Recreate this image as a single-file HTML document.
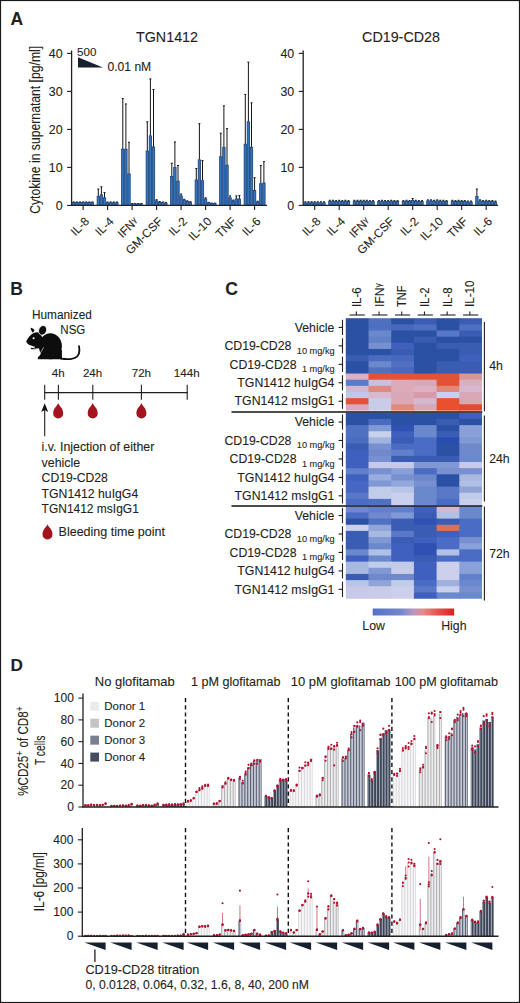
<!DOCTYPE html>
<html><head><meta charset="utf-8"><style>
html,body{margin:0;padding:0;background:#fff;}
body{width:520px;height:1003px;overflow:hidden;}
svg{display:block;font-family:"Liberation Sans", sans-serif;}
text{stroke:#231f20;stroke-width:0.1px;}
</style></head><body>
<svg width="520" height="1003" viewBox="0 0 520 1003">
<rect x="0" y="0" width="520" height="1003" fill="#fff"/>
<text x="10.50" y="25.00" font-size="17.5" font-weight="bold" fill="#231f20" >A</text>
<text x="167.00" y="42.20" font-size="14.3" text-anchor="middle" fill="#231f20" >TGN1412</text>
<line x1="71.60" y1="50.50" x2="71.60" y2="206.00" stroke="#231f20" stroke-width="1.3" />
<line x1="67.10" y1="205.40" x2="71.60" y2="205.40" stroke="#231f20" stroke-width="1.1" />
<text x="62.60" y="209.80" font-size="12.4" text-anchor="end" fill="#231f20" >0</text>
<line x1="67.10" y1="167.40" x2="71.60" y2="167.40" stroke="#231f20" stroke-width="1.1" />
<text x="62.60" y="171.80" font-size="12.4" text-anchor="end" fill="#231f20" >10</text>
<line x1="67.10" y1="129.40" x2="71.60" y2="129.40" stroke="#231f20" stroke-width="1.1" />
<text x="62.60" y="133.80" font-size="12.4" text-anchor="end" fill="#231f20" >20</text>
<line x1="67.10" y1="91.40" x2="71.60" y2="91.40" stroke="#231f20" stroke-width="1.1" />
<text x="62.60" y="95.80" font-size="12.4" text-anchor="end" fill="#231f20" >30</text>
<line x1="67.10" y1="53.40" x2="71.60" y2="53.40" stroke="#231f20" stroke-width="1.1" />
<text x="62.60" y="57.80" font-size="12.4" text-anchor="end" fill="#231f20" >40</text>
<line x1="83.10" y1="205.40" x2="83.10" y2="209.90" stroke="#231f20" stroke-width="1.1" />
<line x1="73.80" y1="201.98" x2="73.80" y2="202.36" stroke="#151515" stroke-width="1.0" />
<line x1="72.80" y1="201.98" x2="74.80" y2="201.98" stroke="#151515" stroke-width="1.0" />
<rect x="72.60" y="202.36" width="2.40" height="3.04" fill="#3575bd" stroke="#143a72" stroke-width="0.75"/>
<line x1="76.90" y1="201.98" x2="76.90" y2="202.36" stroke="#151515" stroke-width="1.0" />
<line x1="75.90" y1="201.98" x2="77.90" y2="201.98" stroke="#151515" stroke-width="1.0" />
<rect x="75.70" y="202.36" width="2.40" height="3.04" fill="#3575bd" stroke="#143a72" stroke-width="0.75"/>
<line x1="80.00" y1="201.98" x2="80.00" y2="202.36" stroke="#151515" stroke-width="1.0" />
<line x1="79.00" y1="201.98" x2="81.00" y2="201.98" stroke="#151515" stroke-width="1.0" />
<rect x="78.80" y="202.36" width="2.40" height="3.04" fill="#3575bd" stroke="#143a72" stroke-width="0.75"/>
<line x1="83.10" y1="201.98" x2="83.10" y2="202.36" stroke="#151515" stroke-width="1.0" />
<line x1="82.10" y1="201.98" x2="84.10" y2="201.98" stroke="#151515" stroke-width="1.0" />
<rect x="81.90" y="202.36" width="2.40" height="3.04" fill="#3575bd" stroke="#143a72" stroke-width="0.75"/>
<line x1="86.20" y1="201.98" x2="86.20" y2="202.36" stroke="#151515" stroke-width="1.0" />
<line x1="85.20" y1="201.98" x2="87.20" y2="201.98" stroke="#151515" stroke-width="1.0" />
<rect x="85.00" y="202.36" width="2.40" height="3.04" fill="#3575bd" stroke="#143a72" stroke-width="0.75"/>
<line x1="89.30" y1="201.98" x2="89.30" y2="202.36" stroke="#151515" stroke-width="1.0" />
<line x1="88.30" y1="201.98" x2="90.30" y2="201.98" stroke="#151515" stroke-width="1.0" />
<rect x="88.10" y="202.36" width="2.40" height="3.04" fill="#3575bd" stroke="#143a72" stroke-width="0.75"/>
<line x1="92.40" y1="201.98" x2="92.40" y2="202.36" stroke="#151515" stroke-width="1.0" />
<line x1="91.40" y1="201.98" x2="93.40" y2="201.98" stroke="#151515" stroke-width="1.0" />
<rect x="91.20" y="202.36" width="2.40" height="3.04" fill="#3575bd" stroke="#143a72" stroke-width="0.75"/>
<text transform="translate(89.80,222.20) rotate(-45)" font-size="11.8" text-anchor="end" fill="#231f20">IL-8</text>
<line x1="107.60" y1="205.40" x2="107.60" y2="209.90" stroke="#231f20" stroke-width="1.1" />
<line x1="98.30" y1="189.06" x2="98.30" y2="196.28" stroke="#151515" stroke-width="1.0" />
<line x1="97.30" y1="189.06" x2="99.30" y2="189.06" stroke="#151515" stroke-width="1.0" />
<rect x="97.10" y="196.28" width="2.40" height="9.12" fill="#3575bd" stroke="#143a72" stroke-width="0.75"/>
<line x1="101.40" y1="186.78" x2="101.40" y2="194.76" stroke="#151515" stroke-width="1.0" />
<line x1="100.40" y1="186.78" x2="102.40" y2="186.78" stroke="#151515" stroke-width="1.0" />
<rect x="100.20" y="194.76" width="2.40" height="10.64" fill="#3575bd" stroke="#143a72" stroke-width="0.75"/>
<line x1="104.50" y1="192.48" x2="104.50" y2="197.80" stroke="#151515" stroke-width="1.0" />
<line x1="103.50" y1="192.48" x2="105.50" y2="192.48" stroke="#151515" stroke-width="1.0" />
<rect x="103.30" y="197.80" width="2.40" height="7.60" fill="#3575bd" stroke="#143a72" stroke-width="0.75"/>
<line x1="107.60" y1="201.98" x2="107.60" y2="202.74" stroke="#151515" stroke-width="1.0" />
<line x1="106.60" y1="201.98" x2="108.60" y2="201.98" stroke="#151515" stroke-width="1.0" />
<rect x="106.40" y="202.74" width="2.40" height="2.66" fill="#3575bd" stroke="#143a72" stroke-width="0.75"/>
<line x1="110.70" y1="201.98" x2="110.70" y2="202.74" stroke="#151515" stroke-width="1.0" />
<line x1="109.70" y1="201.98" x2="111.70" y2="201.98" stroke="#151515" stroke-width="1.0" />
<rect x="109.50" y="202.74" width="2.40" height="2.66" fill="#3575bd" stroke="#143a72" stroke-width="0.75"/>
<line x1="113.80" y1="201.98" x2="113.80" y2="202.74" stroke="#151515" stroke-width="1.0" />
<line x1="112.80" y1="201.98" x2="114.80" y2="201.98" stroke="#151515" stroke-width="1.0" />
<rect x="112.60" y="202.74" width="2.40" height="2.66" fill="#3575bd" stroke="#143a72" stroke-width="0.75"/>
<line x1="116.90" y1="201.98" x2="116.90" y2="202.74" stroke="#151515" stroke-width="1.0" />
<line x1="115.90" y1="201.98" x2="117.90" y2="201.98" stroke="#151515" stroke-width="1.0" />
<rect x="115.70" y="202.74" width="2.40" height="2.66" fill="#3575bd" stroke="#143a72" stroke-width="0.75"/>
<text transform="translate(114.30,222.20) rotate(-45)" font-size="11.8" text-anchor="end" fill="#231f20">IL-4</text>
<line x1="132.10" y1="205.40" x2="132.10" y2="209.90" stroke="#231f20" stroke-width="1.1" />
<line x1="122.80" y1="98.62" x2="122.80" y2="149.16" stroke="#151515" stroke-width="1.0" />
<line x1="121.80" y1="98.62" x2="123.80" y2="98.62" stroke="#151515" stroke-width="1.0" />
<rect x="121.60" y="149.16" width="2.40" height="56.24" fill="#3575bd" stroke="#143a72" stroke-width="0.75"/>
<line x1="125.90" y1="103.94" x2="125.90" y2="149.16" stroke="#151515" stroke-width="1.0" />
<line x1="124.90" y1="103.94" x2="126.90" y2="103.94" stroke="#151515" stroke-width="1.0" />
<rect x="124.70" y="149.16" width="2.40" height="56.24" fill="#3575bd" stroke="#143a72" stroke-width="0.75"/>
<line x1="129.00" y1="142.32" x2="129.00" y2="173.86" stroke="#151515" stroke-width="1.0" />
<line x1="128.00" y1="142.32" x2="130.00" y2="142.32" stroke="#151515" stroke-width="1.0" />
<rect x="127.80" y="173.86" width="2.40" height="31.54" fill="#3575bd" stroke="#143a72" stroke-width="0.75"/>
<line x1="132.10" y1="203.50" x2="132.10" y2="203.88" stroke="#151515" stroke-width="1.0" />
<line x1="131.10" y1="203.50" x2="133.10" y2="203.50" stroke="#151515" stroke-width="1.0" />
<rect x="130.90" y="203.88" width="2.40" height="1.52" fill="#3575bd" stroke="#143a72" stroke-width="0.75"/>
<line x1="135.20" y1="203.50" x2="135.20" y2="203.88" stroke="#151515" stroke-width="1.0" />
<line x1="134.20" y1="203.50" x2="136.20" y2="203.50" stroke="#151515" stroke-width="1.0" />
<rect x="134.00" y="203.88" width="2.40" height="1.52" fill="#3575bd" stroke="#143a72" stroke-width="0.75"/>
<line x1="138.30" y1="203.50" x2="138.30" y2="203.88" stroke="#151515" stroke-width="1.0" />
<line x1="137.30" y1="203.50" x2="139.30" y2="203.50" stroke="#151515" stroke-width="1.0" />
<rect x="137.10" y="203.88" width="2.40" height="1.52" fill="#3575bd" stroke="#143a72" stroke-width="0.75"/>
<line x1="141.40" y1="203.50" x2="141.40" y2="203.88" stroke="#151515" stroke-width="1.0" />
<line x1="140.40" y1="203.50" x2="142.40" y2="203.50" stroke="#151515" stroke-width="1.0" />
<rect x="140.20" y="203.88" width="2.40" height="1.52" fill="#3575bd" stroke="#143a72" stroke-width="0.75"/>
<text transform="translate(138.80,222.20) rotate(-45)" font-size="11.8" text-anchor="end" fill="#231f20">IFN<tspan font-size="8.4" dy="-2.6">&#947;</tspan></text>
<line x1="156.60" y1="205.40" x2="156.60" y2="209.90" stroke="#231f20" stroke-width="1.1" />
<line x1="147.30" y1="121.80" x2="147.30" y2="151.06" stroke="#151515" stroke-width="1.0" />
<line x1="146.30" y1="121.80" x2="148.30" y2="121.80" stroke="#151515" stroke-width="1.0" />
<rect x="146.10" y="151.06" width="2.40" height="54.34" fill="#3575bd" stroke="#143a72" stroke-width="0.75"/>
<line x1="150.40" y1="78.86" x2="150.40" y2="135.86" stroke="#151515" stroke-width="1.0" />
<line x1="149.40" y1="78.86" x2="151.40" y2="78.86" stroke="#151515" stroke-width="1.0" />
<rect x="149.20" y="135.86" width="2.40" height="69.54" fill="#3575bd" stroke="#143a72" stroke-width="0.75"/>
<line x1="153.50" y1="89.50" x2="153.50" y2="146.88" stroke="#151515" stroke-width="1.0" />
<line x1="152.50" y1="89.50" x2="154.50" y2="89.50" stroke="#151515" stroke-width="1.0" />
<rect x="152.30" y="146.88" width="2.40" height="58.52" fill="#3575bd" stroke="#143a72" stroke-width="0.75"/>
<line x1="156.60" y1="199.70" x2="156.60" y2="200.84" stroke="#151515" stroke-width="1.0" />
<line x1="155.60" y1="199.70" x2="157.60" y2="199.70" stroke="#151515" stroke-width="1.0" />
<rect x="155.40" y="200.84" width="2.40" height="4.56" fill="#3575bd" stroke="#143a72" stroke-width="0.75"/>
<line x1="159.70" y1="201.60" x2="159.70" y2="202.36" stroke="#151515" stroke-width="1.0" />
<line x1="158.70" y1="201.60" x2="160.70" y2="201.60" stroke="#151515" stroke-width="1.0" />
<rect x="158.50" y="202.36" width="2.40" height="3.04" fill="#3575bd" stroke="#143a72" stroke-width="0.75"/>
<line x1="162.80" y1="201.98" x2="162.80" y2="202.74" stroke="#151515" stroke-width="1.0" />
<line x1="161.80" y1="201.98" x2="163.80" y2="201.98" stroke="#151515" stroke-width="1.0" />
<rect x="161.60" y="202.74" width="2.40" height="2.66" fill="#3575bd" stroke="#143a72" stroke-width="0.75"/>
<line x1="165.90" y1="202.36" x2="165.90" y2="203.12" stroke="#151515" stroke-width="1.0" />
<line x1="164.90" y1="202.36" x2="166.90" y2="202.36" stroke="#151515" stroke-width="1.0" />
<rect x="164.70" y="203.12" width="2.40" height="2.28" fill="#3575bd" stroke="#143a72" stroke-width="0.75"/>
<text transform="translate(163.30,222.20) rotate(-45)" font-size="11.8" text-anchor="end" fill="#231f20">GM-CSF</text>
<line x1="181.10" y1="205.40" x2="181.10" y2="209.90" stroke="#231f20" stroke-width="1.1" />
<line x1="171.80" y1="163.22" x2="171.80" y2="176.52" stroke="#151515" stroke-width="1.0" />
<line x1="170.80" y1="163.22" x2="172.80" y2="163.22" stroke="#151515" stroke-width="1.0" />
<rect x="170.60" y="176.52" width="2.40" height="28.88" fill="#3575bd" stroke="#143a72" stroke-width="0.75"/>
<line x1="174.90" y1="141.94" x2="174.90" y2="167.40" stroke="#151515" stroke-width="1.0" />
<line x1="173.90" y1="141.94" x2="175.90" y2="141.94" stroke="#151515" stroke-width="1.0" />
<rect x="173.70" y="167.40" width="2.40" height="38.00" fill="#3575bd" stroke="#143a72" stroke-width="0.75"/>
<line x1="178.00" y1="165.50" x2="178.00" y2="181.08" stroke="#151515" stroke-width="1.0" />
<line x1="177.00" y1="165.50" x2="179.00" y2="165.50" stroke="#151515" stroke-width="1.0" />
<rect x="176.80" y="181.08" width="2.40" height="24.32" fill="#3575bd" stroke="#143a72" stroke-width="0.75"/>
<line x1="181.10" y1="194.00" x2="181.10" y2="195.90" stroke="#151515" stroke-width="1.0" />
<line x1="180.10" y1="194.00" x2="182.10" y2="194.00" stroke="#151515" stroke-width="1.0" />
<rect x="179.90" y="195.90" width="2.40" height="9.50" fill="#3575bd" stroke="#143a72" stroke-width="0.75"/>
<line x1="184.20" y1="199.32" x2="184.20" y2="200.08" stroke="#151515" stroke-width="1.0" />
<line x1="183.20" y1="199.32" x2="185.20" y2="199.32" stroke="#151515" stroke-width="1.0" />
<rect x="183.00" y="200.08" width="2.40" height="5.32" fill="#3575bd" stroke="#143a72" stroke-width="0.75"/>
<line x1="187.30" y1="200.84" x2="187.30" y2="201.60" stroke="#151515" stroke-width="1.0" />
<line x1="186.30" y1="200.84" x2="188.30" y2="200.84" stroke="#151515" stroke-width="1.0" />
<rect x="186.10" y="201.60" width="2.40" height="3.80" fill="#3575bd" stroke="#143a72" stroke-width="0.75"/>
<line x1="190.40" y1="201.60" x2="190.40" y2="202.36" stroke="#151515" stroke-width="1.0" />
<line x1="189.40" y1="201.60" x2="191.40" y2="201.60" stroke="#151515" stroke-width="1.0" />
<rect x="189.20" y="202.36" width="2.40" height="3.04" fill="#3575bd" stroke="#143a72" stroke-width="0.75"/>
<text transform="translate(187.80,222.20) rotate(-45)" font-size="11.8" text-anchor="end" fill="#231f20">IL-2</text>
<line x1="205.60" y1="205.40" x2="205.60" y2="209.90" stroke="#231f20" stroke-width="1.1" />
<line x1="196.30" y1="168.54" x2="196.30" y2="179.94" stroke="#151515" stroke-width="1.0" />
<line x1="195.30" y1="168.54" x2="197.30" y2="168.54" stroke="#151515" stroke-width="1.0" />
<rect x="195.10" y="179.94" width="2.40" height="25.46" fill="#3575bd" stroke="#143a72" stroke-width="0.75"/>
<line x1="199.40" y1="123.70" x2="199.40" y2="159.80" stroke="#151515" stroke-width="1.0" />
<line x1="198.40" y1="123.70" x2="200.40" y2="123.70" stroke="#151515" stroke-width="1.0" />
<rect x="198.20" y="159.80" width="2.40" height="45.60" fill="#3575bd" stroke="#143a72" stroke-width="0.75"/>
<line x1="202.50" y1="160.56" x2="202.50" y2="180.70" stroke="#151515" stroke-width="1.0" />
<line x1="201.50" y1="160.56" x2="203.50" y2="160.56" stroke="#151515" stroke-width="1.0" />
<rect x="201.30" y="180.70" width="2.40" height="24.70" fill="#3575bd" stroke="#143a72" stroke-width="0.75"/>
<line x1="205.60" y1="197.80" x2="205.60" y2="198.94" stroke="#151515" stroke-width="1.0" />
<line x1="204.60" y1="197.80" x2="206.60" y2="197.80" stroke="#151515" stroke-width="1.0" />
<rect x="204.40" y="198.94" width="2.40" height="6.46" fill="#3575bd" stroke="#143a72" stroke-width="0.75"/>
<line x1="208.70" y1="202.36" x2="208.70" y2="202.74" stroke="#151515" stroke-width="1.0" />
<line x1="207.70" y1="202.36" x2="209.70" y2="202.36" stroke="#151515" stroke-width="1.0" />
<rect x="207.50" y="202.74" width="2.40" height="2.66" fill="#3575bd" stroke="#143a72" stroke-width="0.75"/>
<line x1="211.80" y1="203.12" x2="211.80" y2="203.50" stroke="#151515" stroke-width="1.0" />
<line x1="210.80" y1="203.12" x2="212.80" y2="203.12" stroke="#151515" stroke-width="1.0" />
<rect x="210.60" y="203.50" width="2.40" height="1.90" fill="#3575bd" stroke="#143a72" stroke-width="0.75"/>
<line x1="214.90" y1="203.12" x2="214.90" y2="203.50" stroke="#151515" stroke-width="1.0" />
<line x1="213.90" y1="203.12" x2="215.90" y2="203.12" stroke="#151515" stroke-width="1.0" />
<rect x="213.70" y="203.50" width="2.40" height="1.90" fill="#3575bd" stroke="#143a72" stroke-width="0.75"/>
<text transform="translate(212.30,222.20) rotate(-45)" font-size="11.8" text-anchor="end" fill="#231f20">IL-10</text>
<line x1="230.10" y1="205.40" x2="230.10" y2="209.90" stroke="#231f20" stroke-width="1.1" />
<line x1="220.80" y1="133.20" x2="220.80" y2="156.76" stroke="#151515" stroke-width="1.0" />
<line x1="219.80" y1="133.20" x2="221.80" y2="133.20" stroke="#151515" stroke-width="1.0" />
<rect x="219.60" y="156.76" width="2.40" height="48.64" fill="#3575bd" stroke="#143a72" stroke-width="0.75"/>
<line x1="223.90" y1="105.84" x2="223.90" y2="147.26" stroke="#151515" stroke-width="1.0" />
<line x1="222.90" y1="105.84" x2="224.90" y2="105.84" stroke="#151515" stroke-width="1.0" />
<rect x="222.70" y="147.26" width="2.40" height="58.14" fill="#3575bd" stroke="#143a72" stroke-width="0.75"/>
<line x1="227.00" y1="128.64" x2="227.00" y2="165.12" stroke="#151515" stroke-width="1.0" />
<line x1="226.00" y1="128.64" x2="228.00" y2="128.64" stroke="#151515" stroke-width="1.0" />
<rect x="225.80" y="165.12" width="2.40" height="40.28" fill="#3575bd" stroke="#143a72" stroke-width="0.75"/>
<line x1="230.10" y1="195.90" x2="230.10" y2="197.80" stroke="#151515" stroke-width="1.0" />
<line x1="229.10" y1="195.90" x2="231.10" y2="195.90" stroke="#151515" stroke-width="1.0" />
<rect x="228.90" y="197.80" width="2.40" height="7.60" fill="#3575bd" stroke="#143a72" stroke-width="0.75"/>
<line x1="233.20" y1="200.08" x2="233.20" y2="200.84" stroke="#151515" stroke-width="1.0" />
<line x1="232.20" y1="200.08" x2="234.20" y2="200.08" stroke="#151515" stroke-width="1.0" />
<rect x="232.00" y="200.84" width="2.40" height="4.56" fill="#3575bd" stroke="#143a72" stroke-width="0.75"/>
<line x1="236.30" y1="195.90" x2="236.30" y2="198.94" stroke="#151515" stroke-width="1.0" />
<line x1="235.30" y1="195.90" x2="237.30" y2="195.90" stroke="#151515" stroke-width="1.0" />
<rect x="235.10" y="198.94" width="2.40" height="6.46" fill="#3575bd" stroke="#143a72" stroke-width="0.75"/>
<line x1="239.40" y1="195.52" x2="239.40" y2="198.94" stroke="#151515" stroke-width="1.0" />
<line x1="238.40" y1="195.52" x2="240.40" y2="195.52" stroke="#151515" stroke-width="1.0" />
<rect x="238.20" y="198.94" width="2.40" height="6.46" fill="#3575bd" stroke="#143a72" stroke-width="0.75"/>
<text transform="translate(236.80,222.20) rotate(-45)" font-size="11.8" text-anchor="end" fill="#231f20">TNF</text>
<line x1="254.60" y1="205.40" x2="254.60" y2="209.90" stroke="#231f20" stroke-width="1.1" />
<line x1="245.30" y1="94.44" x2="245.30" y2="144.22" stroke="#151515" stroke-width="1.0" />
<line x1="244.30" y1="94.44" x2="246.30" y2="94.44" stroke="#151515" stroke-width="1.0" />
<rect x="244.10" y="144.22" width="2.40" height="61.18" fill="#3575bd" stroke="#143a72" stroke-width="0.75"/>
<line x1="248.40" y1="62.14" x2="248.40" y2="121.80" stroke="#151515" stroke-width="1.0" />
<line x1="247.40" y1="62.14" x2="249.40" y2="62.14" stroke="#151515" stroke-width="1.0" />
<rect x="247.20" y="121.80" width="2.40" height="83.60" fill="#3575bd" stroke="#143a72" stroke-width="0.75"/>
<line x1="251.50" y1="102.80" x2="251.50" y2="147.26" stroke="#151515" stroke-width="1.0" />
<line x1="250.50" y1="102.80" x2="252.50" y2="102.80" stroke="#151515" stroke-width="1.0" />
<rect x="250.30" y="147.26" width="2.40" height="58.14" fill="#3575bd" stroke="#143a72" stroke-width="0.75"/>
<line x1="254.60" y1="177.66" x2="254.60" y2="190.58" stroke="#151515" stroke-width="1.0" />
<line x1="253.60" y1="177.66" x2="255.60" y2="177.66" stroke="#151515" stroke-width="1.0" />
<rect x="253.40" y="190.58" width="2.40" height="14.82" fill="#3575bd" stroke="#143a72" stroke-width="0.75"/>
<line x1="257.70" y1="201.22" x2="257.70" y2="201.98" stroke="#151515" stroke-width="1.0" />
<line x1="256.70" y1="201.22" x2="258.70" y2="201.22" stroke="#151515" stroke-width="1.0" />
<rect x="256.50" y="201.98" width="2.40" height="3.42" fill="#3575bd" stroke="#143a72" stroke-width="0.75"/>
<line x1="260.80" y1="165.50" x2="260.80" y2="183.74" stroke="#151515" stroke-width="1.0" />
<line x1="259.80" y1="165.50" x2="261.80" y2="165.50" stroke="#151515" stroke-width="1.0" />
<rect x="259.60" y="183.74" width="2.40" height="21.66" fill="#3575bd" stroke="#143a72" stroke-width="0.75"/>
<line x1="263.90" y1="161.70" x2="263.90" y2="182.98" stroke="#151515" stroke-width="1.0" />
<line x1="262.90" y1="161.70" x2="264.90" y2="161.70" stroke="#151515" stroke-width="1.0" />
<rect x="262.70" y="182.98" width="2.40" height="22.42" fill="#3575bd" stroke="#143a72" stroke-width="0.75"/>
<text transform="translate(261.30,222.20) rotate(-45)" font-size="11.8" text-anchor="end" fill="#231f20">IL-6</text>
<line x1="71.00" y1="205.40" x2="267.00" y2="205.40" stroke="#231f20" stroke-width="1.3" />
<text x="401.00" y="42.20" font-size="14.3" text-anchor="middle" fill="#231f20" >CD19-CD28</text>
<line x1="303.20" y1="50.50" x2="303.20" y2="206.00" stroke="#231f20" stroke-width="1.3" />
<line x1="298.70" y1="205.40" x2="303.20" y2="205.40" stroke="#231f20" stroke-width="1.1" />
<text x="294.20" y="209.80" font-size="12.4" text-anchor="end" fill="#231f20" >0</text>
<line x1="298.70" y1="167.40" x2="303.20" y2="167.40" stroke="#231f20" stroke-width="1.1" />
<text x="294.20" y="171.80" font-size="12.4" text-anchor="end" fill="#231f20" >10</text>
<line x1="298.70" y1="129.40" x2="303.20" y2="129.40" stroke="#231f20" stroke-width="1.1" />
<text x="294.20" y="133.80" font-size="12.4" text-anchor="end" fill="#231f20" >20</text>
<line x1="298.70" y1="91.40" x2="303.20" y2="91.40" stroke="#231f20" stroke-width="1.1" />
<text x="294.20" y="95.80" font-size="12.4" text-anchor="end" fill="#231f20" >30</text>
<line x1="298.70" y1="53.40" x2="303.20" y2="53.40" stroke="#231f20" stroke-width="1.1" />
<text x="294.20" y="57.80" font-size="12.4" text-anchor="end" fill="#231f20" >40</text>
<line x1="314.70" y1="205.40" x2="314.70" y2="209.90" stroke="#231f20" stroke-width="1.1" />
<line x1="305.40" y1="201.79" x2="305.40" y2="202.74" stroke="#151515" stroke-width="1.0" />
<line x1="304.40" y1="201.79" x2="306.40" y2="201.79" stroke="#151515" stroke-width="1.0" />
<rect x="304.20" y="202.74" width="2.40" height="2.66" fill="#3575bd" stroke="#143a72" stroke-width="0.75"/>
<line x1="308.50" y1="201.79" x2="308.50" y2="202.74" stroke="#151515" stroke-width="1.0" />
<line x1="307.50" y1="201.79" x2="309.50" y2="201.79" stroke="#151515" stroke-width="1.0" />
<rect x="307.30" y="202.74" width="2.40" height="2.66" fill="#3575bd" stroke="#143a72" stroke-width="0.75"/>
<line x1="311.60" y1="201.79" x2="311.60" y2="202.74" stroke="#151515" stroke-width="1.0" />
<line x1="310.60" y1="201.79" x2="312.60" y2="201.79" stroke="#151515" stroke-width="1.0" />
<rect x="310.40" y="202.74" width="2.40" height="2.66" fill="#3575bd" stroke="#143a72" stroke-width="0.75"/>
<line x1="314.70" y1="201.79" x2="314.70" y2="202.74" stroke="#151515" stroke-width="1.0" />
<line x1="313.70" y1="201.79" x2="315.70" y2="201.79" stroke="#151515" stroke-width="1.0" />
<rect x="313.50" y="202.74" width="2.40" height="2.66" fill="#3575bd" stroke="#143a72" stroke-width="0.75"/>
<line x1="317.80" y1="201.79" x2="317.80" y2="202.74" stroke="#151515" stroke-width="1.0" />
<line x1="316.80" y1="201.79" x2="318.80" y2="201.79" stroke="#151515" stroke-width="1.0" />
<rect x="316.60" y="202.74" width="2.40" height="2.66" fill="#3575bd" stroke="#143a72" stroke-width="0.75"/>
<line x1="320.90" y1="201.79" x2="320.90" y2="202.74" stroke="#151515" stroke-width="1.0" />
<line x1="319.90" y1="201.79" x2="321.90" y2="201.79" stroke="#151515" stroke-width="1.0" />
<rect x="319.70" y="202.74" width="2.40" height="2.66" fill="#3575bd" stroke="#143a72" stroke-width="0.75"/>
<line x1="324.00" y1="201.79" x2="324.00" y2="202.74" stroke="#151515" stroke-width="1.0" />
<line x1="323.00" y1="201.79" x2="325.00" y2="201.79" stroke="#151515" stroke-width="1.0" />
<rect x="322.80" y="202.74" width="2.40" height="2.66" fill="#3575bd" stroke="#143a72" stroke-width="0.75"/>
<text transform="translate(321.40,222.20) rotate(-45)" font-size="11.8" text-anchor="end" fill="#231f20">IL-8</text>
<line x1="339.20" y1="205.40" x2="339.20" y2="209.90" stroke="#231f20" stroke-width="1.1" />
<line x1="329.90" y1="200.27" x2="329.90" y2="201.22" stroke="#151515" stroke-width="1.0" />
<line x1="328.90" y1="200.27" x2="330.90" y2="200.27" stroke="#151515" stroke-width="1.0" />
<rect x="328.70" y="201.22" width="2.40" height="4.18" fill="#3575bd" stroke="#143a72" stroke-width="0.75"/>
<line x1="333.00" y1="200.27" x2="333.00" y2="201.22" stroke="#151515" stroke-width="1.0" />
<line x1="332.00" y1="200.27" x2="334.00" y2="200.27" stroke="#151515" stroke-width="1.0" />
<rect x="331.80" y="201.22" width="2.40" height="4.18" fill="#3575bd" stroke="#143a72" stroke-width="0.75"/>
<line x1="336.10" y1="200.65" x2="336.10" y2="201.60" stroke="#151515" stroke-width="1.0" />
<line x1="335.10" y1="200.65" x2="337.10" y2="200.65" stroke="#151515" stroke-width="1.0" />
<rect x="334.90" y="201.60" width="2.40" height="3.80" fill="#3575bd" stroke="#143a72" stroke-width="0.75"/>
<line x1="339.20" y1="200.27" x2="339.20" y2="201.22" stroke="#151515" stroke-width="1.0" />
<line x1="338.20" y1="200.27" x2="340.20" y2="200.27" stroke="#151515" stroke-width="1.0" />
<rect x="338.00" y="201.22" width="2.40" height="4.18" fill="#3575bd" stroke="#143a72" stroke-width="0.75"/>
<line x1="342.30" y1="200.65" x2="342.30" y2="201.60" stroke="#151515" stroke-width="1.0" />
<line x1="341.30" y1="200.65" x2="343.30" y2="200.65" stroke="#151515" stroke-width="1.0" />
<rect x="341.10" y="201.60" width="2.40" height="3.80" fill="#3575bd" stroke="#143a72" stroke-width="0.75"/>
<line x1="345.40" y1="200.27" x2="345.40" y2="201.22" stroke="#151515" stroke-width="1.0" />
<line x1="344.40" y1="200.27" x2="346.40" y2="200.27" stroke="#151515" stroke-width="1.0" />
<rect x="344.20" y="201.22" width="2.40" height="4.18" fill="#3575bd" stroke="#143a72" stroke-width="0.75"/>
<line x1="348.50" y1="200.65" x2="348.50" y2="201.60" stroke="#151515" stroke-width="1.0" />
<line x1="347.50" y1="200.65" x2="349.50" y2="200.65" stroke="#151515" stroke-width="1.0" />
<rect x="347.30" y="201.60" width="2.40" height="3.80" fill="#3575bd" stroke="#143a72" stroke-width="0.75"/>
<text transform="translate(345.90,222.20) rotate(-45)" font-size="11.8" text-anchor="end" fill="#231f20">IL-4</text>
<line x1="363.70" y1="205.40" x2="363.70" y2="209.90" stroke="#231f20" stroke-width="1.1" />
<line x1="354.40" y1="200.27" x2="354.40" y2="201.22" stroke="#151515" stroke-width="1.0" />
<line x1="353.40" y1="200.27" x2="355.40" y2="200.27" stroke="#151515" stroke-width="1.0" />
<rect x="353.20" y="201.22" width="2.40" height="4.18" fill="#3575bd" stroke="#143a72" stroke-width="0.75"/>
<line x1="357.50" y1="200.27" x2="357.50" y2="201.22" stroke="#151515" stroke-width="1.0" />
<line x1="356.50" y1="200.27" x2="358.50" y2="200.27" stroke="#151515" stroke-width="1.0" />
<rect x="356.30" y="201.22" width="2.40" height="4.18" fill="#3575bd" stroke="#143a72" stroke-width="0.75"/>
<line x1="360.60" y1="200.27" x2="360.60" y2="201.22" stroke="#151515" stroke-width="1.0" />
<line x1="359.60" y1="200.27" x2="361.60" y2="200.27" stroke="#151515" stroke-width="1.0" />
<rect x="359.40" y="201.22" width="2.40" height="4.18" fill="#3575bd" stroke="#143a72" stroke-width="0.75"/>
<line x1="363.70" y1="200.27" x2="363.70" y2="201.22" stroke="#151515" stroke-width="1.0" />
<line x1="362.70" y1="200.27" x2="364.70" y2="200.27" stroke="#151515" stroke-width="1.0" />
<rect x="362.50" y="201.22" width="2.40" height="4.18" fill="#3575bd" stroke="#143a72" stroke-width="0.75"/>
<line x1="366.80" y1="200.27" x2="366.80" y2="201.22" stroke="#151515" stroke-width="1.0" />
<line x1="365.80" y1="200.27" x2="367.80" y2="200.27" stroke="#151515" stroke-width="1.0" />
<rect x="365.60" y="201.22" width="2.40" height="4.18" fill="#3575bd" stroke="#143a72" stroke-width="0.75"/>
<line x1="369.90" y1="200.65" x2="369.90" y2="201.60" stroke="#151515" stroke-width="1.0" />
<line x1="368.90" y1="200.65" x2="370.90" y2="200.65" stroke="#151515" stroke-width="1.0" />
<rect x="368.70" y="201.60" width="2.40" height="3.80" fill="#3575bd" stroke="#143a72" stroke-width="0.75"/>
<line x1="373.00" y1="200.65" x2="373.00" y2="201.60" stroke="#151515" stroke-width="1.0" />
<line x1="372.00" y1="200.65" x2="374.00" y2="200.65" stroke="#151515" stroke-width="1.0" />
<rect x="371.80" y="201.60" width="2.40" height="3.80" fill="#3575bd" stroke="#143a72" stroke-width="0.75"/>
<text transform="translate(370.40,222.20) rotate(-45)" font-size="11.8" text-anchor="end" fill="#231f20">IFN<tspan font-size="8.4" dy="-2.6">&#947;</tspan></text>
<line x1="388.20" y1="205.40" x2="388.20" y2="209.90" stroke="#231f20" stroke-width="1.1" />
<line x1="378.90" y1="200.65" x2="378.90" y2="201.60" stroke="#151515" stroke-width="1.0" />
<line x1="377.90" y1="200.65" x2="379.90" y2="200.65" stroke="#151515" stroke-width="1.0" />
<rect x="377.70" y="201.60" width="2.40" height="3.80" fill="#3575bd" stroke="#143a72" stroke-width="0.75"/>
<line x1="382.00" y1="200.27" x2="382.00" y2="201.22" stroke="#151515" stroke-width="1.0" />
<line x1="381.00" y1="200.27" x2="383.00" y2="200.27" stroke="#151515" stroke-width="1.0" />
<rect x="380.80" y="201.22" width="2.40" height="4.18" fill="#3575bd" stroke="#143a72" stroke-width="0.75"/>
<line x1="385.10" y1="200.65" x2="385.10" y2="201.60" stroke="#151515" stroke-width="1.0" />
<line x1="384.10" y1="200.65" x2="386.10" y2="200.65" stroke="#151515" stroke-width="1.0" />
<rect x="383.90" y="201.60" width="2.40" height="3.80" fill="#3575bd" stroke="#143a72" stroke-width="0.75"/>
<line x1="388.20" y1="200.65" x2="388.20" y2="201.60" stroke="#151515" stroke-width="1.0" />
<line x1="387.20" y1="200.65" x2="389.20" y2="200.65" stroke="#151515" stroke-width="1.0" />
<rect x="387.00" y="201.60" width="2.40" height="3.80" fill="#3575bd" stroke="#143a72" stroke-width="0.75"/>
<line x1="391.30" y1="200.27" x2="391.30" y2="201.22" stroke="#151515" stroke-width="1.0" />
<line x1="390.30" y1="200.27" x2="392.30" y2="200.27" stroke="#151515" stroke-width="1.0" />
<rect x="390.10" y="201.22" width="2.40" height="4.18" fill="#3575bd" stroke="#143a72" stroke-width="0.75"/>
<line x1="394.40" y1="200.65" x2="394.40" y2="201.60" stroke="#151515" stroke-width="1.0" />
<line x1="393.40" y1="200.65" x2="395.40" y2="200.65" stroke="#151515" stroke-width="1.0" />
<rect x="393.20" y="201.60" width="2.40" height="3.80" fill="#3575bd" stroke="#143a72" stroke-width="0.75"/>
<line x1="397.50" y1="200.65" x2="397.50" y2="201.60" stroke="#151515" stroke-width="1.0" />
<line x1="396.50" y1="200.65" x2="398.50" y2="200.65" stroke="#151515" stroke-width="1.0" />
<rect x="396.30" y="201.60" width="2.40" height="3.80" fill="#3575bd" stroke="#143a72" stroke-width="0.75"/>
<text transform="translate(394.90,222.20) rotate(-45)" font-size="11.8" text-anchor="end" fill="#231f20">GM-CSF</text>
<line x1="412.70" y1="205.40" x2="412.70" y2="209.90" stroke="#231f20" stroke-width="1.1" />
<line x1="403.40" y1="200.65" x2="403.40" y2="201.60" stroke="#151515" stroke-width="1.0" />
<line x1="402.40" y1="200.65" x2="404.40" y2="200.65" stroke="#151515" stroke-width="1.0" />
<rect x="402.20" y="201.60" width="2.40" height="3.80" fill="#3575bd" stroke="#143a72" stroke-width="0.75"/>
<line x1="406.50" y1="200.27" x2="406.50" y2="201.22" stroke="#151515" stroke-width="1.0" />
<line x1="405.50" y1="200.27" x2="407.50" y2="200.27" stroke="#151515" stroke-width="1.0" />
<rect x="405.30" y="201.22" width="2.40" height="4.18" fill="#3575bd" stroke="#143a72" stroke-width="0.75"/>
<line x1="409.60" y1="200.65" x2="409.60" y2="201.60" stroke="#151515" stroke-width="1.0" />
<line x1="408.60" y1="200.65" x2="410.60" y2="200.65" stroke="#151515" stroke-width="1.0" />
<rect x="408.40" y="201.60" width="2.40" height="3.80" fill="#3575bd" stroke="#143a72" stroke-width="0.75"/>
<line x1="412.70" y1="198.56" x2="412.70" y2="200.46" stroke="#151515" stroke-width="1.0" />
<line x1="411.70" y1="198.56" x2="413.70" y2="198.56" stroke="#151515" stroke-width="1.0" />
<rect x="411.50" y="200.46" width="2.40" height="4.94" fill="#3575bd" stroke="#143a72" stroke-width="0.75"/>
<line x1="415.80" y1="200.27" x2="415.80" y2="201.22" stroke="#151515" stroke-width="1.0" />
<line x1="414.80" y1="200.27" x2="416.80" y2="200.27" stroke="#151515" stroke-width="1.0" />
<rect x="414.60" y="201.22" width="2.40" height="4.18" fill="#3575bd" stroke="#143a72" stroke-width="0.75"/>
<line x1="418.90" y1="200.65" x2="418.90" y2="201.60" stroke="#151515" stroke-width="1.0" />
<line x1="417.90" y1="200.65" x2="419.90" y2="200.65" stroke="#151515" stroke-width="1.0" />
<rect x="417.70" y="201.60" width="2.40" height="3.80" fill="#3575bd" stroke="#143a72" stroke-width="0.75"/>
<line x1="422.00" y1="200.65" x2="422.00" y2="201.60" stroke="#151515" stroke-width="1.0" />
<line x1="421.00" y1="200.65" x2="423.00" y2="200.65" stroke="#151515" stroke-width="1.0" />
<rect x="420.80" y="201.60" width="2.40" height="3.80" fill="#3575bd" stroke="#143a72" stroke-width="0.75"/>
<text transform="translate(419.40,222.20) rotate(-45)" font-size="11.8" text-anchor="end" fill="#231f20">IL-2</text>
<line x1="437.20" y1="205.40" x2="437.20" y2="209.90" stroke="#231f20" stroke-width="1.1" />
<line x1="427.90" y1="199.89" x2="427.90" y2="200.84" stroke="#151515" stroke-width="1.0" />
<line x1="426.90" y1="199.89" x2="428.90" y2="199.89" stroke="#151515" stroke-width="1.0" />
<rect x="426.70" y="200.84" width="2.40" height="4.56" fill="#3575bd" stroke="#143a72" stroke-width="0.75"/>
<line x1="431.00" y1="199.89" x2="431.00" y2="200.84" stroke="#151515" stroke-width="1.0" />
<line x1="430.00" y1="199.89" x2="432.00" y2="199.89" stroke="#151515" stroke-width="1.0" />
<rect x="429.80" y="200.84" width="2.40" height="4.56" fill="#3575bd" stroke="#143a72" stroke-width="0.75"/>
<line x1="434.10" y1="200.27" x2="434.10" y2="201.22" stroke="#151515" stroke-width="1.0" />
<line x1="433.10" y1="200.27" x2="435.10" y2="200.27" stroke="#151515" stroke-width="1.0" />
<rect x="432.90" y="201.22" width="2.40" height="4.18" fill="#3575bd" stroke="#143a72" stroke-width="0.75"/>
<line x1="437.20" y1="199.89" x2="437.20" y2="200.84" stroke="#151515" stroke-width="1.0" />
<line x1="436.20" y1="199.89" x2="438.20" y2="199.89" stroke="#151515" stroke-width="1.0" />
<rect x="436.00" y="200.84" width="2.40" height="4.56" fill="#3575bd" stroke="#143a72" stroke-width="0.75"/>
<line x1="440.30" y1="200.27" x2="440.30" y2="201.22" stroke="#151515" stroke-width="1.0" />
<line x1="439.30" y1="200.27" x2="441.30" y2="200.27" stroke="#151515" stroke-width="1.0" />
<rect x="439.10" y="201.22" width="2.40" height="4.18" fill="#3575bd" stroke="#143a72" stroke-width="0.75"/>
<line x1="443.40" y1="200.27" x2="443.40" y2="201.22" stroke="#151515" stroke-width="1.0" />
<line x1="442.40" y1="200.27" x2="444.40" y2="200.27" stroke="#151515" stroke-width="1.0" />
<rect x="442.20" y="201.22" width="2.40" height="4.18" fill="#3575bd" stroke="#143a72" stroke-width="0.75"/>
<line x1="446.50" y1="200.65" x2="446.50" y2="201.60" stroke="#151515" stroke-width="1.0" />
<line x1="445.50" y1="200.65" x2="447.50" y2="200.65" stroke="#151515" stroke-width="1.0" />
<rect x="445.30" y="201.60" width="2.40" height="3.80" fill="#3575bd" stroke="#143a72" stroke-width="0.75"/>
<text transform="translate(443.90,222.20) rotate(-45)" font-size="11.8" text-anchor="end" fill="#231f20">IL-10</text>
<line x1="461.70" y1="205.40" x2="461.70" y2="209.90" stroke="#231f20" stroke-width="1.1" />
<line x1="452.40" y1="200.27" x2="452.40" y2="201.22" stroke="#151515" stroke-width="1.0" />
<line x1="451.40" y1="200.27" x2="453.40" y2="200.27" stroke="#151515" stroke-width="1.0" />
<rect x="451.20" y="201.22" width="2.40" height="4.18" fill="#3575bd" stroke="#143a72" stroke-width="0.75"/>
<line x1="455.50" y1="200.65" x2="455.50" y2="201.60" stroke="#151515" stroke-width="1.0" />
<line x1="454.50" y1="200.65" x2="456.50" y2="200.65" stroke="#151515" stroke-width="1.0" />
<rect x="454.30" y="201.60" width="2.40" height="3.80" fill="#3575bd" stroke="#143a72" stroke-width="0.75"/>
<line x1="458.60" y1="200.27" x2="458.60" y2="201.22" stroke="#151515" stroke-width="1.0" />
<line x1="457.60" y1="200.27" x2="459.60" y2="200.27" stroke="#151515" stroke-width="1.0" />
<rect x="457.40" y="201.22" width="2.40" height="4.18" fill="#3575bd" stroke="#143a72" stroke-width="0.75"/>
<line x1="461.70" y1="200.65" x2="461.70" y2="201.60" stroke="#151515" stroke-width="1.0" />
<line x1="460.70" y1="200.65" x2="462.70" y2="200.65" stroke="#151515" stroke-width="1.0" />
<rect x="460.50" y="201.60" width="2.40" height="3.80" fill="#3575bd" stroke="#143a72" stroke-width="0.75"/>
<line x1="464.80" y1="200.65" x2="464.80" y2="201.60" stroke="#151515" stroke-width="1.0" />
<line x1="463.80" y1="200.65" x2="465.80" y2="200.65" stroke="#151515" stroke-width="1.0" />
<rect x="463.60" y="201.60" width="2.40" height="3.80" fill="#3575bd" stroke="#143a72" stroke-width="0.75"/>
<line x1="467.90" y1="201.03" x2="467.90" y2="201.98" stroke="#151515" stroke-width="1.0" />
<line x1="466.90" y1="201.03" x2="468.90" y2="201.03" stroke="#151515" stroke-width="1.0" />
<rect x="466.70" y="201.98" width="2.40" height="3.42" fill="#3575bd" stroke="#143a72" stroke-width="0.75"/>
<line x1="471.00" y1="201.03" x2="471.00" y2="201.98" stroke="#151515" stroke-width="1.0" />
<line x1="470.00" y1="201.03" x2="472.00" y2="201.03" stroke="#151515" stroke-width="1.0" />
<rect x="469.80" y="201.98" width="2.40" height="3.42" fill="#3575bd" stroke="#143a72" stroke-width="0.75"/>
<text transform="translate(468.40,222.20) rotate(-45)" font-size="11.8" text-anchor="end" fill="#231f20">TNF</text>
<line x1="486.20" y1="205.40" x2="486.20" y2="209.90" stroke="#231f20" stroke-width="1.1" />
<line x1="476.90" y1="189.06" x2="476.90" y2="196.28" stroke="#151515" stroke-width="1.0" />
<line x1="475.90" y1="189.06" x2="477.90" y2="189.06" stroke="#151515" stroke-width="1.0" />
<rect x="475.70" y="196.28" width="2.40" height="9.12" fill="#3575bd" stroke="#143a72" stroke-width="0.75"/>
<line x1="480.00" y1="199.89" x2="480.00" y2="200.84" stroke="#151515" stroke-width="1.0" />
<line x1="479.00" y1="199.89" x2="481.00" y2="199.89" stroke="#151515" stroke-width="1.0" />
<rect x="478.80" y="200.84" width="2.40" height="4.56" fill="#3575bd" stroke="#143a72" stroke-width="0.75"/>
<line x1="483.10" y1="200.65" x2="483.10" y2="201.60" stroke="#151515" stroke-width="1.0" />
<line x1="482.10" y1="200.65" x2="484.10" y2="200.65" stroke="#151515" stroke-width="1.0" />
<rect x="481.90" y="201.60" width="2.40" height="3.80" fill="#3575bd" stroke="#143a72" stroke-width="0.75"/>
<line x1="486.20" y1="200.27" x2="486.20" y2="201.22" stroke="#151515" stroke-width="1.0" />
<line x1="485.20" y1="200.27" x2="487.20" y2="200.27" stroke="#151515" stroke-width="1.0" />
<rect x="485.00" y="201.22" width="2.40" height="4.18" fill="#3575bd" stroke="#143a72" stroke-width="0.75"/>
<line x1="489.30" y1="200.65" x2="489.30" y2="201.60" stroke="#151515" stroke-width="1.0" />
<line x1="488.30" y1="200.65" x2="490.30" y2="200.65" stroke="#151515" stroke-width="1.0" />
<rect x="488.10" y="201.60" width="2.40" height="3.80" fill="#3575bd" stroke="#143a72" stroke-width="0.75"/>
<line x1="492.40" y1="200.65" x2="492.40" y2="201.60" stroke="#151515" stroke-width="1.0" />
<line x1="491.40" y1="200.65" x2="493.40" y2="200.65" stroke="#151515" stroke-width="1.0" />
<rect x="491.20" y="201.60" width="2.40" height="3.80" fill="#3575bd" stroke="#143a72" stroke-width="0.75"/>
<line x1="495.50" y1="201.03" x2="495.50" y2="201.98" stroke="#151515" stroke-width="1.0" />
<line x1="494.50" y1="201.03" x2="496.50" y2="201.03" stroke="#151515" stroke-width="1.0" />
<rect x="494.30" y="201.98" width="2.40" height="3.42" fill="#3575bd" stroke="#143a72" stroke-width="0.75"/>
<text transform="translate(492.90,222.20) rotate(-45)" font-size="11.8" text-anchor="end" fill="#231f20">IL-6</text>
<line x1="302.60" y1="205.40" x2="498.00" y2="205.40" stroke="#231f20" stroke-width="1.3" />
<text x="77.00" y="55.60" font-size="11.6" fill="#231f20" >500</text>
<polygon points="78,57.2 78,67.6 103,67.6" fill="#16202e"/>
<text x="107.50" y="70.80" font-size="12.1" fill="#231f20" >0.01 nM</text>
<text transform="translate(40.30,129.80) rotate(-90)" font-size="14.5" text-anchor="middle" fill="#231f20" textLength="168" lengthAdjust="spacingAndGlyphs">Cytokine in supernatant [pg/ml]</text>
<text x="10.30" y="295.20" font-size="17.5" font-weight="bold" fill="#231f20" >B</text>
<text x="32.00" y="318.90" font-size="12.3" fill="#231f20" textLength="59.8" lengthAdjust="spacingAndGlyphs" >Humanized</text>
<text x="60.30" y="333.80" font-size="12.3" fill="#231f20" textLength="25" lengthAdjust="spacingAndGlyphs" >NSG</text>
<g fill="#0d0d0d"><ellipse cx="50.4" cy="346.2" rx="11.5" ry="13"/><path d="M26.3 341.3 C27.6 338.2 30.2 334.8 33.2 333.3 C35.2 332.3 37.5 331.8 39.5 332.6 C41.5 334 42.5 337 42 341 L41.5 352 C40.5 354.5 39.5 355.8 38.6 356.6 C37.6 357.1 37.4 358.3 38.2 359.2 L62 359.2 L61.9 350 L44 350 L43 347.3 C41 348.2 39 348.6 37 348.4 L34.3 348.5 C33 347.8 31.8 347.5 31.3 347.8 C30.6 348.3 30.8 349.1 31.6 349.2 L35.8 349.3 L35.8 348.6 C34.5 347.6 33.4 346.6 32.4 346 C30.8 345.3 29.2 344.9 28.2 344.2 C27 343.4 26.4 342.4 26.3 341.3 Z"/><path d="M30.6 327.8 C32 328.2 33.6 328.9 34.6 329.9 L33 332.8 C31.8 331.8 30.9 330.4 30.6 327.8 Z"/></g><ellipse cx="42.6" cy="330.3" rx="3.9" ry="4.9" transform="rotate(22 42.6 330.3)" fill="#0d0d0d" stroke="#fff" stroke-width="0.75"/><circle cx="33.6" cy="338.2" r="1.05" fill="#fff"/><path d="M43.6 347.3 C42.6 349.3 41.5 351.2 40.5 352.8" fill="none" stroke="#fff" stroke-width="0.6"/><path d="M31.5 346.8 L35 346.6" stroke="#fff" stroke-width="0.55"/><path d="M61 358.7 C68 359.7 74 359.1 77 356.6 C79.5 354.4 79.7 350 79 346.2" fill="none" stroke="#0d0d0d" stroke-width="1.8" stroke-linecap="round"/>
<line x1="44.20" y1="392.60" x2="187.70" y2="392.60" stroke="#231f20" stroke-width="1.1" />
<line x1="44.70" y1="384.80" x2="44.70" y2="399.80" stroke="#231f20" stroke-width="1.1" />
<line x1="58.40" y1="384.80" x2="58.40" y2="399.80" stroke="#231f20" stroke-width="1.1" />
<line x1="92.80" y1="384.80" x2="92.80" y2="399.80" stroke="#231f20" stroke-width="1.1" />
<line x1="141.40" y1="384.80" x2="141.40" y2="399.80" stroke="#231f20" stroke-width="1.1" />
<line x1="187.20" y1="384.80" x2="187.20" y2="399.80" stroke="#231f20" stroke-width="1.1" />
<text x="58.20" y="376.80" font-size="11.6" text-anchor="middle" fill="#231f20" >4h</text>
<text x="92.60" y="376.80" font-size="11.6" text-anchor="middle" fill="#231f20" >24h</text>
<text x="141.40" y="376.80" font-size="11.6" text-anchor="middle" fill="#231f20" >72h</text>
<text x="186.70" y="376.80" font-size="11.6" text-anchor="middle" fill="#231f20" >144h</text>
<path d="M58.20 403.10 C59.40 406.60 63.20 408.00 63.20 413.50 A5.0 5.0 0 0 1 53.20 413.50 C53.20 408.00 57.00 406.60 58.20 403.10 Z" fill="#a3141f"/>
<path d="M92.70 403.10 C93.90 406.60 97.70 408.00 97.70 413.50 A5.0 5.0 0 0 1 87.70 413.50 C87.70 408.00 91.50 406.60 92.70 403.10 Z" fill="#a3141f"/>
<path d="M141.40 403.10 C142.60 406.60 146.40 408.00 146.40 413.50 A5.0 5.0 0 0 1 136.40 413.50 C136.40 408.00 140.20 406.60 141.40 403.10 Z" fill="#a3141f"/>
<line x1="44.70" y1="408.00" x2="44.70" y2="436.20" stroke="#231f20" stroke-width="1.1" />
<path d="M44.7 403.3 L48.2 412 L44.7 410 L41.2 412 Z" fill="#111"/>
<text x="41.60" y="451.20" font-size="12.4" fill="#231f20" >i.v. Injection of either</text>
<text x="41.60" y="466.75" font-size="12.4" fill="#231f20" >vehicle</text>
<text x="41.60" y="482.30" font-size="12.4" fill="#231f20" textLength="66.3" lengthAdjust="spacingAndGlyphs" >CD19-CD28</text>
<text x="41.60" y="497.85" font-size="12.4" fill="#231f20" textLength="96.6" lengthAdjust="spacingAndGlyphs" >TGN1412 huIgG4</text>
<text x="41.60" y="513.40" font-size="12.4" fill="#231f20" textLength="97.2" lengthAdjust="spacingAndGlyphs" >TGN1412 msIgG1</text>
<path d="M47.50 524.20 C48.70 527.70 52.50 528.90 52.50 534.40 A5.0 5.0 0 0 1 42.50 534.40 C42.50 528.90 46.30 527.70 47.50 524.20 Z" fill="#a3141f"/>
<text x="58.60" y="536.20" font-size="12.5" fill="#231f20" >Bleeding time point</text>
<text x="225.30" y="295.30" font-size="17.5" font-weight="bold" fill="#231f20" >C</text>
<rect x="345.80" y="318.20" width="23.70" height="7.15" fill="#2b51a4" />
<rect x="368.50" y="318.20" width="23.70" height="7.15" fill="#5070c0" />
<rect x="391.20" y="318.20" width="23.70" height="7.15" fill="#2b51a4" />
<rect x="413.90" y="318.20" width="23.70" height="7.15" fill="#3a5db3" />
<rect x="436.60" y="318.20" width="23.70" height="7.15" fill="#2b51a4" />
<rect x="459.30" y="318.20" width="22.70" height="7.15" fill="#3a5db3" />
<rect x="345.80" y="324.35" width="23.70" height="7.15" fill="#2b51a4" />
<rect x="368.50" y="324.35" width="23.70" height="7.15" fill="#4f70c2" />
<rect x="391.20" y="324.35" width="23.70" height="7.15" fill="#4868c0" />
<rect x="413.90" y="324.35" width="23.70" height="7.15" fill="#4f70c2" />
<rect x="436.60" y="324.35" width="23.70" height="7.15" fill="#2b51a4" />
<rect x="459.30" y="324.35" width="22.70" height="7.15" fill="#4f70c2" />
<rect x="345.80" y="330.50" width="23.70" height="7.15" fill="#2b51a4" />
<rect x="368.50" y="330.50" width="23.70" height="7.15" fill="#6a88cc" />
<rect x="391.20" y="330.50" width="23.70" height="7.15" fill="#2b51a4" />
<rect x="413.90" y="330.50" width="23.70" height="7.15" fill="#2b51a4" />
<rect x="436.60" y="330.50" width="23.70" height="7.15" fill="#5a78c8" />
<rect x="459.30" y="330.50" width="22.70" height="7.15" fill="#3a5db3" />
<rect x="345.80" y="336.65" width="23.70" height="7.15" fill="#2b51a4" />
<rect x="368.50" y="336.65" width="23.70" height="7.15" fill="#6080c8" />
<rect x="391.20" y="336.65" width="23.70" height="7.15" fill="#2b51a4" />
<rect x="413.90" y="336.65" width="23.70" height="7.15" fill="#3a5db3" />
<rect x="436.60" y="336.65" width="23.70" height="7.15" fill="#2b51a4" />
<rect x="459.30" y="336.65" width="22.70" height="7.15" fill="#2b51a4" />
<rect x="345.80" y="342.80" width="23.70" height="7.15" fill="#2b51a4" />
<rect x="368.50" y="342.80" width="23.70" height="7.15" fill="#7890d0" />
<rect x="391.20" y="342.80" width="23.70" height="7.15" fill="#4060bc" />
<rect x="413.90" y="342.80" width="23.70" height="7.15" fill="#2b51a4" />
<rect x="436.60" y="342.80" width="23.70" height="7.15" fill="#3a5db3" />
<rect x="459.30" y="342.80" width="22.70" height="7.15" fill="#3a5db3" />
<rect x="345.80" y="348.95" width="23.70" height="7.15" fill="#2b51a4" />
<rect x="368.50" y="348.95" width="23.70" height="7.15" fill="#2b51a4" />
<rect x="391.20" y="348.95" width="23.70" height="7.15" fill="#3a5db3" />
<rect x="413.90" y="348.95" width="23.70" height="7.15" fill="#2b51a4" />
<rect x="436.60" y="348.95" width="23.70" height="7.15" fill="#2b51a4" />
<rect x="459.30" y="348.95" width="22.70" height="7.15" fill="#3a5db3" />
<rect x="345.80" y="355.10" width="23.70" height="7.15" fill="#3a5db3" />
<rect x="368.50" y="355.10" width="23.70" height="7.15" fill="#4a6cc0" />
<rect x="391.20" y="355.10" width="23.70" height="7.15" fill="#4868c0" />
<rect x="413.90" y="355.10" width="23.70" height="7.15" fill="#2b51a4" />
<rect x="436.60" y="355.10" width="23.70" height="7.15" fill="#2b51a4" />
<rect x="459.30" y="355.10" width="22.70" height="7.15" fill="#4060c0" />
<rect x="345.80" y="361.25" width="23.70" height="7.15" fill="#2b51a4" />
<rect x="368.50" y="361.25" width="23.70" height="7.15" fill="#6a88cc" />
<rect x="391.20" y="361.25" width="23.70" height="7.15" fill="#5070c4" />
<rect x="413.90" y="361.25" width="23.70" height="7.15" fill="#2b51a4" />
<rect x="436.60" y="361.25" width="23.70" height="7.15" fill="#3a5db3" />
<rect x="459.30" y="361.25" width="22.70" height="7.15" fill="#3a5db3" />
<rect x="345.80" y="367.40" width="23.70" height="7.15" fill="#2b51a4" />
<rect x="368.50" y="367.40" width="23.70" height="7.15" fill="#5070c0" />
<rect x="391.20" y="367.40" width="23.70" height="7.15" fill="#4868c0" />
<rect x="413.90" y="367.40" width="23.70" height="7.15" fill="#2b51a4" />
<rect x="436.60" y="367.40" width="23.70" height="7.15" fill="#3a5db3" />
<rect x="459.30" y="367.40" width="22.70" height="7.15" fill="#3a5db3" />
<rect x="345.80" y="373.55" width="23.70" height="7.15" fill="#dcb0c0" />
<rect x="368.50" y="373.55" width="23.70" height="7.15" fill="#e25237" />
<rect x="391.20" y="373.55" width="23.70" height="7.15" fill="#e25237" />
<rect x="413.90" y="373.55" width="23.70" height="7.15" fill="#e25237" />
<rect x="436.60" y="373.55" width="23.70" height="7.15" fill="#e25237" />
<rect x="459.30" y="373.55" width="22.70" height="7.15" fill="#d89898" />
<rect x="345.80" y="379.70" width="23.70" height="7.15" fill="#5a7cc8" />
<rect x="368.50" y="379.70" width="23.70" height="7.15" fill="#c8c0dc" />
<rect x="391.20" y="379.70" width="23.70" height="7.15" fill="#dcaab8" />
<rect x="413.90" y="379.70" width="23.70" height="7.15" fill="#d8a8b8" />
<rect x="436.60" y="379.70" width="23.70" height="7.15" fill="#e25237" />
<rect x="459.30" y="379.70" width="22.70" height="7.15" fill="#d8b0c0" />
<rect x="345.80" y="385.85" width="23.70" height="7.15" fill="#d0b8d0" />
<rect x="368.50" y="385.85" width="23.70" height="7.15" fill="#de8a80" />
<rect x="391.20" y="385.85" width="23.70" height="7.15" fill="#dcaab8" />
<rect x="413.90" y="385.85" width="23.70" height="7.15" fill="#dcb0c0" />
<rect x="436.60" y="385.85" width="23.70" height="7.15" fill="#e0887a" />
<rect x="459.30" y="385.85" width="22.70" height="7.15" fill="#d8b8d0" />
<rect x="345.80" y="392.00" width="23.70" height="7.15" fill="#c0c8e8" />
<rect x="368.50" y="392.00" width="23.70" height="7.15" fill="#d8b8cc" />
<rect x="391.20" y="392.00" width="23.70" height="7.15" fill="#d8a8b8" />
<rect x="413.90" y="392.00" width="23.70" height="7.15" fill="#d89aa8" />
<rect x="436.60" y="392.00" width="23.70" height="7.15" fill="#c8d0f0" />
<rect x="459.30" y="392.00" width="22.70" height="7.15" fill="#d8a8b8" />
<rect x="345.80" y="398.15" width="23.70" height="7.15" fill="#e25237" />
<rect x="368.50" y="398.15" width="23.70" height="7.15" fill="#c8cce8" />
<rect x="391.20" y="398.15" width="23.70" height="7.15" fill="#dca8b4" />
<rect x="413.90" y="398.15" width="23.70" height="7.15" fill="#d4b8d0" />
<rect x="436.60" y="398.15" width="23.70" height="7.15" fill="#e85030" />
<rect x="459.30" y="398.15" width="22.70" height="7.15" fill="#d8a8b0" />
<rect x="345.80" y="404.30" width="23.70" height="6.35" fill="#d8a8c0" />
<rect x="368.50" y="404.30" width="23.70" height="6.35" fill="#c8cce8" />
<rect x="391.20" y="404.30" width="23.70" height="6.35" fill="#df8a80" />
<rect x="413.90" y="404.30" width="23.70" height="6.35" fill="#d8a8b8" />
<rect x="436.60" y="404.30" width="23.70" height="6.35" fill="#e85030" />
<rect x="459.30" y="404.30" width="22.70" height="6.35" fill="#e84830" />
<rect x="345.80" y="412.80" width="23.70" height="7.15" fill="#2b51a4" />
<rect x="368.50" y="412.80" width="23.70" height="7.15" fill="#2b51a4" />
<rect x="391.20" y="412.80" width="23.70" height="7.15" fill="#2b51a4" />
<rect x="413.90" y="412.80" width="23.70" height="7.15" fill="#2b51a4" />
<rect x="436.60" y="412.80" width="23.70" height="7.15" fill="#2b51a4" />
<rect x="459.30" y="412.80" width="22.70" height="7.15" fill="#4060c0" />
<rect x="345.80" y="418.95" width="23.70" height="7.15" fill="#2b51a4" />
<rect x="368.50" y="418.95" width="23.70" height="7.15" fill="#4a6cc0" />
<rect x="391.20" y="418.95" width="23.70" height="7.15" fill="#2b51a4" />
<rect x="413.90" y="418.95" width="23.70" height="7.15" fill="#2b51a4" />
<rect x="436.60" y="418.95" width="23.70" height="7.15" fill="#3a5db3" />
<rect x="459.30" y="418.95" width="22.70" height="7.15" fill="#2b51a4" />
<rect x="345.80" y="425.10" width="23.70" height="7.15" fill="#5070c4" />
<rect x="368.50" y="425.10" width="23.70" height="7.15" fill="#8098d4" />
<rect x="391.20" y="425.10" width="23.70" height="7.15" fill="#3050b4" />
<rect x="413.90" y="425.10" width="23.70" height="7.15" fill="#6a88cc" />
<rect x="436.60" y="425.10" width="23.70" height="7.15" fill="#2b51a4" />
<rect x="459.30" y="425.10" width="22.70" height="7.15" fill="#8aa0d8" />
<rect x="345.80" y="431.25" width="23.70" height="7.15" fill="#5070c4" />
<rect x="368.50" y="431.25" width="23.70" height="7.15" fill="#c8d0ec" />
<rect x="391.20" y="431.25" width="23.70" height="7.15" fill="#4060c0" />
<rect x="413.90" y="431.25" width="23.70" height="7.15" fill="#6a88cc" />
<rect x="436.60" y="431.25" width="23.70" height="7.15" fill="#3a5db3" />
<rect x="459.30" y="431.25" width="22.70" height="7.15" fill="#8aa0d8" />
<rect x="345.80" y="437.40" width="23.70" height="7.15" fill="#4a6cc0" />
<rect x="368.50" y="437.40" width="23.70" height="7.15" fill="#a0b4e0" />
<rect x="391.20" y="437.40" width="23.70" height="7.15" fill="#3a5db3" />
<rect x="413.90" y="437.40" width="23.70" height="7.15" fill="#4a6cc4" />
<rect x="436.60" y="437.40" width="23.70" height="7.15" fill="#2a4cb0" />
<rect x="459.30" y="437.40" width="22.70" height="7.15" fill="#8098d4" />
<rect x="345.80" y="443.55" width="23.70" height="7.15" fill="#3a5db3" />
<rect x="368.50" y="443.55" width="23.70" height="7.15" fill="#7890d0" />
<rect x="391.20" y="443.55" width="23.70" height="7.15" fill="#4a6cc4" />
<rect x="413.90" y="443.55" width="23.70" height="7.15" fill="#4a6cc4" />
<rect x="436.60" y="443.55" width="23.70" height="7.15" fill="#2b51a4" />
<rect x="459.30" y="443.55" width="22.70" height="7.15" fill="#7088cc" />
<rect x="345.80" y="449.70" width="23.70" height="7.15" fill="#4060c0" />
<rect x="368.50" y="449.70" width="23.70" height="7.15" fill="#7088cc" />
<rect x="391.20" y="449.70" width="23.70" height="7.15" fill="#6080cc" />
<rect x="413.90" y="449.70" width="23.70" height="7.15" fill="#4a6cc4" />
<rect x="436.60" y="449.70" width="23.70" height="7.15" fill="#2b51a4" />
<rect x="459.30" y="449.70" width="22.70" height="7.15" fill="#7088cc" />
<rect x="345.80" y="455.85" width="23.70" height="7.15" fill="#4060c0" />
<rect x="368.50" y="455.85" width="23.70" height="7.15" fill="#7890d0" />
<rect x="391.20" y="455.85" width="23.70" height="7.15" fill="#3a5db3" />
<rect x="413.90" y="455.85" width="23.70" height="7.15" fill="#3a5db3" />
<rect x="436.60" y="455.85" width="23.70" height="7.15" fill="#3a5db3" />
<rect x="459.30" y="455.85" width="22.70" height="7.15" fill="#6a88cc" />
<rect x="345.80" y="462.00" width="23.70" height="7.15" fill="#4060c0" />
<rect x="368.50" y="462.00" width="23.70" height="7.15" fill="#c8c8e8" />
<rect x="391.20" y="462.00" width="23.70" height="7.15" fill="#c8c8e8" />
<rect x="413.90" y="462.00" width="23.70" height="7.15" fill="#8098d4" />
<rect x="436.60" y="462.00" width="23.70" height="7.15" fill="#8098d4" />
<rect x="459.30" y="462.00" width="22.70" height="7.15" fill="#c8c8e8" />
<rect x="345.80" y="468.15" width="23.70" height="7.15" fill="#6080cc" />
<rect x="368.50" y="468.15" width="23.70" height="7.15" fill="#7890d0" />
<rect x="391.20" y="468.15" width="23.70" height="7.15" fill="#8aa0d8" />
<rect x="413.90" y="468.15" width="23.70" height="7.15" fill="#4a6cc4" />
<rect x="436.60" y="468.15" width="23.70" height="7.15" fill="#7890d0" />
<rect x="459.30" y="468.15" width="22.70" height="7.15" fill="#7890d0" />
<rect x="345.80" y="474.30" width="23.70" height="7.15" fill="#4060c0" />
<rect x="368.50" y="474.30" width="23.70" height="7.15" fill="#98ace0" />
<rect x="391.20" y="474.30" width="23.70" height="7.15" fill="#7890d0" />
<rect x="413.90" y="474.30" width="23.70" height="7.15" fill="#6a88cc" />
<rect x="436.60" y="474.30" width="23.70" height="7.15" fill="#2b51a4" />
<rect x="459.30" y="474.30" width="22.70" height="7.15" fill="#a8b8e0" />
<rect x="345.80" y="480.45" width="23.70" height="7.15" fill="#4866c4" />
<rect x="368.50" y="480.45" width="23.70" height="7.15" fill="#8098d4" />
<rect x="391.20" y="480.45" width="23.70" height="7.15" fill="#90a8dc" />
<rect x="413.90" y="480.45" width="23.70" height="7.15" fill="#7890d0" />
<rect x="436.60" y="480.45" width="23.70" height="7.15" fill="#2b51a4" />
<rect x="459.30" y="480.45" width="22.70" height="7.15" fill="#b0c0e4" />
<rect x="345.80" y="486.60" width="23.70" height="7.15" fill="#4866c4" />
<rect x="368.50" y="486.60" width="23.70" height="7.15" fill="#c0cce8" />
<rect x="391.20" y="486.60" width="23.70" height="7.15" fill="#b8c4e8" />
<rect x="413.90" y="486.60" width="23.70" height="7.15" fill="#6a88cc" />
<rect x="436.60" y="486.60" width="23.70" height="7.15" fill="#5a78c8" />
<rect x="459.30" y="486.60" width="22.70" height="7.15" fill="#90a4d8" />
<rect x="345.80" y="492.75" width="23.70" height="7.15" fill="#5a78c8" />
<rect x="368.50" y="492.75" width="23.70" height="7.15" fill="#c0cce8" />
<rect x="391.20" y="492.75" width="23.70" height="7.15" fill="#c8d0ee" />
<rect x="413.90" y="492.75" width="23.70" height="7.15" fill="#6a88cc" />
<rect x="436.60" y="492.75" width="23.70" height="7.15" fill="#5a78c8" />
<rect x="459.30" y="492.75" width="22.70" height="7.15" fill="#c0cce8" />
<rect x="345.80" y="498.90" width="23.70" height="6.35" fill="#4a6cc4" />
<rect x="368.50" y="498.90" width="23.70" height="6.35" fill="#5070c4" />
<rect x="391.20" y="498.90" width="23.70" height="6.35" fill="#c8d0ee" />
<rect x="413.90" y="498.90" width="23.70" height="6.35" fill="#6a88cc" />
<rect x="436.60" y="498.90" width="23.70" height="6.35" fill="#4a6cc4" />
<rect x="459.30" y="498.90" width="22.70" height="6.35" fill="#c8d0ee" />
<rect x="345.80" y="506.30" width="23.70" height="7.15" fill="#7088cc" />
<rect x="368.50" y="506.30" width="23.70" height="7.15" fill="#6080cc" />
<rect x="391.20" y="506.30" width="23.70" height="7.15" fill="#6080cc" />
<rect x="413.90" y="506.30" width="23.70" height="7.15" fill="#4060c0" />
<rect x="436.60" y="506.30" width="23.70" height="7.15" fill="#d0b8d0" />
<rect x="459.30" y="506.30" width="22.70" height="7.15" fill="#6a88cc" />
<rect x="345.80" y="512.45" width="23.70" height="7.15" fill="#4a6cc4" />
<rect x="368.50" y="512.45" width="23.70" height="7.15" fill="#7088cc" />
<rect x="391.20" y="512.45" width="23.70" height="7.15" fill="#8098d4" />
<rect x="413.90" y="512.45" width="23.70" height="7.15" fill="#3a5db3" />
<rect x="436.60" y="512.45" width="23.70" height="7.15" fill="#b0c0e4" />
<rect x="459.30" y="512.45" width="22.70" height="7.15" fill="#6a88cc" />
<rect x="345.80" y="518.60" width="23.70" height="7.15" fill="#2b51a4" />
<rect x="368.50" y="518.60" width="23.70" height="7.15" fill="#5070c4" />
<rect x="391.20" y="518.60" width="23.70" height="7.15" fill="#3a5db3" />
<rect x="413.90" y="518.60" width="23.70" height="7.15" fill="#3050b4" />
<rect x="436.60" y="518.60" width="23.70" height="7.15" fill="#3a5db3" />
<rect x="459.30" y="518.60" width="22.70" height="7.15" fill="#4a6cc4" />
<rect x="345.80" y="524.75" width="23.70" height="7.15" fill="#c8d0ee" />
<rect x="368.50" y="524.75" width="23.70" height="7.15" fill="#90a4d8" />
<rect x="391.20" y="524.75" width="23.70" height="7.15" fill="#3a5db3" />
<rect x="413.90" y="524.75" width="23.70" height="7.15" fill="#3a5db3" />
<rect x="436.60" y="524.75" width="23.70" height="7.15" fill="#e07050" />
<rect x="459.30" y="524.75" width="22.70" height="7.15" fill="#4a6cc4" />
<rect x="345.80" y="530.90" width="23.70" height="7.15" fill="#3a5db3" />
<rect x="368.50" y="530.90" width="23.70" height="7.15" fill="#a8b8e0" />
<rect x="391.20" y="530.90" width="23.70" height="7.15" fill="#5a78c8" />
<rect x="413.90" y="530.90" width="23.70" height="7.15" fill="#3a5db3" />
<rect x="436.60" y="530.90" width="23.70" height="7.15" fill="#4060c0" />
<rect x="459.30" y="530.90" width="22.70" height="7.15" fill="#4a6cc4" />
<rect x="345.80" y="537.05" width="23.70" height="7.15" fill="#3a5db3" />
<rect x="368.50" y="537.05" width="23.70" height="7.15" fill="#8098d4" />
<rect x="391.20" y="537.05" width="23.70" height="7.15" fill="#3a5db3" />
<rect x="413.90" y="537.05" width="23.70" height="7.15" fill="#4060c0" />
<rect x="436.60" y="537.05" width="23.70" height="7.15" fill="#4a6cc4" />
<rect x="459.30" y="537.05" width="22.70" height="7.15" fill="#7890d0" />
<rect x="345.80" y="543.20" width="23.70" height="7.15" fill="#3a5db3" />
<rect x="368.50" y="543.20" width="23.70" height="7.15" fill="#6a88cc" />
<rect x="391.20" y="543.20" width="23.70" height="7.15" fill="#4060c0" />
<rect x="413.90" y="543.20" width="23.70" height="7.15" fill="#3050b4" />
<rect x="436.60" y="543.20" width="23.70" height="7.15" fill="#4a6cc4" />
<rect x="459.30" y="543.20" width="22.70" height="7.15" fill="#8aa0d8" />
<rect x="345.80" y="549.35" width="23.70" height="7.15" fill="#6a88cc" />
<rect x="368.50" y="549.35" width="23.70" height="7.15" fill="#b0c0e4" />
<rect x="391.20" y="549.35" width="23.70" height="7.15" fill="#4060c0" />
<rect x="413.90" y="549.35" width="23.70" height="7.15" fill="#3050b4" />
<rect x="436.60" y="549.35" width="23.70" height="7.15" fill="#b0c0e4" />
<rect x="459.30" y="549.35" width="22.70" height="7.15" fill="#4a6cc4" />
<rect x="345.80" y="555.50" width="23.70" height="7.15" fill="#4060c0" />
<rect x="368.50" y="555.50" width="23.70" height="7.15" fill="#6a88cc" />
<rect x="391.20" y="555.50" width="23.70" height="7.15" fill="#4060c0" />
<rect x="413.90" y="555.50" width="23.70" height="7.15" fill="#3a5db3" />
<rect x="436.60" y="555.50" width="23.70" height="7.15" fill="#4a6cc4" />
<rect x="459.30" y="555.50" width="22.70" height="7.15" fill="#4a6cc4" />
<rect x="345.80" y="561.65" width="23.70" height="7.15" fill="#a8b8e0" />
<rect x="368.50" y="561.65" width="23.70" height="7.15" fill="#c0cce8" />
<rect x="391.20" y="561.65" width="23.70" height="7.15" fill="#c0cce8" />
<rect x="413.90" y="561.65" width="23.70" height="7.15" fill="#4060c0" />
<rect x="436.60" y="561.65" width="23.70" height="7.15" fill="#ccd0ec" />
<rect x="459.30" y="561.65" width="22.70" height="7.15" fill="#8aa0d8" />
<rect x="345.80" y="567.80" width="23.70" height="7.15" fill="#a8b8e0" />
<rect x="368.50" y="567.80" width="23.70" height="7.15" fill="#8098d4" />
<rect x="391.20" y="567.80" width="23.70" height="7.15" fill="#c8cce8" />
<rect x="413.90" y="567.80" width="23.70" height="7.15" fill="#4060c0" />
<rect x="436.60" y="567.80" width="23.70" height="7.15" fill="#ccd0ec" />
<rect x="459.30" y="567.80" width="22.70" height="7.15" fill="#8aa0d8" />
<rect x="345.80" y="573.95" width="23.70" height="7.15" fill="#3a5db3" />
<rect x="368.50" y="573.95" width="23.70" height="7.15" fill="#7088cc" />
<rect x="391.20" y="573.95" width="23.70" height="7.15" fill="#7088cc" />
<rect x="413.90" y="573.95" width="23.70" height="7.15" fill="#4060c0" />
<rect x="436.60" y="573.95" width="23.70" height="7.15" fill="#ccd0ec" />
<rect x="459.30" y="573.95" width="22.70" height="7.15" fill="#6080cc" />
<rect x="345.80" y="580.10" width="23.70" height="7.15" fill="#b8c4e8" />
<rect x="368.50" y="580.10" width="23.70" height="7.15" fill="#90a4d8" />
<rect x="391.20" y="580.10" width="23.70" height="7.15" fill="#c0cce8" />
<rect x="413.90" y="580.10" width="23.70" height="7.15" fill="#4a6cc4" />
<rect x="436.60" y="580.10" width="23.70" height="7.15" fill="#a0b0dc" />
<rect x="459.30" y="580.10" width="22.70" height="7.15" fill="#6a88cc" />
<rect x="345.80" y="586.25" width="23.70" height="7.15" fill="#c8c8e8" />
<rect x="368.50" y="586.25" width="23.70" height="7.15" fill="#c8cce8" />
<rect x="391.20" y="586.25" width="23.70" height="7.15" fill="#ccd0ec" />
<rect x="413.90" y="586.25" width="23.70" height="7.15" fill="#5a78c8" />
<rect x="436.60" y="586.25" width="23.70" height="7.15" fill="#c8d0ee" />
<rect x="459.30" y="586.25" width="22.70" height="7.15" fill="#7890d0" />
<rect x="345.80" y="592.40" width="23.70" height="6.35" fill="#c8c8e8" />
<rect x="368.50" y="592.40" width="23.70" height="6.35" fill="#c8cce8" />
<rect x="391.20" y="592.40" width="23.70" height="6.35" fill="#ccd0ec" />
<rect x="413.90" y="592.40" width="23.70" height="6.35" fill="#4060c0" />
<rect x="436.60" y="592.40" width="23.70" height="6.35" fill="#6a88cc" />
<rect x="459.30" y="592.40" width="22.70" height="6.35" fill="#6a88cc" />
<line x1="231.50" y1="411.90" x2="482.30" y2="411.90" stroke="#111" stroke-width="1.5" />
<line x1="231.50" y1="505.90" x2="482.30" y2="505.90" stroke="#111" stroke-width="1.5" />
<line x1="342.50" y1="319.80" x2="342.50" y2="335.05" stroke="#231f20" stroke-width="1.1" />
<line x1="338.60" y1="327.42" x2="342.50" y2="327.42" stroke="#231f20" stroke-width="1.1" />
<text x="334.40" y="331.62" font-size="12.3" text-anchor="end" fill="#231f20" >Vehicle</text>
<line x1="342.50" y1="338.25" x2="342.50" y2="353.50" stroke="#231f20" stroke-width="1.1" />
<line x1="338.60" y1="345.88" x2="342.50" y2="345.88" stroke="#231f20" stroke-width="1.1" />
<text x="334.6" y="350.07" font-size="12.3" text-anchor="end" fill="#231f20">CD19-CD28 <tspan font-size="9.2" dx="2" dy="3.8">10 mg/kg</tspan></text>
<line x1="342.50" y1="356.70" x2="342.50" y2="371.95" stroke="#231f20" stroke-width="1.1" />
<line x1="338.60" y1="364.33" x2="342.50" y2="364.33" stroke="#231f20" stroke-width="1.1" />
<text x="334.6" y="368.53" font-size="12.3" text-anchor="end" fill="#231f20">CD19-CD28 <tspan font-size="9.2" dx="2" dy="3.8">1 mg/kg</tspan></text>
<line x1="342.50" y1="375.15" x2="342.50" y2="390.40" stroke="#231f20" stroke-width="1.1" />
<line x1="338.60" y1="382.77" x2="342.50" y2="382.77" stroke="#231f20" stroke-width="1.1" />
<text x="334.40" y="386.97" font-size="12.3" text-anchor="end" fill="#231f20" >TGN1412 huIgG4</text>
<line x1="342.50" y1="393.60" x2="342.50" y2="408.85" stroke="#231f20" stroke-width="1.1" />
<line x1="338.60" y1="401.23" x2="342.50" y2="401.23" stroke="#231f20" stroke-width="1.1" />
<text x="334.40" y="405.43" font-size="12.3" text-anchor="end" fill="#231f20" >TGN1412 msIgG1</text>
<line x1="342.50" y1="414.40" x2="342.50" y2="429.65" stroke="#231f20" stroke-width="1.1" />
<line x1="338.60" y1="422.02" x2="342.50" y2="422.02" stroke="#231f20" stroke-width="1.1" />
<text x="334.40" y="426.22" font-size="12.3" text-anchor="end" fill="#231f20" >Vehicle</text>
<line x1="342.50" y1="432.85" x2="342.50" y2="448.10" stroke="#231f20" stroke-width="1.1" />
<line x1="338.60" y1="440.48" x2="342.50" y2="440.48" stroke="#231f20" stroke-width="1.1" />
<text x="334.6" y="444.68" font-size="12.3" text-anchor="end" fill="#231f20">CD19-CD28 <tspan font-size="9.2" dx="2" dy="3.8">10 mg/kg</tspan></text>
<line x1="342.50" y1="451.30" x2="342.50" y2="466.55" stroke="#231f20" stroke-width="1.1" />
<line x1="338.60" y1="458.93" x2="342.50" y2="458.93" stroke="#231f20" stroke-width="1.1" />
<text x="334.6" y="463.13" font-size="12.3" text-anchor="end" fill="#231f20">CD19-CD28 <tspan font-size="9.2" dx="2" dy="3.8">1 mg/kg</tspan></text>
<line x1="342.50" y1="469.75" x2="342.50" y2="485.00" stroke="#231f20" stroke-width="1.1" />
<line x1="338.60" y1="477.38" x2="342.50" y2="477.38" stroke="#231f20" stroke-width="1.1" />
<text x="334.40" y="481.57" font-size="12.3" text-anchor="end" fill="#231f20" >TGN1412 huIgG4</text>
<line x1="342.50" y1="488.20" x2="342.50" y2="503.45" stroke="#231f20" stroke-width="1.1" />
<line x1="338.60" y1="495.83" x2="342.50" y2="495.83" stroke="#231f20" stroke-width="1.1" />
<text x="334.40" y="500.03" font-size="12.3" text-anchor="end" fill="#231f20" >TGN1412 msIgG1</text>
<line x1="342.50" y1="507.90" x2="342.50" y2="523.15" stroke="#231f20" stroke-width="1.1" />
<line x1="338.60" y1="515.52" x2="342.50" y2="515.52" stroke="#231f20" stroke-width="1.1" />
<text x="334.40" y="519.73" font-size="12.3" text-anchor="end" fill="#231f20" >Vehicle</text>
<line x1="342.50" y1="526.35" x2="342.50" y2="541.60" stroke="#231f20" stroke-width="1.1" />
<line x1="338.60" y1="533.98" x2="342.50" y2="533.98" stroke="#231f20" stroke-width="1.1" />
<text x="334.6" y="538.18" font-size="12.3" text-anchor="end" fill="#231f20">CD19-CD28 <tspan font-size="9.2" dx="2" dy="3.8">10 mg/kg</tspan></text>
<line x1="342.50" y1="544.80" x2="342.50" y2="560.05" stroke="#231f20" stroke-width="1.1" />
<line x1="338.60" y1="552.43" x2="342.50" y2="552.43" stroke="#231f20" stroke-width="1.1" />
<text x="334.6" y="556.63" font-size="12.3" text-anchor="end" fill="#231f20">CD19-CD28 <tspan font-size="9.2" dx="2" dy="3.8">1 mg/kg</tspan></text>
<line x1="342.50" y1="563.25" x2="342.50" y2="578.50" stroke="#231f20" stroke-width="1.1" />
<line x1="338.60" y1="570.88" x2="342.50" y2="570.88" stroke="#231f20" stroke-width="1.1" />
<text x="334.40" y="575.08" font-size="12.3" text-anchor="end" fill="#231f20" >TGN1412 huIgG4</text>
<line x1="342.50" y1="581.70" x2="342.50" y2="596.95" stroke="#231f20" stroke-width="1.1" />
<line x1="338.60" y1="589.33" x2="342.50" y2="589.33" stroke="#231f20" stroke-width="1.1" />
<text x="334.40" y="593.53" font-size="12.3" text-anchor="end" fill="#231f20" >TGN1412 msIgG1</text>
<line x1="484.40" y1="322.00" x2="484.40" y2="411.30" stroke="#231f20" stroke-width="1.1" />
<text x="489.20" y="369.60" font-size="12.3" fill="#231f20" >4h</text>
<line x1="484.40" y1="415.40" x2="484.40" y2="501.60" stroke="#231f20" stroke-width="1.1" />
<text x="489.20" y="463.00" font-size="12.3" fill="#231f20" >24h</text>
<line x1="484.40" y1="506.50" x2="484.40" y2="600.40" stroke="#231f20" stroke-width="1.1" />
<text x="489.20" y="558.20" font-size="12.3" fill="#231f20" >72h</text>
<line x1="349.55" y1="315.00" x2="364.75" y2="315.00" stroke="#231f20" stroke-width="1.1" />
<line x1="356.35" y1="311.50" x2="356.35" y2="315.00" stroke="#231f20" stroke-width="1.1" />
<text transform="translate(360.85,307.10) rotate(-90)" font-size="12.2" fill="#231f20" textLength="19.6" lengthAdjust="spacingAndGlyphs">IL-6</text>
<line x1="372.25" y1="315.00" x2="387.45" y2="315.00" stroke="#231f20" stroke-width="1.1" />
<line x1="379.05" y1="311.50" x2="379.05" y2="315.00" stroke="#231f20" stroke-width="1.1" />
<text transform="translate(383.55,307.10) rotate(-90)" font-size="12.2" fill="#231f20" textLength="24.0" lengthAdjust="spacingAndGlyphs">IFN<tspan font-size="8.6" dy="-2.6">&#947;</tspan></text>
<line x1="394.95" y1="315.00" x2="410.15" y2="315.00" stroke="#231f20" stroke-width="1.1" />
<line x1="401.75" y1="311.50" x2="401.75" y2="315.00" stroke="#231f20" stroke-width="1.1" />
<text transform="translate(406.25,307.10) rotate(-90)" font-size="12.2" fill="#231f20" textLength="21.5" lengthAdjust="spacingAndGlyphs">TNF</text>
<line x1="417.65" y1="315.00" x2="432.85" y2="315.00" stroke="#231f20" stroke-width="1.1" />
<line x1="424.45" y1="311.50" x2="424.45" y2="315.00" stroke="#231f20" stroke-width="1.1" />
<text transform="translate(428.95,307.10) rotate(-90)" font-size="12.2" fill="#231f20" textLength="19.6" lengthAdjust="spacingAndGlyphs">IL-2</text>
<line x1="440.35" y1="315.00" x2="455.55" y2="315.00" stroke="#231f20" stroke-width="1.1" />
<line x1="447.15" y1="311.50" x2="447.15" y2="315.00" stroke="#231f20" stroke-width="1.1" />
<text transform="translate(451.65,307.10) rotate(-90)" font-size="12.2" fill="#231f20" textLength="19.6" lengthAdjust="spacingAndGlyphs">IL-8</text>
<line x1="463.05" y1="315.00" x2="478.25" y2="315.00" stroke="#231f20" stroke-width="1.1" />
<line x1="469.85" y1="311.50" x2="469.85" y2="315.00" stroke="#231f20" stroke-width="1.1" />
<text transform="translate(474.35,307.10) rotate(-90)" font-size="12.2" fill="#231f20" textLength="26.6" lengthAdjust="spacingAndGlyphs">IL-10</text>
<defs><linearGradient id="cb" x1="0" x2="1" y1="0" y2="0"><stop offset="0" stop-color="#5570c6"/><stop offset="0.35" stop-color="#7688cc"/><stop offset="0.5" stop-color="#b898c0"/><stop offset="0.62" stop-color="#e48a88"/><stop offset="0.82" stop-color="#e64c48"/><stop offset="1" stop-color="#e01c22"/></linearGradient></defs>
<rect x="372.70" y="608.50" width="81.50" height="7.00" fill="url(#cb)" />
<text x="362.30" y="630.20" font-size="12.3" fill="#231f20" >Low</text>
<text x="441.20" y="630.20" font-size="12.3" fill="#231f20" >High</text>
<text x="10.60" y="670.80" font-size="17.2" font-weight="bold" fill="#231f20" >D</text>
<text x="94.80" y="686.30" font-size="12.6" fill="#231f20" textLength="80" lengthAdjust="spacingAndGlyphs" >No glofitamab</text>
<text x="190.90" y="686.30" font-size="12.6" fill="#231f20" textLength="89.6" lengthAdjust="spacingAndGlyphs" >1 pM glofitamab</text>
<text x="290.80" y="686.30" font-size="12.6" fill="#231f20" textLength="99.6" lengthAdjust="spacingAndGlyphs" >10 pM glofitamab</text>
<text x="394.80" y="686.30" font-size="12.6" fill="#231f20" textLength="103.2" lengthAdjust="spacingAndGlyphs" >100 pM glofitamab</text>
<line x1="83.00" y1="693.60" x2="83.00" y2="807.60" stroke="#231f20" stroke-width="1.3" />
<line x1="78.40" y1="807.00" x2="83.00" y2="807.00" stroke="#231f20" stroke-width="1.1" />
<text x="73.90" y="811.20" font-size="12" text-anchor="end" fill="#231f20" >0</text>
<line x1="78.40" y1="785.22" x2="83.00" y2="785.22" stroke="#231f20" stroke-width="1.1" />
<text x="73.90" y="789.42" font-size="12" text-anchor="end" fill="#231f20" >20</text>
<line x1="78.40" y1="763.44" x2="83.00" y2="763.44" stroke="#231f20" stroke-width="1.1" />
<text x="73.90" y="767.64" font-size="12" text-anchor="end" fill="#231f20" >40</text>
<line x1="78.40" y1="741.66" x2="83.00" y2="741.66" stroke="#231f20" stroke-width="1.1" />
<text x="73.90" y="745.86" font-size="12" text-anchor="end" fill="#231f20" >60</text>
<line x1="78.40" y1="719.88" x2="83.00" y2="719.88" stroke="#231f20" stroke-width="1.1" />
<text x="73.90" y="724.08" font-size="12" text-anchor="end" fill="#231f20" >80</text>
<line x1="78.40" y1="698.10" x2="83.00" y2="698.10" stroke="#231f20" stroke-width="1.1" />
<text x="73.90" y="702.30" font-size="12" text-anchor="end" fill="#231f20" >100</text>
<rect x="84.00" y="805.04" width="2.90" height="1.96" fill="#f7f7f8"/>
<rect x="84.00" y="805.04" width="1.00" height="1.96" fill="#d6d6da"/>
<rect x="86.88" y="805.04" width="2.90" height="1.96" fill="#f7f7f8"/>
<rect x="86.88" y="805.04" width="1.00" height="1.96" fill="#d6d6da"/>
<rect x="89.75" y="805.04" width="2.90" height="1.96" fill="#f7f7f8"/>
<rect x="89.75" y="805.04" width="1.00" height="1.96" fill="#d6d6da"/>
<rect x="92.62" y="805.04" width="2.90" height="1.96" fill="#f7f7f8"/>
<rect x="92.62" y="805.04" width="1.00" height="1.96" fill="#d6d6da"/>
<rect x="95.50" y="805.04" width="2.90" height="1.96" fill="#f7f7f8"/>
<rect x="95.50" y="805.04" width="1.00" height="1.96" fill="#d6d6da"/>
<rect x="98.38" y="805.04" width="2.90" height="1.96" fill="#f7f7f8"/>
<rect x="98.38" y="805.04" width="1.00" height="1.96" fill="#d6d6da"/>
<rect x="101.25" y="804.82" width="2.90" height="2.18" fill="#f7f7f8"/>
<rect x="101.25" y="804.82" width="1.00" height="2.18" fill="#d6d6da"/>
<rect x="104.12" y="803.73" width="2.90" height="3.27" fill="#f7f7f8"/>
<rect x="104.12" y="803.73" width="1.00" height="3.27" fill="#d6d6da"/>
<rect x="106.40" y="803.73" width="0.60" height="3.27" fill="#d6d6da"/>
<rect x="110.00" y="805.91" width="2.90" height="1.09" fill="#ededee"/>
<rect x="110.00" y="805.91" width="1.10" height="1.09" fill="#b2b2b6"/>
<rect x="112.88" y="805.91" width="2.90" height="1.09" fill="#ededee"/>
<rect x="112.88" y="805.91" width="1.10" height="1.09" fill="#b2b2b6"/>
<rect x="115.75" y="805.91" width="2.90" height="1.09" fill="#ededee"/>
<rect x="115.75" y="805.91" width="1.10" height="1.09" fill="#b2b2b6"/>
<rect x="118.62" y="805.91" width="2.90" height="1.09" fill="#ededee"/>
<rect x="118.62" y="805.91" width="1.10" height="1.09" fill="#b2b2b6"/>
<rect x="121.50" y="805.69" width="2.90" height="1.31" fill="#ededee"/>
<rect x="121.50" y="805.69" width="1.10" height="1.31" fill="#b2b2b6"/>
<rect x="124.38" y="805.69" width="2.90" height="1.31" fill="#ededee"/>
<rect x="124.38" y="805.69" width="1.10" height="1.31" fill="#b2b2b6"/>
<rect x="127.25" y="805.37" width="2.90" height="1.63" fill="#ededee"/>
<rect x="127.25" y="805.37" width="1.10" height="1.63" fill="#b2b2b6"/>
<rect x="130.12" y="804.28" width="2.90" height="2.72" fill="#ededee"/>
<rect x="130.12" y="804.28" width="1.10" height="2.72" fill="#b2b2b6"/>
<rect x="132.34" y="804.28" width="0.66" height="2.72" fill="#b2b2b6"/>
<rect x="136.00" y="805.69" width="2.90" height="1.31" fill="#c6cad6"/>
<rect x="136.00" y="805.69" width="1.15" height="1.31" fill="#5c6374"/>
<rect x="138.88" y="805.69" width="2.90" height="1.31" fill="#c6cad6"/>
<rect x="138.88" y="805.69" width="1.15" height="1.31" fill="#5c6374"/>
<rect x="141.75" y="805.37" width="2.90" height="1.63" fill="#c6cad6"/>
<rect x="141.75" y="805.37" width="1.15" height="1.63" fill="#5c6374"/>
<rect x="144.62" y="805.37" width="2.90" height="1.63" fill="#c6cad6"/>
<rect x="144.62" y="805.37" width="1.15" height="1.63" fill="#5c6374"/>
<rect x="147.50" y="805.37" width="2.90" height="1.63" fill="#c6cad6"/>
<rect x="147.50" y="805.37" width="1.15" height="1.63" fill="#5c6374"/>
<rect x="150.38" y="805.37" width="2.90" height="1.63" fill="#c6cad6"/>
<rect x="150.38" y="805.37" width="1.15" height="1.63" fill="#5c6374"/>
<rect x="153.25" y="804.82" width="2.90" height="2.18" fill="#c6cad6"/>
<rect x="153.25" y="804.82" width="1.15" height="2.18" fill="#5c6374"/>
<rect x="156.12" y="803.95" width="2.90" height="3.05" fill="#c6cad6"/>
<rect x="156.12" y="803.95" width="1.15" height="3.05" fill="#5c6374"/>
<rect x="158.31" y="803.95" width="0.69" height="3.05" fill="#5c6374"/>
<rect x="162.00" y="804.82" width="2.90" height="2.18" fill="#3e4656"/>
<rect x="162.00" y="804.82" width="0.90" height="2.18" fill="#aab2c2"/>
<rect x="164.88" y="804.82" width="2.90" height="2.18" fill="#3e4656"/>
<rect x="164.88" y="804.82" width="0.90" height="2.18" fill="#aab2c2"/>
<rect x="167.75" y="804.82" width="2.90" height="2.18" fill="#3e4656"/>
<rect x="167.75" y="804.82" width="0.90" height="2.18" fill="#aab2c2"/>
<rect x="170.62" y="804.82" width="2.90" height="2.18" fill="#3e4656"/>
<rect x="170.62" y="804.82" width="0.90" height="2.18" fill="#aab2c2"/>
<rect x="173.50" y="804.60" width="2.90" height="2.40" fill="#3e4656"/>
<rect x="173.50" y="804.60" width="0.90" height="2.40" fill="#aab2c2"/>
<rect x="176.38" y="804.60" width="2.90" height="2.40" fill="#3e4656"/>
<rect x="176.38" y="804.60" width="0.90" height="2.40" fill="#aab2c2"/>
<rect x="179.25" y="804.28" width="2.90" height="2.72" fill="#3e4656"/>
<rect x="179.25" y="804.28" width="0.90" height="2.72" fill="#aab2c2"/>
<rect x="182.12" y="803.95" width="2.90" height="3.05" fill="#3e4656"/>
<rect x="182.12" y="803.95" width="0.90" height="3.05" fill="#aab2c2"/>
<rect x="184.46" y="803.95" width="0.54" height="3.05" fill="#aab2c2"/>
<rect x="186.50" y="801.34" width="2.90" height="5.66" fill="#f7f7f8"/>
<rect x="186.50" y="801.34" width="1.00" height="5.66" fill="#d6d6da"/>
<rect x="189.38" y="800.79" width="2.90" height="6.21" fill="#f7f7f8"/>
<rect x="189.38" y="800.79" width="1.00" height="6.21" fill="#d6d6da"/>
<rect x="192.25" y="798.29" width="2.90" height="8.71" fill="#f7f7f8"/>
<rect x="192.25" y="798.29" width="1.00" height="8.71" fill="#d6d6da"/>
<rect x="195.12" y="792.19" width="2.90" height="14.81" fill="#f7f7f8"/>
<rect x="195.12" y="792.19" width="1.00" height="14.81" fill="#d6d6da"/>
<rect x="198.00" y="789.25" width="2.90" height="17.75" fill="#f7f7f8"/>
<rect x="198.00" y="789.25" width="1.00" height="17.75" fill="#d6d6da"/>
<rect x="200.88" y="787.62" width="2.90" height="19.38" fill="#f7f7f8"/>
<rect x="200.88" y="787.62" width="1.00" height="19.38" fill="#d6d6da"/>
<rect x="203.75" y="786.09" width="2.90" height="20.91" fill="#f7f7f8"/>
<rect x="203.75" y="786.09" width="1.00" height="20.91" fill="#d6d6da"/>
<rect x="206.62" y="785.22" width="2.90" height="21.78" fill="#f7f7f8"/>
<rect x="206.62" y="785.22" width="1.00" height="21.78" fill="#d6d6da"/>
<rect x="208.90" y="785.22" width="0.60" height="21.78" fill="#d6d6da"/>
<rect x="212.50" y="803.73" width="2.90" height="3.27" fill="#ededee"/>
<rect x="212.50" y="803.73" width="1.10" height="3.27" fill="#b2b2b6"/>
<rect x="215.38" y="803.73" width="2.90" height="3.27" fill="#ededee"/>
<rect x="215.38" y="803.73" width="1.10" height="3.27" fill="#b2b2b6"/>
<rect x="218.25" y="800.79" width="2.90" height="6.21" fill="#ededee"/>
<rect x="218.25" y="800.79" width="1.10" height="6.21" fill="#b2b2b6"/>
<rect x="221.12" y="786.64" width="2.90" height="20.36" fill="#ededee"/>
<rect x="221.12" y="786.64" width="1.10" height="20.36" fill="#b2b2b6"/>
<rect x="224.00" y="782.61" width="2.90" height="24.39" fill="#ededee"/>
<rect x="224.00" y="782.61" width="1.10" height="24.39" fill="#b2b2b6"/>
<rect x="226.88" y="779.23" width="2.90" height="27.77" fill="#ededee"/>
<rect x="226.88" y="779.23" width="1.10" height="27.77" fill="#b2b2b6"/>
<rect x="229.75" y="779.99" width="2.90" height="27.01" fill="#ededee"/>
<rect x="229.75" y="779.99" width="1.10" height="27.01" fill="#b2b2b6"/>
<rect x="232.62" y="781.19" width="2.90" height="25.81" fill="#ededee"/>
<rect x="232.62" y="781.19" width="1.10" height="25.81" fill="#b2b2b6"/>
<rect x="234.84" y="781.19" width="0.66" height="25.81" fill="#b2b2b6"/>
<rect x="238.50" y="777.60" width="2.90" height="29.40" fill="#c6cad6"/>
<rect x="238.50" y="777.60" width="1.15" height="29.40" fill="#5c6374"/>
<rect x="241.38" y="781.95" width="2.90" height="25.05" fill="#c6cad6"/>
<rect x="241.38" y="781.95" width="1.15" height="25.05" fill="#5c6374"/>
<rect x="244.25" y="773.46" width="2.90" height="33.54" fill="#c6cad6"/>
<rect x="244.25" y="773.46" width="1.15" height="33.54" fill="#5c6374"/>
<rect x="247.12" y="767.47" width="2.90" height="39.53" fill="#c6cad6"/>
<rect x="247.12" y="767.47" width="1.15" height="39.53" fill="#5c6374"/>
<rect x="250.00" y="763.44" width="2.90" height="43.56" fill="#c6cad6"/>
<rect x="250.00" y="763.44" width="1.15" height="43.56" fill="#5c6374"/>
<rect x="252.88" y="761.04" width="2.90" height="45.96" fill="#c6cad6"/>
<rect x="252.88" y="761.04" width="1.15" height="45.96" fill="#5c6374"/>
<rect x="255.75" y="761.81" width="2.90" height="45.19" fill="#c6cad6"/>
<rect x="255.75" y="761.81" width="1.15" height="45.19" fill="#5c6374"/>
<rect x="258.62" y="758.98" width="2.90" height="48.02" fill="#c6cad6"/>
<rect x="258.62" y="758.98" width="1.15" height="48.02" fill="#5c6374"/>
<rect x="260.81" y="758.98" width="0.69" height="48.02" fill="#5c6374"/>
<rect x="264.50" y="796.11" width="2.90" height="10.89" fill="#3e4656"/>
<rect x="264.50" y="796.11" width="0.90" height="10.89" fill="#aab2c2"/>
<rect x="267.38" y="797.42" width="2.90" height="9.58" fill="#3e4656"/>
<rect x="267.38" y="797.42" width="0.90" height="9.58" fill="#aab2c2"/>
<rect x="270.25" y="798.29" width="2.90" height="8.71" fill="#3e4656"/>
<rect x="270.25" y="798.29" width="0.90" height="8.71" fill="#aab2c2"/>
<rect x="273.12" y="790.66" width="2.90" height="16.34" fill="#3e4656"/>
<rect x="273.12" y="790.66" width="0.90" height="16.34" fill="#aab2c2"/>
<rect x="276.00" y="785.22" width="2.90" height="21.78" fill="#3e4656"/>
<rect x="276.00" y="785.22" width="0.90" height="21.78" fill="#aab2c2"/>
<rect x="278.88" y="779.56" width="2.90" height="27.44" fill="#3e4656"/>
<rect x="278.88" y="779.56" width="0.90" height="27.44" fill="#aab2c2"/>
<rect x="281.75" y="779.23" width="2.90" height="27.77" fill="#3e4656"/>
<rect x="281.75" y="779.23" width="0.90" height="27.77" fill="#aab2c2"/>
<rect x="284.62" y="779.99" width="2.90" height="27.01" fill="#3e4656"/>
<rect x="284.62" y="779.99" width="0.90" height="27.01" fill="#aab2c2"/>
<rect x="286.96" y="779.99" width="0.54" height="27.01" fill="#aab2c2"/>
<rect x="289.50" y="790.66" width="2.90" height="16.34" fill="#f7f7f8"/>
<rect x="289.50" y="790.66" width="1.00" height="16.34" fill="#d6d6da"/>
<rect x="292.38" y="791.10" width="2.90" height="15.90" fill="#f7f7f8"/>
<rect x="292.38" y="791.10" width="1.00" height="15.90" fill="#d6d6da"/>
<rect x="295.25" y="784.13" width="2.90" height="22.87" fill="#f7f7f8"/>
<rect x="295.25" y="784.13" width="1.00" height="22.87" fill="#d6d6da"/>
<rect x="298.12" y="769.43" width="2.90" height="37.57" fill="#f7f7f8"/>
<rect x="298.12" y="769.43" width="1.00" height="37.57" fill="#d6d6da"/>
<rect x="301.00" y="766.71" width="2.90" height="40.29" fill="#f7f7f8"/>
<rect x="301.00" y="766.71" width="1.00" height="40.29" fill="#d6d6da"/>
<rect x="303.88" y="764.75" width="2.90" height="42.25" fill="#f7f7f8"/>
<rect x="303.88" y="764.75" width="1.00" height="42.25" fill="#d6d6da"/>
<rect x="306.75" y="762.35" width="2.90" height="44.65" fill="#f7f7f8"/>
<rect x="306.75" y="762.35" width="1.00" height="44.65" fill="#d6d6da"/>
<rect x="309.62" y="758.00" width="2.90" height="49.00" fill="#f7f7f8"/>
<rect x="309.62" y="758.00" width="1.00" height="49.00" fill="#d6d6da"/>
<rect x="311.90" y="758.00" width="0.60" height="49.00" fill="#d6d6da"/>
<rect x="315.50" y="795.67" width="2.90" height="11.33" fill="#ededee"/>
<rect x="315.50" y="795.67" width="1.10" height="11.33" fill="#b2b2b6"/>
<rect x="318.38" y="795.13" width="2.90" height="11.87" fill="#ededee"/>
<rect x="318.38" y="795.13" width="1.10" height="11.87" fill="#b2b2b6"/>
<rect x="321.25" y="779.01" width="2.90" height="27.99" fill="#ededee"/>
<rect x="321.25" y="779.01" width="1.10" height="27.99" fill="#b2b2b6"/>
<rect x="324.12" y="758.76" width="2.90" height="48.24" fill="#ededee"/>
<rect x="324.12" y="758.76" width="1.10" height="48.24" fill="#b2b2b6"/>
<rect x="327.00" y="749.28" width="2.90" height="57.72" fill="#ededee"/>
<rect x="327.00" y="749.28" width="1.10" height="57.72" fill="#b2b2b6"/>
<rect x="329.88" y="746.23" width="2.90" height="60.77" fill="#ededee"/>
<rect x="329.88" y="746.23" width="1.10" height="60.77" fill="#b2b2b6"/>
<rect x="332.75" y="747.11" width="2.90" height="59.89" fill="#ededee"/>
<rect x="332.75" y="747.11" width="1.10" height="59.89" fill="#b2b2b6"/>
<rect x="335.62" y="745.14" width="2.90" height="61.86" fill="#ededee"/>
<rect x="335.62" y="745.14" width="1.10" height="61.86" fill="#b2b2b6"/>
<rect x="337.84" y="745.14" width="0.66" height="61.86" fill="#b2b2b6"/>
<rect x="341.50" y="758.32" width="2.90" height="48.68" fill="#c6cad6"/>
<rect x="341.50" y="758.32" width="1.15" height="48.68" fill="#5c6374"/>
<rect x="344.38" y="758.32" width="2.90" height="48.68" fill="#c6cad6"/>
<rect x="344.38" y="758.32" width="1.15" height="48.68" fill="#5c6374"/>
<rect x="347.25" y="750.37" width="2.90" height="56.63" fill="#c6cad6"/>
<rect x="347.25" y="750.37" width="1.15" height="56.63" fill="#5c6374"/>
<rect x="350.12" y="734.04" width="2.90" height="72.96" fill="#c6cad6"/>
<rect x="350.12" y="734.04" width="1.15" height="72.96" fill="#5c6374"/>
<rect x="353.00" y="727.50" width="2.90" height="79.50" fill="#c6cad6"/>
<rect x="353.00" y="727.50" width="1.15" height="79.50" fill="#5c6374"/>
<rect x="355.88" y="725.98" width="2.90" height="81.02" fill="#c6cad6"/>
<rect x="355.88" y="725.98" width="1.15" height="81.02" fill="#5c6374"/>
<rect x="358.75" y="725.54" width="2.90" height="81.46" fill="#c6cad6"/>
<rect x="358.75" y="725.54" width="1.15" height="81.46" fill="#5c6374"/>
<rect x="361.62" y="722.93" width="2.90" height="84.07" fill="#c6cad6"/>
<rect x="361.62" y="722.93" width="1.15" height="84.07" fill="#5c6374"/>
<rect x="363.81" y="722.93" width="0.69" height="84.07" fill="#5c6374"/>
<rect x="367.50" y="774.55" width="2.90" height="32.45" fill="#3e4656"/>
<rect x="367.50" y="774.55" width="0.90" height="32.45" fill="#aab2c2"/>
<rect x="370.38" y="780.54" width="2.90" height="26.46" fill="#3e4656"/>
<rect x="370.38" y="780.54" width="0.90" height="26.46" fill="#aab2c2"/>
<rect x="373.25" y="771.39" width="2.90" height="35.61" fill="#3e4656"/>
<rect x="373.25" y="771.39" width="0.90" height="35.61" fill="#aab2c2"/>
<rect x="376.12" y="750.37" width="2.90" height="56.63" fill="#3e4656"/>
<rect x="376.12" y="750.37" width="0.90" height="56.63" fill="#aab2c2"/>
<rect x="379.00" y="738.18" width="2.90" height="68.82" fill="#3e4656"/>
<rect x="379.00" y="738.18" width="0.90" height="68.82" fill="#aab2c2"/>
<rect x="381.88" y="733.17" width="2.90" height="73.83" fill="#3e4656"/>
<rect x="381.88" y="733.17" width="0.90" height="73.83" fill="#aab2c2"/>
<rect x="384.75" y="730.12" width="2.90" height="76.88" fill="#3e4656"/>
<rect x="384.75" y="730.12" width="0.90" height="76.88" fill="#aab2c2"/>
<rect x="387.62" y="729.68" width="2.90" height="77.32" fill="#3e4656"/>
<rect x="387.62" y="729.68" width="0.90" height="77.32" fill="#aab2c2"/>
<rect x="389.96" y="729.68" width="0.54" height="77.32" fill="#aab2c2"/>
<rect x="392.80" y="775.42" width="2.90" height="31.58" fill="#f7f7f8"/>
<rect x="392.80" y="775.42" width="1.00" height="31.58" fill="#d6d6da"/>
<rect x="395.68" y="774.66" width="2.90" height="32.34" fill="#f7f7f8"/>
<rect x="395.68" y="774.66" width="1.00" height="32.34" fill="#d6d6da"/>
<rect x="398.55" y="770.41" width="2.90" height="36.59" fill="#f7f7f8"/>
<rect x="398.55" y="770.41" width="1.00" height="36.59" fill="#d6d6da"/>
<rect x="401.43" y="751.03" width="2.90" height="55.97" fill="#f7f7f8"/>
<rect x="401.43" y="751.03" width="1.00" height="55.97" fill="#d6d6da"/>
<rect x="404.30" y="745.69" width="2.90" height="61.31" fill="#f7f7f8"/>
<rect x="404.30" y="745.69" width="1.00" height="61.31" fill="#d6d6da"/>
<rect x="407.18" y="746.45" width="2.90" height="60.55" fill="#f7f7f8"/>
<rect x="407.18" y="746.45" width="1.00" height="60.55" fill="#d6d6da"/>
<rect x="410.05" y="741.88" width="2.90" height="65.12" fill="#f7f7f8"/>
<rect x="410.05" y="741.88" width="1.00" height="65.12" fill="#d6d6da"/>
<rect x="412.93" y="738.07" width="2.90" height="68.93" fill="#f7f7f8"/>
<rect x="412.93" y="738.07" width="1.00" height="68.93" fill="#d6d6da"/>
<rect x="415.20" y="738.07" width="0.60" height="68.93" fill="#d6d6da"/>
<rect x="418.80" y="770.08" width="2.90" height="36.92" fill="#ededee"/>
<rect x="418.80" y="770.08" width="1.10" height="36.92" fill="#b2b2b6"/>
<rect x="421.68" y="766.27" width="2.90" height="40.73" fill="#ededee"/>
<rect x="421.68" y="766.27" width="1.10" height="40.73" fill="#b2b2b6"/>
<rect x="424.55" y="750.26" width="2.90" height="56.74" fill="#ededee"/>
<rect x="424.55" y="750.26" width="1.10" height="56.74" fill="#b2b2b6"/>
<rect x="427.43" y="717.48" width="2.90" height="89.52" fill="#ededee"/>
<rect x="427.43" y="717.48" width="1.10" height="89.52" fill="#b2b2b6"/>
<rect x="430.30" y="717.48" width="2.90" height="89.52" fill="#ededee"/>
<rect x="430.30" y="717.48" width="1.10" height="89.52" fill="#b2b2b6"/>
<rect x="433.18" y="715.96" width="2.90" height="91.04" fill="#ededee"/>
<rect x="433.18" y="715.96" width="1.10" height="91.04" fill="#b2b2b6"/>
<rect x="436.05" y="744.93" width="2.90" height="62.07" fill="#ededee"/>
<rect x="436.05" y="744.93" width="1.10" height="62.07" fill="#b2b2b6"/>
<rect x="438.93" y="713.67" width="2.90" height="93.33" fill="#ededee"/>
<rect x="438.93" y="713.67" width="1.10" height="93.33" fill="#b2b2b6"/>
<rect x="441.14" y="713.67" width="0.66" height="93.33" fill="#b2b2b6"/>
<rect x="444.80" y="736.54" width="2.90" height="70.46" fill="#c6cad6"/>
<rect x="444.80" y="736.54" width="1.15" height="70.46" fill="#5c6374"/>
<rect x="447.68" y="737.30" width="2.90" height="69.70" fill="#c6cad6"/>
<rect x="447.68" y="737.30" width="1.15" height="69.70" fill="#5c6374"/>
<rect x="450.55" y="732.73" width="2.90" height="74.27" fill="#c6cad6"/>
<rect x="450.55" y="732.73" width="1.15" height="74.27" fill="#5c6374"/>
<rect x="453.43" y="719.88" width="2.90" height="87.12" fill="#c6cad6"/>
<rect x="453.43" y="719.88" width="1.15" height="87.12" fill="#5c6374"/>
<rect x="456.30" y="716.83" width="2.90" height="90.17" fill="#c6cad6"/>
<rect x="456.30" y="716.83" width="1.15" height="90.17" fill="#5c6374"/>
<rect x="459.18" y="714.54" width="2.90" height="92.46" fill="#c6cad6"/>
<rect x="459.18" y="714.54" width="1.15" height="92.46" fill="#5c6374"/>
<rect x="462.05" y="713.02" width="2.90" height="93.98" fill="#c6cad6"/>
<rect x="462.05" y="713.02" width="1.15" height="93.98" fill="#5c6374"/>
<rect x="464.93" y="713.02" width="2.90" height="93.98" fill="#c6cad6"/>
<rect x="464.93" y="713.02" width="1.15" height="93.98" fill="#5c6374"/>
<rect x="467.11" y="713.02" width="0.69" height="93.98" fill="#5c6374"/>
<rect x="470.80" y="747.21" width="2.90" height="59.79" fill="#3e4656"/>
<rect x="470.80" y="747.21" width="0.90" height="59.79" fill="#aab2c2"/>
<rect x="473.68" y="749.50" width="2.90" height="57.50" fill="#3e4656"/>
<rect x="473.68" y="749.50" width="0.90" height="57.50" fill="#aab2c2"/>
<rect x="476.55" y="744.16" width="2.90" height="62.84" fill="#3e4656"/>
<rect x="476.55" y="744.16" width="0.90" height="62.84" fill="#aab2c2"/>
<rect x="479.43" y="727.50" width="2.90" height="79.50" fill="#3e4656"/>
<rect x="479.43" y="727.50" width="0.90" height="79.50" fill="#aab2c2"/>
<rect x="482.30" y="720.53" width="2.90" height="86.47" fill="#3e4656"/>
<rect x="482.30" y="720.53" width="0.90" height="86.47" fill="#aab2c2"/>
<rect x="485.18" y="719.01" width="2.90" height="87.99" fill="#3e4656"/>
<rect x="485.18" y="719.01" width="0.90" height="87.99" fill="#aab2c2"/>
<rect x="488.05" y="722.06" width="2.90" height="84.94" fill="#3e4656"/>
<rect x="488.05" y="722.06" width="0.90" height="84.94" fill="#aab2c2"/>
<rect x="490.93" y="716.72" width="2.90" height="90.28" fill="#3e4656"/>
<rect x="490.93" y="716.72" width="0.90" height="90.28" fill="#aab2c2"/>
<rect x="493.26" y="716.72" width="0.54" height="90.28" fill="#aab2c2"/>
<circle cx="85.44" cy="805.39" r="1.05" fill="#b3132f"/>
<circle cx="85.44" cy="805.38" r="1.05" fill="#b3132f"/>
<circle cx="85.44" cy="805.15" r="1.05" fill="#b3132f"/>
<circle cx="88.31" cy="805.14" r="1.05" fill="#b3132f"/>
<circle cx="88.31" cy="805.21" r="1.05" fill="#b3132f"/>
<circle cx="88.31" cy="805.50" r="1.05" fill="#b3132f"/>
<circle cx="91.19" cy="804.77" r="1.05" fill="#b3132f"/>
<circle cx="91.19" cy="805.37" r="1.05" fill="#b3132f"/>
<circle cx="91.19" cy="804.62" r="1.05" fill="#b3132f"/>
<circle cx="94.06" cy="805.11" r="1.05" fill="#b3132f"/>
<circle cx="94.06" cy="805.32" r="1.05" fill="#b3132f"/>
<circle cx="94.06" cy="805.14" r="1.05" fill="#b3132f"/>
<circle cx="96.94" cy="805.46" r="1.05" fill="#b3132f"/>
<circle cx="96.94" cy="804.81" r="1.05" fill="#b3132f"/>
<circle cx="96.94" cy="805.04" r="1.05" fill="#b3132f"/>
<circle cx="99.81" cy="805.12" r="1.05" fill="#b3132f"/>
<circle cx="99.81" cy="805.41" r="1.05" fill="#b3132f"/>
<circle cx="99.81" cy="805.40" r="1.05" fill="#b3132f"/>
<circle cx="102.69" cy="804.84" r="1.05" fill="#b3132f"/>
<circle cx="102.69" cy="804.80" r="1.05" fill="#b3132f"/>
<circle cx="102.69" cy="805.01" r="1.05" fill="#b3132f"/>
<circle cx="105.56" cy="803.44" r="1.05" fill="#b3132f"/>
<circle cx="105.56" cy="803.77" r="1.05" fill="#b3132f"/>
<circle cx="105.56" cy="803.40" r="1.05" fill="#b3132f"/>
<circle cx="111.44" cy="806.07" r="1.05" fill="#b3132f"/>
<circle cx="111.44" cy="806.18" r="1.05" fill="#b3132f"/>
<circle cx="111.44" cy="805.70" r="1.05" fill="#b3132f"/>
<circle cx="114.31" cy="805.97" r="1.05" fill="#b3132f"/>
<circle cx="114.31" cy="805.82" r="1.05" fill="#b3132f"/>
<circle cx="114.31" cy="805.81" r="1.05" fill="#b3132f"/>
<circle cx="117.19" cy="806.02" r="1.05" fill="#b3132f"/>
<circle cx="117.19" cy="805.80" r="1.05" fill="#b3132f"/>
<circle cx="117.19" cy="805.94" r="1.05" fill="#b3132f"/>
<circle cx="120.06" cy="805.48" r="1.05" fill="#b3132f"/>
<circle cx="120.06" cy="805.77" r="1.05" fill="#b3132f"/>
<circle cx="120.06" cy="805.79" r="1.05" fill="#b3132f"/>
<circle cx="122.94" cy="805.24" r="1.05" fill="#b3132f"/>
<circle cx="122.94" cy="805.83" r="1.05" fill="#b3132f"/>
<circle cx="122.94" cy="805.56" r="1.05" fill="#b3132f"/>
<circle cx="125.81" cy="805.80" r="1.05" fill="#b3132f"/>
<circle cx="125.81" cy="806.08" r="1.05" fill="#b3132f"/>
<circle cx="125.81" cy="805.53" r="1.05" fill="#b3132f"/>
<circle cx="128.69" cy="805.66" r="1.05" fill="#b3132f"/>
<circle cx="128.69" cy="805.06" r="1.05" fill="#b3132f"/>
<circle cx="128.69" cy="805.49" r="1.05" fill="#b3132f"/>
<circle cx="131.56" cy="803.93" r="1.05" fill="#b3132f"/>
<circle cx="131.56" cy="803.86" r="1.05" fill="#b3132f"/>
<circle cx="131.56" cy="804.42" r="1.05" fill="#b3132f"/>
<circle cx="137.44" cy="805.38" r="1.05" fill="#b3132f"/>
<circle cx="137.44" cy="805.93" r="1.05" fill="#b3132f"/>
<circle cx="137.44" cy="805.98" r="1.05" fill="#b3132f"/>
<circle cx="140.31" cy="805.75" r="1.05" fill="#b3132f"/>
<circle cx="140.31" cy="805.89" r="1.05" fill="#b3132f"/>
<circle cx="140.31" cy="805.84" r="1.05" fill="#b3132f"/>
<circle cx="143.19" cy="805.33" r="1.05" fill="#b3132f"/>
<circle cx="143.19" cy="805.11" r="1.05" fill="#b3132f"/>
<circle cx="143.19" cy="805.26" r="1.05" fill="#b3132f"/>
<circle cx="146.06" cy="805.72" r="1.05" fill="#b3132f"/>
<circle cx="146.06" cy="805.04" r="1.05" fill="#b3132f"/>
<circle cx="146.06" cy="805.03" r="1.05" fill="#b3132f"/>
<circle cx="148.94" cy="805.48" r="1.05" fill="#b3132f"/>
<circle cx="148.94" cy="805.33" r="1.05" fill="#b3132f"/>
<circle cx="148.94" cy="805.83" r="1.05" fill="#b3132f"/>
<circle cx="151.81" cy="805.72" r="1.05" fill="#b3132f"/>
<circle cx="151.81" cy="805.79" r="1.05" fill="#b3132f"/>
<circle cx="151.81" cy="805.77" r="1.05" fill="#b3132f"/>
<circle cx="154.69" cy="805.04" r="1.05" fill="#b3132f"/>
<circle cx="154.69" cy="804.62" r="1.05" fill="#b3132f"/>
<circle cx="154.69" cy="805.10" r="1.05" fill="#b3132f"/>
<circle cx="157.56" cy="804.17" r="1.05" fill="#b3132f"/>
<circle cx="157.56" cy="804.33" r="1.05" fill="#b3132f"/>
<circle cx="157.56" cy="803.39" r="1.05" fill="#b3132f"/>
<circle cx="163.44" cy="804.84" r="1.05" fill="#b3132f"/>
<circle cx="163.44" cy="805.28" r="1.05" fill="#b3132f"/>
<circle cx="163.44" cy="805.07" r="1.05" fill="#b3132f"/>
<circle cx="166.31" cy="805.03" r="1.05" fill="#b3132f"/>
<circle cx="166.31" cy="804.55" r="1.05" fill="#b3132f"/>
<circle cx="166.31" cy="805.12" r="1.05" fill="#b3132f"/>
<circle cx="169.19" cy="805.22" r="1.05" fill="#b3132f"/>
<circle cx="169.19" cy="804.40" r="1.05" fill="#b3132f"/>
<circle cx="169.19" cy="804.56" r="1.05" fill="#b3132f"/>
<circle cx="172.06" cy="805.00" r="1.05" fill="#b3132f"/>
<circle cx="172.06" cy="804.67" r="1.05" fill="#b3132f"/>
<circle cx="172.06" cy="804.57" r="1.05" fill="#b3132f"/>
<circle cx="174.94" cy="804.89" r="1.05" fill="#b3132f"/>
<circle cx="174.94" cy="804.09" r="1.05" fill="#b3132f"/>
<circle cx="174.94" cy="804.24" r="1.05" fill="#b3132f"/>
<circle cx="177.81" cy="804.30" r="1.05" fill="#b3132f"/>
<circle cx="177.81" cy="804.67" r="1.05" fill="#b3132f"/>
<circle cx="177.81" cy="805.06" r="1.05" fill="#b3132f"/>
<circle cx="180.69" cy="804.62" r="1.05" fill="#b3132f"/>
<circle cx="180.69" cy="804.19" r="1.05" fill="#b3132f"/>
<circle cx="180.69" cy="804.17" r="1.05" fill="#b3132f"/>
<circle cx="183.56" cy="803.37" r="1.05" fill="#b3132f"/>
<circle cx="183.56" cy="803.90" r="1.05" fill="#b3132f"/>
<circle cx="183.56" cy="804.29" r="1.05" fill="#b3132f"/>
<circle cx="187.94" cy="801.80" r="1.05" fill="#b3132f"/>
<circle cx="187.94" cy="800.90" r="1.05" fill="#b3132f"/>
<circle cx="187.94" cy="801.12" r="1.05" fill="#b3132f"/>
<circle cx="190.81" cy="800.42" r="1.05" fill="#b3132f"/>
<circle cx="190.81" cy="800.96" r="1.05" fill="#b3132f"/>
<circle cx="190.81" cy="800.24" r="1.05" fill="#b3132f"/>
<circle cx="193.69" cy="798.05" r="1.05" fill="#b3132f"/>
<circle cx="193.69" cy="798.37" r="1.05" fill="#b3132f"/>
<circle cx="193.69" cy="798.20" r="1.05" fill="#b3132f"/>
<circle cx="196.56" cy="791.44" r="1.05" fill="#b3132f"/>
<circle cx="196.56" cy="791.98" r="1.05" fill="#b3132f"/>
<circle cx="196.56" cy="792.08" r="1.05" fill="#b3132f"/>
<circle cx="199.44" cy="790.35" r="1.05" fill="#b3132f"/>
<circle cx="199.44" cy="788.12" r="1.05" fill="#b3132f"/>
<circle cx="199.44" cy="789.72" r="1.05" fill="#b3132f"/>
<circle cx="202.31" cy="786.36" r="1.05" fill="#b3132f"/>
<circle cx="202.31" cy="787.92" r="1.05" fill="#b3132f"/>
<circle cx="202.31" cy="788.90" r="1.05" fill="#b3132f"/>
<circle cx="205.19" cy="784.78" r="1.05" fill="#b3132f"/>
<circle cx="205.19" cy="785.65" r="1.05" fill="#b3132f"/>
<circle cx="205.19" cy="785.93" r="1.05" fill="#b3132f"/>
<circle cx="208.06" cy="784.62" r="1.05" fill="#b3132f"/>
<circle cx="208.06" cy="786.05" r="1.05" fill="#b3132f"/>
<circle cx="208.06" cy="785.82" r="1.05" fill="#b3132f"/>
<circle cx="213.94" cy="803.90" r="1.05" fill="#b3132f"/>
<circle cx="213.94" cy="803.52" r="1.05" fill="#b3132f"/>
<circle cx="213.94" cy="803.83" r="1.05" fill="#b3132f"/>
<circle cx="216.81" cy="803.35" r="1.05" fill="#b3132f"/>
<circle cx="216.81" cy="803.40" r="1.05" fill="#b3132f"/>
<circle cx="216.81" cy="803.70" r="1.05" fill="#b3132f"/>
<circle cx="219.69" cy="801.19" r="1.05" fill="#b3132f"/>
<circle cx="219.69" cy="801.11" r="1.05" fill="#b3132f"/>
<circle cx="219.69" cy="800.90" r="1.05" fill="#b3132f"/>
<circle cx="222.56" cy="787.46" r="1.05" fill="#b3132f"/>
<circle cx="222.56" cy="786.04" r="1.05" fill="#b3132f"/>
<circle cx="222.56" cy="787.04" r="1.05" fill="#b3132f"/>
<circle cx="225.44" cy="782.20" r="1.05" fill="#b3132f"/>
<circle cx="225.44" cy="783.71" r="1.05" fill="#b3132f"/>
<circle cx="225.44" cy="783.54" r="1.05" fill="#b3132f"/>
<circle cx="228.31" cy="778.32" r="1.05" fill="#b3132f"/>
<circle cx="228.31" cy="778.80" r="1.05" fill="#b3132f"/>
<circle cx="228.31" cy="777.91" r="1.05" fill="#b3132f"/>
<circle cx="231.19" cy="779.62" r="1.05" fill="#b3132f"/>
<circle cx="231.19" cy="779.79" r="1.05" fill="#b3132f"/>
<circle cx="231.19" cy="780.12" r="1.05" fill="#b3132f"/>
<circle cx="234.06" cy="780.87" r="1.05" fill="#b3132f"/>
<circle cx="234.06" cy="780.25" r="1.05" fill="#b3132f"/>
<circle cx="234.06" cy="780.03" r="1.05" fill="#b3132f"/>
<circle cx="239.94" cy="777.00" r="1.05" fill="#b3132f"/>
<circle cx="239.94" cy="776.71" r="1.05" fill="#b3132f"/>
<circle cx="239.94" cy="778.98" r="1.05" fill="#b3132f"/>
<circle cx="242.81" cy="783.46" r="1.05" fill="#b3132f"/>
<circle cx="242.81" cy="783.09" r="1.05" fill="#b3132f"/>
<circle cx="242.81" cy="780.75" r="1.05" fill="#b3132f"/>
<circle cx="245.69" cy="774.66" r="1.05" fill="#b3132f"/>
<circle cx="245.69" cy="773.12" r="1.05" fill="#b3132f"/>
<circle cx="245.69" cy="771.51" r="1.05" fill="#b3132f"/>
<circle cx="248.56" cy="768.41" r="1.05" fill="#b3132f"/>
<circle cx="248.56" cy="767.96" r="1.05" fill="#b3132f"/>
<circle cx="248.56" cy="764.86" r="1.05" fill="#b3132f"/>
<circle cx="251.44" cy="765.27" r="1.05" fill="#b3132f"/>
<circle cx="251.44" cy="763.50" r="1.05" fill="#b3132f"/>
<circle cx="251.44" cy="765.19" r="1.05" fill="#b3132f"/>
<circle cx="254.31" cy="760.24" r="1.05" fill="#b3132f"/>
<circle cx="254.31" cy="760.80" r="1.05" fill="#b3132f"/>
<circle cx="254.31" cy="763.85" r="1.05" fill="#b3132f"/>
<circle cx="257.19" cy="761.12" r="1.05" fill="#b3132f"/>
<circle cx="257.19" cy="763.75" r="1.05" fill="#b3132f"/>
<circle cx="257.19" cy="759.83" r="1.05" fill="#b3132f"/>
<circle cx="260.06" cy="761.46" r="1.05" fill="#b3132f"/>
<circle cx="260.06" cy="761.39" r="1.05" fill="#b3132f"/>
<circle cx="260.06" cy="760.62" r="1.05" fill="#b3132f"/>
<circle cx="265.94" cy="795.85" r="1.05" fill="#b3132f"/>
<circle cx="265.94" cy="795.90" r="1.05" fill="#b3132f"/>
<circle cx="265.94" cy="796.20" r="1.05" fill="#b3132f"/>
<circle cx="268.81" cy="797.16" r="1.05" fill="#b3132f"/>
<circle cx="268.81" cy="798.27" r="1.05" fill="#b3132f"/>
<circle cx="268.81" cy="797.27" r="1.05" fill="#b3132f"/>
<circle cx="271.69" cy="798.35" r="1.05" fill="#b3132f"/>
<circle cx="271.69" cy="797.88" r="1.05" fill="#b3132f"/>
<circle cx="271.69" cy="798.41" r="1.05" fill="#b3132f"/>
<circle cx="274.56" cy="791.20" r="1.05" fill="#b3132f"/>
<circle cx="274.56" cy="790.90" r="1.05" fill="#b3132f"/>
<circle cx="274.56" cy="790.19" r="1.05" fill="#b3132f"/>
<circle cx="277.44" cy="786.15" r="1.05" fill="#b3132f"/>
<circle cx="277.44" cy="785.38" r="1.05" fill="#b3132f"/>
<circle cx="277.44" cy="786.54" r="1.05" fill="#b3132f"/>
<circle cx="280.31" cy="781.30" r="1.05" fill="#b3132f"/>
<circle cx="280.31" cy="780.35" r="1.05" fill="#b3132f"/>
<circle cx="280.31" cy="778.89" r="1.05" fill="#b3132f"/>
<circle cx="283.19" cy="779.51" r="1.05" fill="#b3132f"/>
<circle cx="283.19" cy="780.16" r="1.05" fill="#b3132f"/>
<circle cx="283.19" cy="780.48" r="1.05" fill="#b3132f"/>
<circle cx="286.06" cy="779.19" r="1.05" fill="#b3132f"/>
<circle cx="286.06" cy="781.02" r="1.05" fill="#b3132f"/>
<circle cx="286.06" cy="778.93" r="1.05" fill="#b3132f"/>
<circle cx="290.94" cy="790.10" r="1.05" fill="#b3132f"/>
<circle cx="290.94" cy="790.38" r="1.05" fill="#b3132f"/>
<circle cx="290.94" cy="790.87" r="1.05" fill="#b3132f"/>
<circle cx="293.81" cy="790.32" r="1.05" fill="#b3132f"/>
<circle cx="293.81" cy="791.11" r="1.05" fill="#b3132f"/>
<circle cx="293.81" cy="790.59" r="1.05" fill="#b3132f"/>
<circle cx="296.69" cy="784.53" r="1.05" fill="#b3132f"/>
<circle cx="296.69" cy="785.68" r="1.05" fill="#b3132f"/>
<circle cx="296.69" cy="785.10" r="1.05" fill="#b3132f"/>
<circle cx="299.56" cy="770.82" r="1.05" fill="#b3132f"/>
<circle cx="299.56" cy="771.01" r="1.05" fill="#b3132f"/>
<circle cx="299.56" cy="767.61" r="1.05" fill="#b3132f"/>
<circle cx="302.44" cy="767.99" r="1.05" fill="#b3132f"/>
<circle cx="302.44" cy="767.74" r="1.05" fill="#b3132f"/>
<circle cx="302.44" cy="768.41" r="1.05" fill="#b3132f"/>
<circle cx="305.31" cy="765.54" r="1.05" fill="#b3132f"/>
<circle cx="305.31" cy="762.31" r="1.05" fill="#b3132f"/>
<circle cx="305.31" cy="765.64" r="1.05" fill="#b3132f"/>
<circle cx="308.19" cy="763.50" r="1.05" fill="#b3132f"/>
<circle cx="308.19" cy="765.13" r="1.05" fill="#b3132f"/>
<circle cx="308.19" cy="762.48" r="1.05" fill="#b3132f"/>
<circle cx="311.06" cy="759.75" r="1.05" fill="#b3132f"/>
<circle cx="311.06" cy="761.11" r="1.05" fill="#b3132f"/>
<circle cx="311.06" cy="760.50" r="1.05" fill="#b3132f"/>
<circle cx="316.94" cy="796.71" r="1.05" fill="#b3132f"/>
<circle cx="316.94" cy="796.17" r="1.05" fill="#b3132f"/>
<circle cx="316.94" cy="795.53" r="1.05" fill="#b3132f"/>
<circle cx="319.81" cy="794.64" r="1.05" fill="#b3132f"/>
<circle cx="319.81" cy="794.49" r="1.05" fill="#b3132f"/>
<circle cx="319.81" cy="795.44" r="1.05" fill="#b3132f"/>
<circle cx="322.69" cy="777.69" r="1.05" fill="#b3132f"/>
<circle cx="322.69" cy="778.14" r="1.05" fill="#b3132f"/>
<circle cx="322.69" cy="780.25" r="1.05" fill="#b3132f"/>
<circle cx="325.56" cy="756.38" r="1.05" fill="#b3132f"/>
<circle cx="325.56" cy="757.13" r="1.05" fill="#b3132f"/>
<circle cx="325.56" cy="760.82" r="1.05" fill="#b3132f"/>
<circle cx="328.44" cy="748.96" r="1.05" fill="#b3132f"/>
<circle cx="328.44" cy="746.89" r="1.05" fill="#b3132f"/>
<circle cx="328.44" cy="748.36" r="1.05" fill="#b3132f"/>
<circle cx="331.31" cy="744.73" r="1.05" fill="#b3132f"/>
<circle cx="331.31" cy="748.61" r="1.05" fill="#b3132f"/>
<circle cx="331.31" cy="749.03" r="1.05" fill="#b3132f"/>
<circle cx="334.19" cy="749.65" r="1.05" fill="#b3132f"/>
<circle cx="334.19" cy="746.57" r="1.05" fill="#b3132f"/>
<circle cx="334.19" cy="746.04" r="1.05" fill="#b3132f"/>
<circle cx="337.06" cy="745.66" r="1.05" fill="#b3132f"/>
<circle cx="337.06" cy="742.72" r="1.05" fill="#b3132f"/>
<circle cx="337.06" cy="745.09" r="1.05" fill="#b3132f"/>
<circle cx="342.94" cy="757.77" r="1.05" fill="#b3132f"/>
<circle cx="342.94" cy="757.15" r="1.05" fill="#b3132f"/>
<circle cx="342.94" cy="761.01" r="1.05" fill="#b3132f"/>
<circle cx="345.81" cy="757.24" r="1.05" fill="#b3132f"/>
<circle cx="345.81" cy="756.51" r="1.05" fill="#b3132f"/>
<circle cx="345.81" cy="758.46" r="1.05" fill="#b3132f"/>
<circle cx="348.69" cy="750.35" r="1.05" fill="#b3132f"/>
<circle cx="348.69" cy="748.46" r="1.05" fill="#b3132f"/>
<circle cx="348.69" cy="749.77" r="1.05" fill="#b3132f"/>
<circle cx="351.56" cy="737.34" r="1.05" fill="#b3132f"/>
<circle cx="351.56" cy="732.08" r="1.05" fill="#b3132f"/>
<circle cx="351.56" cy="733.87" r="1.05" fill="#b3132f"/>
<circle cx="354.44" cy="731.90" r="1.05" fill="#b3132f"/>
<circle cx="354.44" cy="725.69" r="1.05" fill="#b3132f"/>
<circle cx="354.44" cy="726.01" r="1.05" fill="#b3132f"/>
<circle cx="357.31" cy="725.85" r="1.05" fill="#b3132f"/>
<circle cx="357.31" cy="726.64" r="1.05" fill="#b3132f"/>
<circle cx="357.31" cy="722.41" r="1.05" fill="#b3132f"/>
<circle cx="360.19" cy="720.49" r="1.05" fill="#b3132f"/>
<circle cx="360.19" cy="730.29" r="1.05" fill="#b3132f"/>
<circle cx="360.19" cy="722.01" r="1.05" fill="#b3132f"/>
<circle cx="363.06" cy="723.64" r="1.05" fill="#b3132f"/>
<circle cx="363.06" cy="725.47" r="1.05" fill="#b3132f"/>
<circle cx="363.06" cy="725.78" r="1.05" fill="#b3132f"/>
<circle cx="368.94" cy="775.92" r="1.05" fill="#b3132f"/>
<circle cx="368.94" cy="773.10" r="1.05" fill="#b3132f"/>
<circle cx="368.94" cy="773.29" r="1.05" fill="#b3132f"/>
<circle cx="371.81" cy="779.13" r="1.05" fill="#b3132f"/>
<circle cx="371.81" cy="781.04" r="1.05" fill="#b3132f"/>
<circle cx="371.81" cy="781.00" r="1.05" fill="#b3132f"/>
<circle cx="374.69" cy="773.52" r="1.05" fill="#b3132f"/>
<circle cx="374.69" cy="771.77" r="1.05" fill="#b3132f"/>
<circle cx="374.69" cy="773.06" r="1.05" fill="#b3132f"/>
<circle cx="377.56" cy="751.33" r="1.05" fill="#b3132f"/>
<circle cx="377.56" cy="753.54" r="1.05" fill="#b3132f"/>
<circle cx="377.56" cy="748.40" r="1.05" fill="#b3132f"/>
<circle cx="380.44" cy="734.47" r="1.05" fill="#b3132f"/>
<circle cx="380.44" cy="735.04" r="1.05" fill="#b3132f"/>
<circle cx="380.44" cy="739.32" r="1.05" fill="#b3132f"/>
<circle cx="383.31" cy="728.67" r="1.05" fill="#b3132f"/>
<circle cx="383.31" cy="734.46" r="1.05" fill="#b3132f"/>
<circle cx="383.31" cy="735.55" r="1.05" fill="#b3132f"/>
<circle cx="386.19" cy="733.50" r="1.05" fill="#b3132f"/>
<circle cx="386.19" cy="731.71" r="1.05" fill="#b3132f"/>
<circle cx="386.19" cy="732.63" r="1.05" fill="#b3132f"/>
<circle cx="389.06" cy="729.85" r="1.05" fill="#b3132f"/>
<circle cx="389.06" cy="730.46" r="1.05" fill="#b3132f"/>
<circle cx="389.06" cy="725.84" r="1.05" fill="#b3132f"/>
<circle cx="394.24" cy="774.56" r="1.05" fill="#b3132f"/>
<circle cx="394.24" cy="773.71" r="1.05" fill="#b3132f"/>
<circle cx="394.24" cy="774.98" r="1.05" fill="#b3132f"/>
<circle cx="397.11" cy="773.80" r="1.05" fill="#b3132f"/>
<circle cx="397.11" cy="773.55" r="1.05" fill="#b3132f"/>
<circle cx="397.11" cy="775.88" r="1.05" fill="#b3132f"/>
<circle cx="399.99" cy="768.86" r="1.05" fill="#b3132f"/>
<circle cx="399.99" cy="770.67" r="1.05" fill="#b3132f"/>
<circle cx="399.99" cy="771.09" r="1.05" fill="#b3132f"/>
<circle cx="402.86" cy="748.04" r="1.05" fill="#b3132f"/>
<circle cx="402.86" cy="750.15" r="1.05" fill="#b3132f"/>
<circle cx="402.86" cy="750.73" r="1.05" fill="#b3132f"/>
<circle cx="405.74" cy="748.43" r="1.05" fill="#b3132f"/>
<circle cx="405.74" cy="747.48" r="1.05" fill="#b3132f"/>
<circle cx="405.74" cy="745.95" r="1.05" fill="#b3132f"/>
<circle cx="408.61" cy="743.07" r="1.05" fill="#b3132f"/>
<circle cx="408.61" cy="747.13" r="1.05" fill="#b3132f"/>
<circle cx="408.61" cy="749.04" r="1.05" fill="#b3132f"/>
<circle cx="411.49" cy="743.47" r="1.05" fill="#b3132f"/>
<circle cx="411.49" cy="744.13" r="1.05" fill="#b3132f"/>
<circle cx="411.49" cy="741.00" r="1.05" fill="#b3132f"/>
<circle cx="414.36" cy="736.08" r="1.05" fill="#b3132f"/>
<circle cx="414.36" cy="738.76" r="1.05" fill="#b3132f"/>
<circle cx="414.36" cy="739.23" r="1.05" fill="#b3132f"/>
<circle cx="420.24" cy="772.22" r="1.05" fill="#b3132f"/>
<circle cx="420.24" cy="768.34" r="1.05" fill="#b3132f"/>
<circle cx="420.24" cy="769.95" r="1.05" fill="#b3132f"/>
<circle cx="423.11" cy="764.75" r="1.05" fill="#b3132f"/>
<circle cx="423.11" cy="767.61" r="1.05" fill="#b3132f"/>
<circle cx="423.11" cy="766.81" r="1.05" fill="#b3132f"/>
<circle cx="425.99" cy="746.87" r="1.05" fill="#b3132f"/>
<circle cx="425.99" cy="748.14" r="1.05" fill="#b3132f"/>
<circle cx="425.99" cy="753.27" r="1.05" fill="#b3132f"/>
<circle cx="428.86" cy="713.26" r="1.05" fill="#b3132f"/>
<circle cx="428.86" cy="716.98" r="1.05" fill="#b3132f"/>
<circle cx="428.86" cy="718.28" r="1.05" fill="#b3132f"/>
<circle cx="431.74" cy="713.68" r="1.05" fill="#b3132f"/>
<circle cx="431.74" cy="712.63" r="1.05" fill="#b3132f"/>
<circle cx="431.74" cy="721.98" r="1.05" fill="#b3132f"/>
<circle cx="434.61" cy="715.56" r="1.05" fill="#b3132f"/>
<circle cx="434.61" cy="710.94" r="1.05" fill="#b3132f"/>
<circle cx="434.61" cy="714.12" r="1.05" fill="#b3132f"/>
<circle cx="437.49" cy="745.20" r="1.05" fill="#b3132f"/>
<circle cx="437.49" cy="748.11" r="1.05" fill="#b3132f"/>
<circle cx="437.49" cy="746.55" r="1.05" fill="#b3132f"/>
<circle cx="440.36" cy="712.21" r="1.05" fill="#b3132f"/>
<circle cx="440.36" cy="718.06" r="1.05" fill="#b3132f"/>
<circle cx="440.36" cy="711.97" r="1.05" fill="#b3132f"/>
<circle cx="446.24" cy="740.20" r="1.05" fill="#b3132f"/>
<circle cx="446.24" cy="736.26" r="1.05" fill="#b3132f"/>
<circle cx="446.24" cy="737.73" r="1.05" fill="#b3132f"/>
<circle cx="449.11" cy="736.89" r="1.05" fill="#b3132f"/>
<circle cx="449.11" cy="739.00" r="1.05" fill="#b3132f"/>
<circle cx="449.11" cy="733.34" r="1.05" fill="#b3132f"/>
<circle cx="451.99" cy="729.33" r="1.05" fill="#b3132f"/>
<circle cx="451.99" cy="735.31" r="1.05" fill="#b3132f"/>
<circle cx="451.99" cy="728.45" r="1.05" fill="#b3132f"/>
<circle cx="454.86" cy="722.31" r="1.05" fill="#b3132f"/>
<circle cx="454.86" cy="719.75" r="1.05" fill="#b3132f"/>
<circle cx="454.86" cy="720.93" r="1.05" fill="#b3132f"/>
<circle cx="457.74" cy="714.65" r="1.05" fill="#b3132f"/>
<circle cx="457.74" cy="720.19" r="1.05" fill="#b3132f"/>
<circle cx="457.74" cy="718.65" r="1.05" fill="#b3132f"/>
<circle cx="460.61" cy="712.78" r="1.05" fill="#b3132f"/>
<circle cx="460.61" cy="711.04" r="1.05" fill="#b3132f"/>
<circle cx="460.61" cy="714.75" r="1.05" fill="#b3132f"/>
<circle cx="463.49" cy="707.88" r="1.05" fill="#b3132f"/>
<circle cx="463.49" cy="709.64" r="1.05" fill="#b3132f"/>
<circle cx="463.49" cy="715.93" r="1.05" fill="#b3132f"/>
<circle cx="466.36" cy="714.94" r="1.05" fill="#b3132f"/>
<circle cx="466.36" cy="713.34" r="1.05" fill="#b3132f"/>
<circle cx="466.36" cy="716.21" r="1.05" fill="#b3132f"/>
<circle cx="472.24" cy="745.64" r="1.05" fill="#b3132f"/>
<circle cx="472.24" cy="749.84" r="1.05" fill="#b3132f"/>
<circle cx="472.24" cy="748.86" r="1.05" fill="#b3132f"/>
<circle cx="475.11" cy="752.36" r="1.05" fill="#b3132f"/>
<circle cx="475.11" cy="752.63" r="1.05" fill="#b3132f"/>
<circle cx="475.11" cy="746.42" r="1.05" fill="#b3132f"/>
<circle cx="477.99" cy="741.98" r="1.05" fill="#b3132f"/>
<circle cx="477.99" cy="741.06" r="1.05" fill="#b3132f"/>
<circle cx="477.99" cy="746.16" r="1.05" fill="#b3132f"/>
<circle cx="480.86" cy="725.56" r="1.05" fill="#b3132f"/>
<circle cx="480.86" cy="726.04" r="1.05" fill="#b3132f"/>
<circle cx="480.86" cy="728.85" r="1.05" fill="#b3132f"/>
<circle cx="483.74" cy="724.40" r="1.05" fill="#b3132f"/>
<circle cx="483.74" cy="722.95" r="1.05" fill="#b3132f"/>
<circle cx="483.74" cy="716.13" r="1.05" fill="#b3132f"/>
<circle cx="486.61" cy="714.36" r="1.05" fill="#b3132f"/>
<circle cx="486.61" cy="720.24" r="1.05" fill="#b3132f"/>
<circle cx="486.61" cy="715.67" r="1.05" fill="#b3132f"/>
<circle cx="489.49" cy="726.68" r="1.05" fill="#b3132f"/>
<circle cx="489.49" cy="722.99" r="1.05" fill="#b3132f"/>
<circle cx="489.49" cy="725.31" r="1.05" fill="#b3132f"/>
<circle cx="492.36" cy="712.83" r="1.05" fill="#b3132f"/>
<circle cx="492.36" cy="717.42" r="1.05" fill="#b3132f"/>
<circle cx="492.36" cy="714.23" r="1.05" fill="#b3132f"/>
<circle cx="334.19" cy="765.40" r="1.05" fill="#b3132f"/>
<circle cx="437.49" cy="744.93" r="1.05" fill="#b3132f"/>
<line x1="82.40" y1="807.00" x2="498.50" y2="807.00" stroke="#231f20" stroke-width="1.4" />
<rect x="90.30" y="701.80" width="8.70" height="9.00" fill="#ebebeb" />
<text x="104.30" y="710.20" font-size="11.5" fill="#231f20" >Donor 1</text>
<rect x="90.30" y="718.73" width="8.70" height="9.00" fill="#c4c4c4" />
<text x="104.30" y="727.13" font-size="11.5" fill="#231f20" >Donor 2</text>
<rect x="90.30" y="735.66" width="8.70" height="9.00" fill="#7b8090" />
<text x="104.30" y="744.06" font-size="11.5" fill="#231f20" >Donor 3</text>
<rect x="90.30" y="752.59" width="8.70" height="9.00" fill="#444c5e" />
<text x="104.30" y="760.99" font-size="11.5" fill="#231f20" >Donor 4</text>
<text transform="translate(28.00,751.10) rotate(-90)" font-size="14.5" text-anchor="middle" fill="#231f20" textLength="89.5" lengthAdjust="spacingAndGlyphs">%CD25<tspan font-size="10.5" dy="-5">+</tspan><tspan dy="5"> of CD8</tspan><tspan font-size="10.5" dy="-5">+</tspan></text>
<text transform="translate(45.40,750.40) rotate(-90)" font-size="14.5" text-anchor="middle" fill="#231f20" textLength="29.4" lengthAdjust="spacingAndGlyphs">T cells</text>
<line x1="82.30" y1="828.00" x2="82.30" y2="936.80" stroke="#231f20" stroke-width="1.3" />
<line x1="77.80" y1="936.20" x2="82.30" y2="936.20" stroke="#231f20" stroke-width="1.1" />
<text x="73.40" y="940.40" font-size="12" text-anchor="end" fill="#231f20" >0</text>
<line x1="77.80" y1="912.10" x2="82.30" y2="912.10" stroke="#231f20" stroke-width="1.1" />
<text x="73.40" y="916.30" font-size="12" text-anchor="end" fill="#231f20" >100</text>
<line x1="77.80" y1="888.00" x2="82.30" y2="888.00" stroke="#231f20" stroke-width="1.1" />
<text x="73.40" y="892.20" font-size="12" text-anchor="end" fill="#231f20" >200</text>
<line x1="77.80" y1="863.90" x2="82.30" y2="863.90" stroke="#231f20" stroke-width="1.1" />
<text x="73.40" y="868.10" font-size="12" text-anchor="end" fill="#231f20" >300</text>
<line x1="77.80" y1="839.80" x2="82.30" y2="839.80" stroke="#231f20" stroke-width="1.1" />
<text x="73.40" y="844.00" font-size="12" text-anchor="end" fill="#231f20" >400</text>
<rect x="84.00" y="935.96" width="2.90" height="0.24" fill="#f7f7f8"/>
<rect x="84.00" y="935.96" width="1.00" height="0.24" fill="#d6d6da"/>
<rect x="86.88" y="935.96" width="2.90" height="0.24" fill="#f7f7f8"/>
<rect x="86.88" y="935.96" width="1.00" height="0.24" fill="#d6d6da"/>
<rect x="89.75" y="935.96" width="2.90" height="0.24" fill="#f7f7f8"/>
<rect x="89.75" y="935.96" width="1.00" height="0.24" fill="#d6d6da"/>
<rect x="92.62" y="935.96" width="2.90" height="0.24" fill="#f7f7f8"/>
<rect x="92.62" y="935.96" width="1.00" height="0.24" fill="#d6d6da"/>
<rect x="95.50" y="935.96" width="2.90" height="0.24" fill="#f7f7f8"/>
<rect x="95.50" y="935.96" width="1.00" height="0.24" fill="#d6d6da"/>
<rect x="98.38" y="935.96" width="2.90" height="0.24" fill="#f7f7f8"/>
<rect x="98.38" y="935.96" width="1.00" height="0.24" fill="#d6d6da"/>
<rect x="101.25" y="935.96" width="2.90" height="0.24" fill="#f7f7f8"/>
<rect x="101.25" y="935.96" width="1.00" height="0.24" fill="#d6d6da"/>
<rect x="104.12" y="935.96" width="2.90" height="0.24" fill="#f7f7f8"/>
<rect x="104.12" y="935.96" width="1.00" height="0.24" fill="#d6d6da"/>
<rect x="106.40" y="935.96" width="0.60" height="0.24" fill="#d6d6da"/>
<rect x="110.00" y="935.96" width="2.90" height="0.24" fill="#ededee"/>
<rect x="110.00" y="935.96" width="1.10" height="0.24" fill="#b2b2b6"/>
<rect x="112.88" y="935.96" width="2.90" height="0.24" fill="#ededee"/>
<rect x="112.88" y="935.96" width="1.10" height="0.24" fill="#b2b2b6"/>
<rect x="115.75" y="935.72" width="2.90" height="0.48" fill="#ededee"/>
<rect x="115.75" y="935.72" width="1.10" height="0.48" fill="#b2b2b6"/>
<rect x="118.62" y="935.72" width="2.90" height="0.48" fill="#ededee"/>
<rect x="118.62" y="935.72" width="1.10" height="0.48" fill="#b2b2b6"/>
<rect x="121.50" y="935.72" width="2.90" height="0.48" fill="#ededee"/>
<rect x="121.50" y="935.72" width="1.10" height="0.48" fill="#b2b2b6"/>
<rect x="124.38" y="935.72" width="2.90" height="0.48" fill="#ededee"/>
<rect x="124.38" y="935.72" width="1.10" height="0.48" fill="#b2b2b6"/>
<rect x="127.25" y="935.72" width="2.90" height="0.48" fill="#ededee"/>
<rect x="127.25" y="935.72" width="1.10" height="0.48" fill="#b2b2b6"/>
<rect x="130.12" y="935.96" width="2.90" height="0.24" fill="#ededee"/>
<rect x="130.12" y="935.96" width="1.10" height="0.24" fill="#b2b2b6"/>
<rect x="132.34" y="935.96" width="0.66" height="0.24" fill="#b2b2b6"/>
<rect x="136.00" y="935.96" width="2.90" height="0.24" fill="#c6cad6"/>
<rect x="136.00" y="935.96" width="1.15" height="0.24" fill="#5c6374"/>
<rect x="138.88" y="935.96" width="2.90" height="0.24" fill="#c6cad6"/>
<rect x="138.88" y="935.96" width="1.15" height="0.24" fill="#5c6374"/>
<rect x="141.75" y="935.96" width="2.90" height="0.24" fill="#c6cad6"/>
<rect x="141.75" y="935.96" width="1.15" height="0.24" fill="#5c6374"/>
<rect x="144.62" y="935.72" width="2.90" height="0.48" fill="#c6cad6"/>
<rect x="144.62" y="935.72" width="1.15" height="0.48" fill="#5c6374"/>
<rect x="147.50" y="935.96" width="2.90" height="0.24" fill="#c6cad6"/>
<rect x="147.50" y="935.96" width="1.15" height="0.24" fill="#5c6374"/>
<rect x="150.38" y="935.96" width="2.90" height="0.24" fill="#c6cad6"/>
<rect x="150.38" y="935.96" width="1.15" height="0.24" fill="#5c6374"/>
<rect x="153.25" y="935.96" width="2.90" height="0.24" fill="#c6cad6"/>
<rect x="153.25" y="935.96" width="1.15" height="0.24" fill="#5c6374"/>
<rect x="156.12" y="935.96" width="2.90" height="0.24" fill="#c6cad6"/>
<rect x="156.12" y="935.96" width="1.15" height="0.24" fill="#5c6374"/>
<rect x="158.31" y="935.96" width="0.69" height="0.24" fill="#5c6374"/>
<rect x="162.00" y="935.96" width="2.90" height="0.24" fill="#3e4656"/>
<rect x="162.00" y="935.96" width="0.90" height="0.24" fill="#aab2c2"/>
<rect x="164.88" y="935.96" width="2.90" height="0.24" fill="#3e4656"/>
<rect x="164.88" y="935.96" width="0.90" height="0.24" fill="#aab2c2"/>
<rect x="167.75" y="935.96" width="2.90" height="0.24" fill="#3e4656"/>
<rect x="167.75" y="935.96" width="0.90" height="0.24" fill="#aab2c2"/>
<rect x="170.62" y="935.96" width="2.90" height="0.24" fill="#3e4656"/>
<rect x="170.62" y="935.96" width="0.90" height="0.24" fill="#aab2c2"/>
<rect x="173.50" y="935.96" width="2.90" height="0.24" fill="#3e4656"/>
<rect x="173.50" y="935.96" width="0.90" height="0.24" fill="#aab2c2"/>
<rect x="176.38" y="935.72" width="2.90" height="0.48" fill="#3e4656"/>
<rect x="176.38" y="935.72" width="0.90" height="0.48" fill="#aab2c2"/>
<rect x="179.25" y="935.72" width="2.90" height="0.48" fill="#3e4656"/>
<rect x="179.25" y="935.72" width="0.90" height="0.48" fill="#aab2c2"/>
<rect x="182.12" y="934.27" width="2.90" height="1.93" fill="#3e4656"/>
<rect x="182.12" y="934.27" width="0.90" height="1.93" fill="#aab2c2"/>
<rect x="184.46" y="934.27" width="0.54" height="1.93" fill="#aab2c2"/>
<rect x="186.50" y="934.61" width="2.90" height="1.59" fill="#f7f7f8"/>
<rect x="186.50" y="934.61" width="1.00" height="1.59" fill="#d6d6da"/>
<rect x="189.38" y="934.20" width="2.90" height="2.00" fill="#f7f7f8"/>
<rect x="189.38" y="934.20" width="1.00" height="2.00" fill="#d6d6da"/>
<rect x="192.25" y="933.79" width="2.90" height="2.41" fill="#f7f7f8"/>
<rect x="192.25" y="933.79" width="1.00" height="2.41" fill="#d6d6da"/>
<rect x="195.12" y="933.12" width="2.90" height="3.08" fill="#f7f7f8"/>
<rect x="195.12" y="933.12" width="1.00" height="3.08" fill="#d6d6da"/>
<rect x="198.00" y="926.42" width="2.90" height="9.78" fill="#f7f7f8"/>
<rect x="198.00" y="926.42" width="1.00" height="9.78" fill="#d6d6da"/>
<rect x="200.88" y="926.42" width="2.90" height="9.78" fill="#f7f7f8"/>
<rect x="200.88" y="926.42" width="1.00" height="9.78" fill="#d6d6da"/>
<rect x="203.75" y="926.56" width="2.90" height="9.64" fill="#f7f7f8"/>
<rect x="203.75" y="926.56" width="1.00" height="9.64" fill="#d6d6da"/>
<rect x="206.62" y="926.08" width="2.90" height="10.12" fill="#f7f7f8"/>
<rect x="206.62" y="926.08" width="1.00" height="10.12" fill="#d6d6da"/>
<rect x="208.90" y="926.08" width="0.60" height="10.12" fill="#d6d6da"/>
<rect x="212.50" y="935.40" width="2.90" height="0.80" fill="#ededee"/>
<rect x="212.50" y="935.40" width="1.10" height="0.80" fill="#b2b2b6"/>
<rect x="215.38" y="935.24" width="2.90" height="0.96" fill="#ededee"/>
<rect x="215.38" y="935.24" width="1.10" height="0.96" fill="#b2b2b6"/>
<rect x="218.25" y="934.61" width="2.90" height="1.59" fill="#ededee"/>
<rect x="218.25" y="934.61" width="1.10" height="1.59" fill="#b2b2b6"/>
<rect x="221.12" y="924.15" width="2.90" height="12.05" fill="#ededee"/>
<rect x="221.12" y="924.15" width="1.10" height="12.05" fill="#b2b2b6"/>
<rect x="224.00" y="930.18" width="2.90" height="6.02" fill="#ededee"/>
<rect x="224.00" y="930.18" width="1.10" height="6.02" fill="#b2b2b6"/>
<rect x="226.88" y="930.18" width="2.90" height="6.02" fill="#ededee"/>
<rect x="226.88" y="930.18" width="1.10" height="6.02" fill="#b2b2b6"/>
<rect x="229.75" y="930.42" width="2.90" height="5.78" fill="#ededee"/>
<rect x="229.75" y="930.42" width="1.10" height="5.78" fill="#b2b2b6"/>
<rect x="232.62" y="930.90" width="2.90" height="5.30" fill="#ededee"/>
<rect x="232.62" y="930.90" width="1.10" height="5.30" fill="#b2b2b6"/>
<rect x="234.84" y="930.90" width="0.66" height="5.30" fill="#b2b2b6"/>
<rect x="238.50" y="921.02" width="2.90" height="15.18" fill="#c6cad6"/>
<rect x="238.50" y="921.02" width="1.15" height="15.18" fill="#5c6374"/>
<rect x="241.38" y="935.24" width="2.90" height="0.96" fill="#c6cad6"/>
<rect x="241.38" y="935.24" width="1.15" height="0.96" fill="#5c6374"/>
<rect x="244.25" y="934.75" width="2.90" height="1.45" fill="#c6cad6"/>
<rect x="244.25" y="934.75" width="1.15" height="1.45" fill="#5c6374"/>
<rect x="247.12" y="934.27" width="2.90" height="1.93" fill="#c6cad6"/>
<rect x="247.12" y="934.27" width="1.15" height="1.93" fill="#5c6374"/>
<rect x="250.00" y="933.79" width="2.90" height="2.41" fill="#c6cad6"/>
<rect x="250.00" y="933.79" width="1.15" height="2.41" fill="#5c6374"/>
<rect x="252.88" y="929.69" width="2.90" height="6.51" fill="#c6cad6"/>
<rect x="252.88" y="929.69" width="1.15" height="6.51" fill="#5c6374"/>
<rect x="255.75" y="933.79" width="2.90" height="2.41" fill="#c6cad6"/>
<rect x="255.75" y="933.79" width="1.15" height="2.41" fill="#5c6374"/>
<rect x="258.62" y="934.75" width="2.90" height="1.45" fill="#c6cad6"/>
<rect x="258.62" y="934.75" width="1.15" height="1.45" fill="#5c6374"/>
<rect x="260.81" y="934.75" width="0.69" height="1.45" fill="#5c6374"/>
<rect x="264.50" y="935.72" width="2.90" height="0.48" fill="#3e4656"/>
<rect x="264.50" y="935.72" width="0.90" height="0.48" fill="#aab2c2"/>
<rect x="267.38" y="935.48" width="2.90" height="0.72" fill="#3e4656"/>
<rect x="267.38" y="935.48" width="0.90" height="0.72" fill="#aab2c2"/>
<rect x="270.25" y="932.10" width="2.90" height="4.10" fill="#3e4656"/>
<rect x="270.25" y="932.10" width="0.90" height="4.10" fill="#aab2c2"/>
<rect x="273.12" y="930.90" width="2.90" height="5.30" fill="#3e4656"/>
<rect x="273.12" y="930.90" width="0.90" height="5.30" fill="#aab2c2"/>
<rect x="276.00" y="919.33" width="2.90" height="16.87" fill="#3e4656"/>
<rect x="276.00" y="919.33" width="0.90" height="16.87" fill="#aab2c2"/>
<rect x="278.88" y="931.38" width="2.90" height="4.82" fill="#3e4656"/>
<rect x="278.88" y="931.38" width="0.90" height="4.82" fill="#aab2c2"/>
<rect x="281.75" y="932.83" width="2.90" height="3.37" fill="#3e4656"/>
<rect x="281.75" y="932.83" width="0.90" height="3.37" fill="#aab2c2"/>
<rect x="284.62" y="933.31" width="2.90" height="2.89" fill="#3e4656"/>
<rect x="284.62" y="933.31" width="0.90" height="2.89" fill="#aab2c2"/>
<rect x="286.96" y="933.31" width="0.54" height="2.89" fill="#aab2c2"/>
<rect x="289.50" y="930.18" width="2.90" height="6.02" fill="#f7f7f8"/>
<rect x="289.50" y="930.18" width="1.00" height="6.02" fill="#d6d6da"/>
<rect x="292.38" y="932.59" width="2.90" height="3.61" fill="#f7f7f8"/>
<rect x="292.38" y="932.59" width="1.00" height="3.61" fill="#d6d6da"/>
<rect x="295.25" y="930.18" width="2.90" height="6.02" fill="#f7f7f8"/>
<rect x="295.25" y="930.18" width="1.00" height="6.02" fill="#d6d6da"/>
<rect x="298.12" y="910.90" width="2.90" height="25.30" fill="#f7f7f8"/>
<rect x="298.12" y="910.90" width="1.00" height="25.30" fill="#d6d6da"/>
<rect x="301.00" y="903.67" width="2.90" height="32.53" fill="#f7f7f8"/>
<rect x="301.00" y="903.67" width="1.00" height="32.53" fill="#d6d6da"/>
<rect x="303.88" y="899.57" width="2.90" height="36.63" fill="#f7f7f8"/>
<rect x="303.88" y="899.57" width="1.00" height="36.63" fill="#d6d6da"/>
<rect x="306.75" y="894.51" width="2.90" height="41.69" fill="#f7f7f8"/>
<rect x="306.75" y="894.51" width="1.00" height="41.69" fill="#d6d6da"/>
<rect x="309.62" y="895.47" width="2.90" height="40.73" fill="#f7f7f8"/>
<rect x="309.62" y="895.47" width="1.00" height="40.73" fill="#d6d6da"/>
<rect x="311.90" y="895.47" width="0.60" height="40.73" fill="#d6d6da"/>
<rect x="315.50" y="929.69" width="2.90" height="6.51" fill="#ededee"/>
<rect x="315.50" y="929.69" width="1.10" height="6.51" fill="#b2b2b6"/>
<rect x="318.38" y="934.51" width="2.90" height="1.69" fill="#ededee"/>
<rect x="318.38" y="934.51" width="1.10" height="1.69" fill="#b2b2b6"/>
<rect x="321.25" y="931.38" width="2.90" height="4.82" fill="#ededee"/>
<rect x="321.25" y="931.38" width="1.10" height="4.82" fill="#b2b2b6"/>
<rect x="324.12" y="917.64" width="2.90" height="18.56" fill="#ededee"/>
<rect x="324.12" y="917.64" width="1.10" height="18.56" fill="#b2b2b6"/>
<rect x="327.00" y="907.76" width="2.90" height="28.44" fill="#ededee"/>
<rect x="327.00" y="907.76" width="1.10" height="28.44" fill="#b2b2b6"/>
<rect x="329.88" y="895.47" width="2.90" height="40.73" fill="#ededee"/>
<rect x="329.88" y="895.47" width="1.10" height="40.73" fill="#b2b2b6"/>
<rect x="332.75" y="900.53" width="2.90" height="35.67" fill="#ededee"/>
<rect x="332.75" y="900.53" width="1.10" height="35.67" fill="#b2b2b6"/>
<rect x="335.62" y="903.67" width="2.90" height="32.53" fill="#ededee"/>
<rect x="335.62" y="903.67" width="1.10" height="32.53" fill="#b2b2b6"/>
<rect x="337.84" y="903.67" width="0.66" height="32.53" fill="#b2b2b6"/>
<rect x="341.50" y="930.18" width="2.90" height="6.02" fill="#c6cad6"/>
<rect x="341.50" y="930.18" width="1.15" height="6.02" fill="#5c6374"/>
<rect x="344.38" y="935.24" width="2.90" height="0.96" fill="#c6cad6"/>
<rect x="344.38" y="935.24" width="1.15" height="0.96" fill="#5c6374"/>
<rect x="347.25" y="934.75" width="2.90" height="1.45" fill="#c6cad6"/>
<rect x="347.25" y="934.75" width="1.15" height="1.45" fill="#5c6374"/>
<rect x="350.12" y="933.31" width="2.90" height="2.89" fill="#c6cad6"/>
<rect x="350.12" y="933.31" width="1.15" height="2.89" fill="#5c6374"/>
<rect x="353.00" y="928.97" width="2.90" height="7.23" fill="#c6cad6"/>
<rect x="353.00" y="928.97" width="1.15" height="7.23" fill="#5c6374"/>
<rect x="355.88" y="921.02" width="2.90" height="15.18" fill="#c6cad6"/>
<rect x="355.88" y="921.02" width="1.15" height="15.18" fill="#5c6374"/>
<rect x="358.75" y="928.97" width="2.90" height="7.23" fill="#c6cad6"/>
<rect x="358.75" y="928.97" width="1.15" height="7.23" fill="#5c6374"/>
<rect x="361.62" y="928.01" width="2.90" height="8.19" fill="#c6cad6"/>
<rect x="361.62" y="928.01" width="1.15" height="8.19" fill="#5c6374"/>
<rect x="363.81" y="928.01" width="0.69" height="8.19" fill="#5c6374"/>
<rect x="367.50" y="932.59" width="2.90" height="3.61" fill="#3e4656"/>
<rect x="367.50" y="932.59" width="0.90" height="3.61" fill="#aab2c2"/>
<rect x="370.38" y="932.59" width="2.90" height="3.61" fill="#3e4656"/>
<rect x="370.38" y="932.59" width="0.90" height="3.61" fill="#aab2c2"/>
<rect x="373.25" y="931.86" width="2.90" height="4.34" fill="#3e4656"/>
<rect x="373.25" y="931.86" width="0.90" height="4.34" fill="#aab2c2"/>
<rect x="376.12" y="925.11" width="2.90" height="11.09" fill="#3e4656"/>
<rect x="376.12" y="925.11" width="0.90" height="11.09" fill="#aab2c2"/>
<rect x="379.00" y="918.85" width="2.90" height="17.35" fill="#3e4656"/>
<rect x="379.00" y="918.85" width="0.90" height="17.35" fill="#aab2c2"/>
<rect x="381.88" y="913.79" width="2.90" height="22.41" fill="#3e4656"/>
<rect x="381.88" y="913.79" width="0.90" height="22.41" fill="#aab2c2"/>
<rect x="384.75" y="916.92" width="2.90" height="19.28" fill="#3e4656"/>
<rect x="384.75" y="916.92" width="0.90" height="19.28" fill="#aab2c2"/>
<rect x="387.62" y="917.64" width="2.90" height="18.56" fill="#3e4656"/>
<rect x="387.62" y="917.64" width="0.90" height="18.56" fill="#aab2c2"/>
<rect x="389.96" y="917.64" width="0.54" height="18.56" fill="#aab2c2"/>
<rect x="392.80" y="921.98" width="2.90" height="14.22" fill="#f7f7f8"/>
<rect x="392.80" y="921.98" width="1.00" height="14.22" fill="#d6d6da"/>
<rect x="395.68" y="922.95" width="2.90" height="13.25" fill="#f7f7f8"/>
<rect x="395.68" y="922.95" width="1.00" height="13.25" fill="#d6d6da"/>
<rect x="398.55" y="919.81" width="2.90" height="16.39" fill="#f7f7f8"/>
<rect x="398.55" y="919.81" width="1.00" height="16.39" fill="#d6d6da"/>
<rect x="401.43" y="884.14" width="2.90" height="52.06" fill="#f7f7f8"/>
<rect x="401.43" y="884.14" width="1.00" height="52.06" fill="#d6d6da"/>
<rect x="404.30" y="875.47" width="2.90" height="60.73" fill="#f7f7f8"/>
<rect x="404.30" y="875.47" width="1.00" height="60.73" fill="#d6d6da"/>
<rect x="407.18" y="862.94" width="2.90" height="73.26" fill="#f7f7f8"/>
<rect x="407.18" y="862.94" width="1.00" height="73.26" fill="#d6d6da"/>
<rect x="410.05" y="862.70" width="2.90" height="73.50" fill="#f7f7f8"/>
<rect x="410.05" y="862.70" width="1.00" height="73.50" fill="#d6d6da"/>
<rect x="412.93" y="862.94" width="2.90" height="73.26" fill="#f7f7f8"/>
<rect x="412.93" y="862.94" width="1.00" height="73.26" fill="#d6d6da"/>
<rect x="415.20" y="862.94" width="0.60" height="73.26" fill="#d6d6da"/>
<rect x="418.80" y="924.15" width="2.90" height="12.05" fill="#ededee"/>
<rect x="418.80" y="924.15" width="1.10" height="12.05" fill="#b2b2b6"/>
<rect x="421.68" y="928.73" width="2.90" height="7.47" fill="#ededee"/>
<rect x="421.68" y="928.73" width="1.10" height="7.47" fill="#b2b2b6"/>
<rect x="424.55" y="922.95" width="2.90" height="13.25" fill="#ededee"/>
<rect x="424.55" y="922.95" width="1.10" height="13.25" fill="#b2b2b6"/>
<rect x="427.43" y="884.14" width="2.90" height="52.06" fill="#ededee"/>
<rect x="427.43" y="884.14" width="1.10" height="52.06" fill="#b2b2b6"/>
<rect x="430.30" y="873.54" width="2.90" height="62.66" fill="#ededee"/>
<rect x="430.30" y="873.54" width="1.10" height="62.66" fill="#b2b2b6"/>
<rect x="433.18" y="852.33" width="2.90" height="83.87" fill="#ededee"/>
<rect x="433.18" y="852.33" width="1.10" height="83.87" fill="#b2b2b6"/>
<rect x="436.05" y="862.94" width="2.90" height="73.26" fill="#ededee"/>
<rect x="436.05" y="862.94" width="1.10" height="73.26" fill="#b2b2b6"/>
<rect x="438.93" y="859.56" width="2.90" height="76.64" fill="#ededee"/>
<rect x="438.93" y="859.56" width="1.10" height="76.64" fill="#b2b2b6"/>
<rect x="441.14" y="859.56" width="0.66" height="76.64" fill="#b2b2b6"/>
<rect x="444.80" y="935.00" width="2.90" height="1.21" fill="#c6cad6"/>
<rect x="444.80" y="935.00" width="1.15" height="1.21" fill="#5c6374"/>
<rect x="447.68" y="934.27" width="2.90" height="1.93" fill="#c6cad6"/>
<rect x="447.68" y="934.27" width="1.15" height="1.93" fill="#5c6374"/>
<rect x="450.55" y="933.55" width="2.90" height="2.65" fill="#c6cad6"/>
<rect x="450.55" y="933.55" width="1.15" height="2.65" fill="#5c6374"/>
<rect x="453.43" y="928.25" width="2.90" height="7.95" fill="#c6cad6"/>
<rect x="453.43" y="928.25" width="1.15" height="7.95" fill="#5c6374"/>
<rect x="456.30" y="922.95" width="2.90" height="13.25" fill="#c6cad6"/>
<rect x="456.30" y="922.95" width="1.15" height="13.25" fill="#5c6374"/>
<rect x="459.18" y="917.64" width="2.90" height="18.56" fill="#c6cad6"/>
<rect x="459.18" y="917.64" width="1.15" height="18.56" fill="#5c6374"/>
<rect x="462.05" y="909.45" width="2.90" height="26.75" fill="#c6cad6"/>
<rect x="462.05" y="909.45" width="1.15" height="26.75" fill="#5c6374"/>
<rect x="464.93" y="915.72" width="2.90" height="20.48" fill="#c6cad6"/>
<rect x="464.93" y="915.72" width="1.15" height="20.48" fill="#5c6374"/>
<rect x="467.11" y="915.72" width="0.69" height="20.48" fill="#5c6374"/>
<rect x="470.80" y="919.81" width="2.90" height="16.39" fill="#3e4656"/>
<rect x="470.80" y="919.81" width="0.90" height="16.39" fill="#aab2c2"/>
<rect x="473.68" y="921.98" width="2.90" height="14.22" fill="#3e4656"/>
<rect x="473.68" y="921.98" width="0.90" height="14.22" fill="#aab2c2"/>
<rect x="476.55" y="921.98" width="2.90" height="14.22" fill="#3e4656"/>
<rect x="476.55" y="921.98" width="0.90" height="14.22" fill="#aab2c2"/>
<rect x="479.43" y="911.38" width="2.90" height="24.82" fill="#3e4656"/>
<rect x="479.43" y="911.38" width="0.90" height="24.82" fill="#aab2c2"/>
<rect x="482.30" y="901.98" width="2.90" height="34.22" fill="#3e4656"/>
<rect x="482.30" y="901.98" width="0.90" height="34.22" fill="#aab2c2"/>
<rect x="485.18" y="896.68" width="2.90" height="39.52" fill="#3e4656"/>
<rect x="485.18" y="896.68" width="0.90" height="39.52" fill="#aab2c2"/>
<rect x="488.05" y="902.94" width="2.90" height="33.26" fill="#3e4656"/>
<rect x="488.05" y="902.94" width="0.90" height="33.26" fill="#aab2c2"/>
<rect x="490.93" y="897.64" width="2.90" height="38.56" fill="#3e4656"/>
<rect x="490.93" y="897.64" width="0.90" height="38.56" fill="#aab2c2"/>
<rect x="493.26" y="897.64" width="0.54" height="38.56" fill="#aab2c2"/>
<line x1="222.56" y1="924.15" x2="222.56" y2="912.82" stroke="#c0505f" stroke-width="0.8" />
<line x1="239.94" y1="921.02" x2="239.94" y2="905.35" stroke="#c0505f" stroke-width="0.8" />
<line x1="277.44" y1="919.33" x2="277.44" y2="906.56" stroke="#c0505f" stroke-width="0.8" />
<line x1="308.19" y1="894.51" x2="308.19" y2="888.48" stroke="#c0505f" stroke-width="0.8" />
<line x1="316.94" y1="929.69" x2="316.94" y2="906.56" stroke="#c0505f" stroke-width="0.8" />
<line x1="420.24" y1="930.42" x2="420.24" y2="898.85" stroke="#c0505f" stroke-width="0.8" />
<line x1="428.86" y1="884.14" x2="428.86" y2="856.67" stroke="#c0505f" stroke-width="0.8" />
<line x1="405.74" y1="875.47" x2="405.74" y2="866.31" stroke="#c0505f" stroke-width="0.8" />
<line x1="463.49" y1="909.45" x2="463.49" y2="896.68" stroke="#c0505f" stroke-width="0.8" />
<circle cx="85.44" cy="936.06" r="1.05" fill="#b3132f"/>
<circle cx="85.44" cy="935.99" r="1.05" fill="#b3132f"/>
<circle cx="85.44" cy="935.88" r="1.05" fill="#b3132f"/>
<circle cx="88.31" cy="936.01" r="1.05" fill="#b3132f"/>
<circle cx="88.31" cy="935.92" r="1.05" fill="#b3132f"/>
<circle cx="88.31" cy="935.92" r="1.05" fill="#b3132f"/>
<circle cx="91.19" cy="936.01" r="1.05" fill="#b3132f"/>
<circle cx="91.19" cy="935.92" r="1.05" fill="#b3132f"/>
<circle cx="91.19" cy="935.92" r="1.05" fill="#b3132f"/>
<circle cx="94.06" cy="936.04" r="1.05" fill="#b3132f"/>
<circle cx="94.06" cy="935.97" r="1.05" fill="#b3132f"/>
<circle cx="94.06" cy="935.86" r="1.05" fill="#b3132f"/>
<circle cx="96.94" cy="936.01" r="1.05" fill="#b3132f"/>
<circle cx="96.94" cy="935.96" r="1.05" fill="#b3132f"/>
<circle cx="96.94" cy="936.01" r="1.05" fill="#b3132f"/>
<circle cx="99.81" cy="935.90" r="1.05" fill="#b3132f"/>
<circle cx="99.81" cy="935.90" r="1.05" fill="#b3132f"/>
<circle cx="99.81" cy="935.99" r="1.05" fill="#b3132f"/>
<circle cx="102.69" cy="935.99" r="1.05" fill="#b3132f"/>
<circle cx="102.69" cy="936.03" r="1.05" fill="#b3132f"/>
<circle cx="102.69" cy="935.92" r="1.05" fill="#b3132f"/>
<circle cx="105.56" cy="936.05" r="1.05" fill="#b3132f"/>
<circle cx="105.56" cy="935.96" r="1.05" fill="#b3132f"/>
<circle cx="105.56" cy="935.87" r="1.05" fill="#b3132f"/>
<circle cx="111.44" cy="935.85" r="1.05" fill="#b3132f"/>
<circle cx="111.44" cy="936.05" r="1.05" fill="#b3132f"/>
<circle cx="111.44" cy="935.97" r="1.05" fill="#b3132f"/>
<circle cx="114.31" cy="935.96" r="1.05" fill="#b3132f"/>
<circle cx="114.31" cy="935.98" r="1.05" fill="#b3132f"/>
<circle cx="114.31" cy="935.92" r="1.05" fill="#b3132f"/>
<circle cx="117.19" cy="935.64" r="1.05" fill="#b3132f"/>
<circle cx="117.19" cy="935.78" r="1.05" fill="#b3132f"/>
<circle cx="117.19" cy="935.74" r="1.05" fill="#b3132f"/>
<circle cx="120.06" cy="935.74" r="1.05" fill="#b3132f"/>
<circle cx="120.06" cy="935.76" r="1.05" fill="#b3132f"/>
<circle cx="120.06" cy="935.78" r="1.05" fill="#b3132f"/>
<circle cx="122.94" cy="935.66" r="1.05" fill="#b3132f"/>
<circle cx="122.94" cy="935.75" r="1.05" fill="#b3132f"/>
<circle cx="122.94" cy="935.63" r="1.05" fill="#b3132f"/>
<circle cx="125.81" cy="935.77" r="1.05" fill="#b3132f"/>
<circle cx="125.81" cy="935.67" r="1.05" fill="#b3132f"/>
<circle cx="125.81" cy="935.77" r="1.05" fill="#b3132f"/>
<circle cx="128.69" cy="935.66" r="1.05" fill="#b3132f"/>
<circle cx="128.69" cy="935.62" r="1.05" fill="#b3132f"/>
<circle cx="128.69" cy="935.78" r="1.05" fill="#b3132f"/>
<circle cx="131.56" cy="936.03" r="1.05" fill="#b3132f"/>
<circle cx="131.56" cy="935.93" r="1.05" fill="#b3132f"/>
<circle cx="131.56" cy="935.97" r="1.05" fill="#b3132f"/>
<circle cx="137.44" cy="935.96" r="1.05" fill="#b3132f"/>
<circle cx="137.44" cy="935.91" r="1.05" fill="#b3132f"/>
<circle cx="137.44" cy="936.02" r="1.05" fill="#b3132f"/>
<circle cx="140.31" cy="935.93" r="1.05" fill="#b3132f"/>
<circle cx="140.31" cy="935.99" r="1.05" fill="#b3132f"/>
<circle cx="140.31" cy="936.03" r="1.05" fill="#b3132f"/>
<circle cx="143.19" cy="935.95" r="1.05" fill="#b3132f"/>
<circle cx="143.19" cy="936.01" r="1.05" fill="#b3132f"/>
<circle cx="143.19" cy="936.01" r="1.05" fill="#b3132f"/>
<circle cx="146.06" cy="935.77" r="1.05" fill="#b3132f"/>
<circle cx="146.06" cy="935.79" r="1.05" fill="#b3132f"/>
<circle cx="146.06" cy="935.69" r="1.05" fill="#b3132f"/>
<circle cx="148.94" cy="936.05" r="1.05" fill="#b3132f"/>
<circle cx="148.94" cy="935.95" r="1.05" fill="#b3132f"/>
<circle cx="148.94" cy="936.03" r="1.05" fill="#b3132f"/>
<circle cx="151.81" cy="935.93" r="1.05" fill="#b3132f"/>
<circle cx="151.81" cy="936.00" r="1.05" fill="#b3132f"/>
<circle cx="151.81" cy="935.88" r="1.05" fill="#b3132f"/>
<circle cx="154.69" cy="935.95" r="1.05" fill="#b3132f"/>
<circle cx="154.69" cy="935.98" r="1.05" fill="#b3132f"/>
<circle cx="154.69" cy="935.85" r="1.05" fill="#b3132f"/>
<circle cx="157.56" cy="936.02" r="1.05" fill="#b3132f"/>
<circle cx="157.56" cy="936.01" r="1.05" fill="#b3132f"/>
<circle cx="157.56" cy="935.90" r="1.05" fill="#b3132f"/>
<circle cx="163.44" cy="935.90" r="1.05" fill="#b3132f"/>
<circle cx="163.44" cy="935.89" r="1.05" fill="#b3132f"/>
<circle cx="163.44" cy="936.03" r="1.05" fill="#b3132f"/>
<circle cx="166.31" cy="935.96" r="1.05" fill="#b3132f"/>
<circle cx="166.31" cy="935.88" r="1.05" fill="#b3132f"/>
<circle cx="166.31" cy="935.95" r="1.05" fill="#b3132f"/>
<circle cx="169.19" cy="935.96" r="1.05" fill="#b3132f"/>
<circle cx="169.19" cy="936.01" r="1.05" fill="#b3132f"/>
<circle cx="169.19" cy="935.88" r="1.05" fill="#b3132f"/>
<circle cx="172.06" cy="935.97" r="1.05" fill="#b3132f"/>
<circle cx="172.06" cy="935.86" r="1.05" fill="#b3132f"/>
<circle cx="172.06" cy="936.04" r="1.05" fill="#b3132f"/>
<circle cx="174.94" cy="935.85" r="1.05" fill="#b3132f"/>
<circle cx="174.94" cy="936.05" r="1.05" fill="#b3132f"/>
<circle cx="174.94" cy="935.97" r="1.05" fill="#b3132f"/>
<circle cx="177.81" cy="935.67" r="1.05" fill="#b3132f"/>
<circle cx="177.81" cy="935.76" r="1.05" fill="#b3132f"/>
<circle cx="177.81" cy="935.76" r="1.05" fill="#b3132f"/>
<circle cx="180.69" cy="935.66" r="1.05" fill="#b3132f"/>
<circle cx="180.69" cy="935.76" r="1.05" fill="#b3132f"/>
<circle cx="180.69" cy="935.75" r="1.05" fill="#b3132f"/>
<circle cx="183.56" cy="934.29" r="1.05" fill="#b3132f"/>
<circle cx="183.56" cy="934.41" r="1.05" fill="#b3132f"/>
<circle cx="183.56" cy="934.14" r="1.05" fill="#b3132f"/>
<circle cx="187.94" cy="934.68" r="1.05" fill="#b3132f"/>
<circle cx="187.94" cy="934.65" r="1.05" fill="#b3132f"/>
<circle cx="187.94" cy="934.62" r="1.05" fill="#b3132f"/>
<circle cx="190.81" cy="934.17" r="1.05" fill="#b3132f"/>
<circle cx="190.81" cy="934.21" r="1.05" fill="#b3132f"/>
<circle cx="190.81" cy="934.20" r="1.05" fill="#b3132f"/>
<circle cx="193.69" cy="933.78" r="1.05" fill="#b3132f"/>
<circle cx="193.69" cy="933.82" r="1.05" fill="#b3132f"/>
<circle cx="193.69" cy="933.90" r="1.05" fill="#b3132f"/>
<circle cx="196.56" cy="933.17" r="1.05" fill="#b3132f"/>
<circle cx="196.56" cy="932.96" r="1.05" fill="#b3132f"/>
<circle cx="196.56" cy="933.19" r="1.05" fill="#b3132f"/>
<circle cx="199.44" cy="926.52" r="1.05" fill="#b3132f"/>
<circle cx="199.44" cy="926.87" r="1.05" fill="#b3132f"/>
<circle cx="199.44" cy="926.91" r="1.05" fill="#b3132f"/>
<circle cx="202.31" cy="926.49" r="1.05" fill="#b3132f"/>
<circle cx="202.31" cy="926.34" r="1.05" fill="#b3132f"/>
<circle cx="202.31" cy="926.09" r="1.05" fill="#b3132f"/>
<circle cx="205.19" cy="926.63" r="1.05" fill="#b3132f"/>
<circle cx="205.19" cy="926.58" r="1.05" fill="#b3132f"/>
<circle cx="205.19" cy="926.11" r="1.05" fill="#b3132f"/>
<circle cx="208.06" cy="925.55" r="1.05" fill="#b3132f"/>
<circle cx="208.06" cy="925.74" r="1.05" fill="#b3132f"/>
<circle cx="208.06" cy="926.36" r="1.05" fill="#b3132f"/>
<circle cx="213.94" cy="935.32" r="1.05" fill="#b3132f"/>
<circle cx="213.94" cy="935.43" r="1.05" fill="#b3132f"/>
<circle cx="213.94" cy="935.29" r="1.05" fill="#b3132f"/>
<circle cx="216.81" cy="935.32" r="1.05" fill="#b3132f"/>
<circle cx="216.81" cy="935.27" r="1.05" fill="#b3132f"/>
<circle cx="216.81" cy="935.23" r="1.05" fill="#b3132f"/>
<circle cx="219.69" cy="934.62" r="1.05" fill="#b3132f"/>
<circle cx="219.69" cy="934.53" r="1.05" fill="#b3132f"/>
<circle cx="219.69" cy="934.71" r="1.05" fill="#b3132f"/>
<circle cx="222.56" cy="924.18" r="1.05" fill="#b3132f"/>
<circle cx="222.56" cy="924.88" r="1.05" fill="#b3132f"/>
<circle cx="222.56" cy="924.56" r="1.05" fill="#b3132f"/>
<circle cx="225.44" cy="929.97" r="1.05" fill="#b3132f"/>
<circle cx="225.44" cy="930.36" r="1.05" fill="#b3132f"/>
<circle cx="225.44" cy="930.45" r="1.05" fill="#b3132f"/>
<circle cx="228.31" cy="930.10" r="1.05" fill="#b3132f"/>
<circle cx="228.31" cy="929.89" r="1.05" fill="#b3132f"/>
<circle cx="228.31" cy="930.04" r="1.05" fill="#b3132f"/>
<circle cx="231.19" cy="930.60" r="1.05" fill="#b3132f"/>
<circle cx="231.19" cy="930.35" r="1.05" fill="#b3132f"/>
<circle cx="231.19" cy="930.25" r="1.05" fill="#b3132f"/>
<circle cx="234.06" cy="930.57" r="1.05" fill="#b3132f"/>
<circle cx="234.06" cy="930.94" r="1.05" fill="#b3132f"/>
<circle cx="234.06" cy="931.00" r="1.05" fill="#b3132f"/>
<circle cx="239.94" cy="920.66" r="1.05" fill="#b3132f"/>
<circle cx="239.94" cy="920.48" r="1.05" fill="#b3132f"/>
<circle cx="239.94" cy="920.67" r="1.05" fill="#b3132f"/>
<circle cx="242.81" cy="935.19" r="1.05" fill="#b3132f"/>
<circle cx="242.81" cy="935.35" r="1.05" fill="#b3132f"/>
<circle cx="242.81" cy="935.36" r="1.05" fill="#b3132f"/>
<circle cx="245.69" cy="934.75" r="1.05" fill="#b3132f"/>
<circle cx="245.69" cy="934.68" r="1.05" fill="#b3132f"/>
<circle cx="245.69" cy="934.87" r="1.05" fill="#b3132f"/>
<circle cx="248.56" cy="934.33" r="1.05" fill="#b3132f"/>
<circle cx="248.56" cy="934.42" r="1.05" fill="#b3132f"/>
<circle cx="248.56" cy="934.39" r="1.05" fill="#b3132f"/>
<circle cx="251.44" cy="933.85" r="1.05" fill="#b3132f"/>
<circle cx="251.44" cy="933.82" r="1.05" fill="#b3132f"/>
<circle cx="251.44" cy="933.76" r="1.05" fill="#b3132f"/>
<circle cx="254.31" cy="929.89" r="1.05" fill="#b3132f"/>
<circle cx="254.31" cy="929.96" r="1.05" fill="#b3132f"/>
<circle cx="254.31" cy="929.98" r="1.05" fill="#b3132f"/>
<circle cx="257.19" cy="933.63" r="1.05" fill="#b3132f"/>
<circle cx="257.19" cy="933.86" r="1.05" fill="#b3132f"/>
<circle cx="257.19" cy="933.90" r="1.05" fill="#b3132f"/>
<circle cx="260.06" cy="934.77" r="1.05" fill="#b3132f"/>
<circle cx="260.06" cy="934.74" r="1.05" fill="#b3132f"/>
<circle cx="260.06" cy="934.63" r="1.05" fill="#b3132f"/>
<circle cx="265.94" cy="935.65" r="1.05" fill="#b3132f"/>
<circle cx="265.94" cy="935.74" r="1.05" fill="#b3132f"/>
<circle cx="265.94" cy="935.77" r="1.05" fill="#b3132f"/>
<circle cx="268.81" cy="935.46" r="1.05" fill="#b3132f"/>
<circle cx="268.81" cy="935.51" r="1.05" fill="#b3132f"/>
<circle cx="268.81" cy="935.51" r="1.05" fill="#b3132f"/>
<circle cx="271.69" cy="932.23" r="1.05" fill="#b3132f"/>
<circle cx="271.69" cy="932.07" r="1.05" fill="#b3132f"/>
<circle cx="271.69" cy="932.01" r="1.05" fill="#b3132f"/>
<circle cx="274.56" cy="931.06" r="1.05" fill="#b3132f"/>
<circle cx="274.56" cy="931.11" r="1.05" fill="#b3132f"/>
<circle cx="274.56" cy="930.68" r="1.05" fill="#b3132f"/>
<circle cx="277.44" cy="920.26" r="1.05" fill="#b3132f"/>
<circle cx="277.44" cy="918.84" r="1.05" fill="#b3132f"/>
<circle cx="277.44" cy="918.85" r="1.05" fill="#b3132f"/>
<circle cx="280.31" cy="931.61" r="1.05" fill="#b3132f"/>
<circle cx="280.31" cy="931.62" r="1.05" fill="#b3132f"/>
<circle cx="280.31" cy="931.43" r="1.05" fill="#b3132f"/>
<circle cx="283.19" cy="932.68" r="1.05" fill="#b3132f"/>
<circle cx="283.19" cy="932.79" r="1.05" fill="#b3132f"/>
<circle cx="283.19" cy="932.82" r="1.05" fill="#b3132f"/>
<circle cx="286.06" cy="933.20" r="1.05" fill="#b3132f"/>
<circle cx="286.06" cy="933.36" r="1.05" fill="#b3132f"/>
<circle cx="286.06" cy="933.20" r="1.05" fill="#b3132f"/>
<circle cx="290.94" cy="929.99" r="1.05" fill="#b3132f"/>
<circle cx="290.94" cy="930.40" r="1.05" fill="#b3132f"/>
<circle cx="290.94" cy="929.91" r="1.05" fill="#b3132f"/>
<circle cx="293.81" cy="932.51" r="1.05" fill="#b3132f"/>
<circle cx="293.81" cy="932.45" r="1.05" fill="#b3132f"/>
<circle cx="293.81" cy="932.62" r="1.05" fill="#b3132f"/>
<circle cx="296.69" cy="930.04" r="1.05" fill="#b3132f"/>
<circle cx="296.69" cy="929.96" r="1.05" fill="#b3132f"/>
<circle cx="296.69" cy="930.13" r="1.05" fill="#b3132f"/>
<circle cx="299.56" cy="910.23" r="1.05" fill="#b3132f"/>
<circle cx="299.56" cy="911.04" r="1.05" fill="#b3132f"/>
<circle cx="299.56" cy="910.72" r="1.05" fill="#b3132f"/>
<circle cx="302.44" cy="904.77" r="1.05" fill="#b3132f"/>
<circle cx="302.44" cy="905.23" r="1.05" fill="#b3132f"/>
<circle cx="302.44" cy="905.14" r="1.05" fill="#b3132f"/>
<circle cx="305.31" cy="901.21" r="1.05" fill="#b3132f"/>
<circle cx="305.31" cy="900.32" r="1.05" fill="#b3132f"/>
<circle cx="305.31" cy="901.73" r="1.05" fill="#b3132f"/>
<circle cx="308.19" cy="893.52" r="1.05" fill="#b3132f"/>
<circle cx="308.19" cy="893.48" r="1.05" fill="#b3132f"/>
<circle cx="308.19" cy="896.66" r="1.05" fill="#b3132f"/>
<circle cx="311.06" cy="896.08" r="1.05" fill="#b3132f"/>
<circle cx="311.06" cy="893.83" r="1.05" fill="#b3132f"/>
<circle cx="311.06" cy="897.52" r="1.05" fill="#b3132f"/>
<circle cx="316.94" cy="929.28" r="1.05" fill="#b3132f"/>
<circle cx="316.94" cy="930.06" r="1.05" fill="#b3132f"/>
<circle cx="316.94" cy="930.09" r="1.05" fill="#b3132f"/>
<circle cx="319.81" cy="934.38" r="1.05" fill="#b3132f"/>
<circle cx="319.81" cy="934.42" r="1.05" fill="#b3132f"/>
<circle cx="319.81" cy="934.53" r="1.05" fill="#b3132f"/>
<circle cx="322.69" cy="931.69" r="1.05" fill="#b3132f"/>
<circle cx="322.69" cy="931.29" r="1.05" fill="#b3132f"/>
<circle cx="322.69" cy="931.50" r="1.05" fill="#b3132f"/>
<circle cx="325.56" cy="918.76" r="1.05" fill="#b3132f"/>
<circle cx="325.56" cy="918.09" r="1.05" fill="#b3132f"/>
<circle cx="325.56" cy="917.97" r="1.05" fill="#b3132f"/>
<circle cx="328.44" cy="906.18" r="1.05" fill="#b3132f"/>
<circle cx="328.44" cy="906.54" r="1.05" fill="#b3132f"/>
<circle cx="328.44" cy="909.38" r="1.05" fill="#b3132f"/>
<circle cx="331.31" cy="895.73" r="1.05" fill="#b3132f"/>
<circle cx="331.31" cy="896.18" r="1.05" fill="#b3132f"/>
<circle cx="331.31" cy="895.34" r="1.05" fill="#b3132f"/>
<circle cx="334.19" cy="899.06" r="1.05" fill="#b3132f"/>
<circle cx="334.19" cy="899.23" r="1.05" fill="#b3132f"/>
<circle cx="334.19" cy="902.72" r="1.05" fill="#b3132f"/>
<circle cx="337.06" cy="902.55" r="1.05" fill="#b3132f"/>
<circle cx="337.06" cy="905.60" r="1.05" fill="#b3132f"/>
<circle cx="337.06" cy="903.64" r="1.05" fill="#b3132f"/>
<circle cx="342.94" cy="930.40" r="1.05" fill="#b3132f"/>
<circle cx="342.94" cy="930.22" r="1.05" fill="#b3132f"/>
<circle cx="342.94" cy="930.26" r="1.05" fill="#b3132f"/>
<circle cx="345.81" cy="935.32" r="1.05" fill="#b3132f"/>
<circle cx="345.81" cy="935.21" r="1.05" fill="#b3132f"/>
<circle cx="345.81" cy="935.25" r="1.05" fill="#b3132f"/>
<circle cx="348.69" cy="934.77" r="1.05" fill="#b3132f"/>
<circle cx="348.69" cy="934.66" r="1.05" fill="#b3132f"/>
<circle cx="348.69" cy="934.76" r="1.05" fill="#b3132f"/>
<circle cx="351.56" cy="933.36" r="1.05" fill="#b3132f"/>
<circle cx="351.56" cy="933.25" r="1.05" fill="#b3132f"/>
<circle cx="351.56" cy="933.26" r="1.05" fill="#b3132f"/>
<circle cx="354.44" cy="929.27" r="1.05" fill="#b3132f"/>
<circle cx="354.44" cy="928.62" r="1.05" fill="#b3132f"/>
<circle cx="354.44" cy="929.00" r="1.05" fill="#b3132f"/>
<circle cx="357.31" cy="921.51" r="1.05" fill="#b3132f"/>
<circle cx="357.31" cy="920.91" r="1.05" fill="#b3132f"/>
<circle cx="357.31" cy="920.53" r="1.05" fill="#b3132f"/>
<circle cx="360.19" cy="929.13" r="1.05" fill="#b3132f"/>
<circle cx="360.19" cy="929.20" r="1.05" fill="#b3132f"/>
<circle cx="360.19" cy="928.78" r="1.05" fill="#b3132f"/>
<circle cx="363.06" cy="928.34" r="1.05" fill="#b3132f"/>
<circle cx="363.06" cy="927.72" r="1.05" fill="#b3132f"/>
<circle cx="363.06" cy="928.38" r="1.05" fill="#b3132f"/>
<circle cx="368.94" cy="932.47" r="1.05" fill="#b3132f"/>
<circle cx="368.94" cy="932.76" r="1.05" fill="#b3132f"/>
<circle cx="368.94" cy="932.43" r="1.05" fill="#b3132f"/>
<circle cx="371.81" cy="932.80" r="1.05" fill="#b3132f"/>
<circle cx="371.81" cy="932.73" r="1.05" fill="#b3132f"/>
<circle cx="371.81" cy="932.64" r="1.05" fill="#b3132f"/>
<circle cx="374.69" cy="932.01" r="1.05" fill="#b3132f"/>
<circle cx="374.69" cy="931.57" r="1.05" fill="#b3132f"/>
<circle cx="374.69" cy="931.98" r="1.05" fill="#b3132f"/>
<circle cx="377.56" cy="925.67" r="1.05" fill="#b3132f"/>
<circle cx="377.56" cy="924.41" r="1.05" fill="#b3132f"/>
<circle cx="377.56" cy="924.82" r="1.05" fill="#b3132f"/>
<circle cx="380.44" cy="919.45" r="1.05" fill="#b3132f"/>
<circle cx="380.44" cy="919.72" r="1.05" fill="#b3132f"/>
<circle cx="380.44" cy="919.17" r="1.05" fill="#b3132f"/>
<circle cx="383.31" cy="914.00" r="1.05" fill="#b3132f"/>
<circle cx="383.31" cy="913.27" r="1.05" fill="#b3132f"/>
<circle cx="383.31" cy="913.44" r="1.05" fill="#b3132f"/>
<circle cx="386.19" cy="917.73" r="1.05" fill="#b3132f"/>
<circle cx="386.19" cy="917.09" r="1.05" fill="#b3132f"/>
<circle cx="386.19" cy="915.99" r="1.05" fill="#b3132f"/>
<circle cx="389.06" cy="917.43" r="1.05" fill="#b3132f"/>
<circle cx="389.06" cy="917.87" r="1.05" fill="#b3132f"/>
<circle cx="389.06" cy="917.07" r="1.05" fill="#b3132f"/>
<circle cx="394.24" cy="921.47" r="1.05" fill="#b3132f"/>
<circle cx="394.24" cy="921.35" r="1.05" fill="#b3132f"/>
<circle cx="394.24" cy="921.75" r="1.05" fill="#b3132f"/>
<circle cx="397.11" cy="923.22" r="1.05" fill="#b3132f"/>
<circle cx="397.11" cy="923.60" r="1.05" fill="#b3132f"/>
<circle cx="397.11" cy="922.45" r="1.05" fill="#b3132f"/>
<circle cx="399.99" cy="919.61" r="1.05" fill="#b3132f"/>
<circle cx="399.99" cy="919.97" r="1.05" fill="#b3132f"/>
<circle cx="399.99" cy="919.59" r="1.05" fill="#b3132f"/>
<circle cx="402.86" cy="882.97" r="1.05" fill="#b3132f"/>
<circle cx="402.86" cy="886.09" r="1.05" fill="#b3132f"/>
<circle cx="402.86" cy="882.43" r="1.05" fill="#b3132f"/>
<circle cx="405.74" cy="875.45" r="1.05" fill="#b3132f"/>
<circle cx="405.74" cy="878.83" r="1.05" fill="#b3132f"/>
<circle cx="405.74" cy="877.89" r="1.05" fill="#b3132f"/>
<circle cx="408.61" cy="859.06" r="1.05" fill="#b3132f"/>
<circle cx="408.61" cy="866.43" r="1.05" fill="#b3132f"/>
<circle cx="408.61" cy="862.53" r="1.05" fill="#b3132f"/>
<circle cx="411.49" cy="862.56" r="1.05" fill="#b3132f"/>
<circle cx="411.49" cy="859.79" r="1.05" fill="#b3132f"/>
<circle cx="411.49" cy="863.40" r="1.05" fill="#b3132f"/>
<circle cx="414.36" cy="865.45" r="1.05" fill="#b3132f"/>
<circle cx="414.36" cy="863.83" r="1.05" fill="#b3132f"/>
<circle cx="414.36" cy="866.16" r="1.05" fill="#b3132f"/>
<circle cx="420.24" cy="924.44" r="1.05" fill="#b3132f"/>
<circle cx="420.24" cy="924.50" r="1.05" fill="#b3132f"/>
<circle cx="420.24" cy="924.87" r="1.05" fill="#b3132f"/>
<circle cx="423.11" cy="928.76" r="1.05" fill="#b3132f"/>
<circle cx="423.11" cy="928.91" r="1.05" fill="#b3132f"/>
<circle cx="423.11" cy="928.93" r="1.05" fill="#b3132f"/>
<circle cx="425.99" cy="922.24" r="1.05" fill="#b3132f"/>
<circle cx="425.99" cy="923.33" r="1.05" fill="#b3132f"/>
<circle cx="425.99" cy="923.17" r="1.05" fill="#b3132f"/>
<circle cx="428.86" cy="886.41" r="1.05" fill="#b3132f"/>
<circle cx="428.86" cy="882.18" r="1.05" fill="#b3132f"/>
<circle cx="428.86" cy="884.32" r="1.05" fill="#b3132f"/>
<circle cx="431.74" cy="875.51" r="1.05" fill="#b3132f"/>
<circle cx="431.74" cy="874.62" r="1.05" fill="#b3132f"/>
<circle cx="431.74" cy="871.08" r="1.05" fill="#b3132f"/>
<circle cx="434.61" cy="852.69" r="1.05" fill="#b3132f"/>
<circle cx="434.61" cy="851.92" r="1.05" fill="#b3132f"/>
<circle cx="434.61" cy="849.00" r="1.05" fill="#b3132f"/>
<circle cx="437.49" cy="859.90" r="1.05" fill="#b3132f"/>
<circle cx="437.49" cy="864.07" r="1.05" fill="#b3132f"/>
<circle cx="437.49" cy="863.65" r="1.05" fill="#b3132f"/>
<circle cx="440.36" cy="864.09" r="1.05" fill="#b3132f"/>
<circle cx="440.36" cy="861.62" r="1.05" fill="#b3132f"/>
<circle cx="440.36" cy="861.39" r="1.05" fill="#b3132f"/>
<circle cx="446.24" cy="934.98" r="1.05" fill="#b3132f"/>
<circle cx="446.24" cy="935.00" r="1.05" fill="#b3132f"/>
<circle cx="446.24" cy="934.86" r="1.05" fill="#b3132f"/>
<circle cx="449.11" cy="934.31" r="1.05" fill="#b3132f"/>
<circle cx="449.11" cy="934.12" r="1.05" fill="#b3132f"/>
<circle cx="449.11" cy="934.29" r="1.05" fill="#b3132f"/>
<circle cx="451.99" cy="933.60" r="1.05" fill="#b3132f"/>
<circle cx="451.99" cy="933.62" r="1.05" fill="#b3132f"/>
<circle cx="451.99" cy="933.55" r="1.05" fill="#b3132f"/>
<circle cx="454.86" cy="928.70" r="1.05" fill="#b3132f"/>
<circle cx="454.86" cy="928.45" r="1.05" fill="#b3132f"/>
<circle cx="454.86" cy="928.46" r="1.05" fill="#b3132f"/>
<circle cx="457.74" cy="922.25" r="1.05" fill="#b3132f"/>
<circle cx="457.74" cy="923.40" r="1.05" fill="#b3132f"/>
<circle cx="457.74" cy="922.72" r="1.05" fill="#b3132f"/>
<circle cx="460.61" cy="917.19" r="1.05" fill="#b3132f"/>
<circle cx="460.61" cy="916.94" r="1.05" fill="#b3132f"/>
<circle cx="460.61" cy="918.28" r="1.05" fill="#b3132f"/>
<circle cx="463.49" cy="909.30" r="1.05" fill="#b3132f"/>
<circle cx="463.49" cy="909.57" r="1.05" fill="#b3132f"/>
<circle cx="463.49" cy="909.32" r="1.05" fill="#b3132f"/>
<circle cx="466.36" cy="916.44" r="1.05" fill="#b3132f"/>
<circle cx="466.36" cy="915.82" r="1.05" fill="#b3132f"/>
<circle cx="466.36" cy="915.86" r="1.05" fill="#b3132f"/>
<circle cx="472.24" cy="919.83" r="1.05" fill="#b3132f"/>
<circle cx="472.24" cy="919.66" r="1.05" fill="#b3132f"/>
<circle cx="472.24" cy="920.72" r="1.05" fill="#b3132f"/>
<circle cx="475.11" cy="922.02" r="1.05" fill="#b3132f"/>
<circle cx="475.11" cy="921.63" r="1.05" fill="#b3132f"/>
<circle cx="475.11" cy="922.21" r="1.05" fill="#b3132f"/>
<circle cx="477.99" cy="921.28" r="1.05" fill="#b3132f"/>
<circle cx="477.99" cy="921.72" r="1.05" fill="#b3132f"/>
<circle cx="477.99" cy="922.76" r="1.05" fill="#b3132f"/>
<circle cx="480.86" cy="910.75" r="1.05" fill="#b3132f"/>
<circle cx="480.86" cy="911.79" r="1.05" fill="#b3132f"/>
<circle cx="480.86" cy="911.35" r="1.05" fill="#b3132f"/>
<circle cx="483.74" cy="900.44" r="1.05" fill="#b3132f"/>
<circle cx="483.74" cy="901.06" r="1.05" fill="#b3132f"/>
<circle cx="483.74" cy="902.57" r="1.05" fill="#b3132f"/>
<circle cx="486.61" cy="897.32" r="1.05" fill="#b3132f"/>
<circle cx="486.61" cy="896.50" r="1.05" fill="#b3132f"/>
<circle cx="486.61" cy="898.06" r="1.05" fill="#b3132f"/>
<circle cx="489.49" cy="903.24" r="1.05" fill="#b3132f"/>
<circle cx="489.49" cy="901.68" r="1.05" fill="#b3132f"/>
<circle cx="489.49" cy="901.65" r="1.05" fill="#b3132f"/>
<circle cx="492.36" cy="897.67" r="1.05" fill="#b3132f"/>
<circle cx="492.36" cy="897.52" r="1.05" fill="#b3132f"/>
<circle cx="492.36" cy="896.87" r="1.05" fill="#b3132f"/>
<circle cx="222.56" cy="903.18" r="1.05" fill="#b3132f"/>
<circle cx="239.94" cy="890.65" r="1.05" fill="#b3132f"/>
<circle cx="277.44" cy="894.51" r="1.05" fill="#b3132f"/>
<circle cx="308.19" cy="881.25" r="1.05" fill="#b3132f"/>
<circle cx="316.94" cy="906.56" r="1.05" fill="#b3132f"/>
<circle cx="420.24" cy="884.14" r="1.05" fill="#b3132f"/>
<circle cx="428.86" cy="842.93" r="1.05" fill="#b3132f"/>
<circle cx="440.36" cy="839.32" r="1.05" fill="#b3132f"/>
<circle cx="492.36" cy="887.04" r="1.05" fill="#b3132f"/>
<line x1="81.90" y1="936.20" x2="498.50" y2="936.20" stroke="#231f20" stroke-width="1.4" />
<text transform="translate(44.10,881.70) rotate(-90)" font-size="14" text-anchor="middle" fill="#231f20" textLength="59" lengthAdjust="spacingAndGlyphs">IL-6 [pg/ml]</text>
<line x1="185.50" y1="698.00" x2="185.50" y2="807.00" stroke="#111" stroke-width="1.4" stroke-dasharray="4.2 3"/>
<line x1="185.50" y1="828.00" x2="185.50" y2="936.20" stroke="#111" stroke-width="1.4" stroke-dasharray="4.2 3"/>
<line x1="288.30" y1="698.00" x2="288.30" y2="807.00" stroke="#111" stroke-width="1.4" stroke-dasharray="4.2 3"/>
<line x1="288.30" y1="828.00" x2="288.30" y2="936.20" stroke="#111" stroke-width="1.4" stroke-dasharray="4.2 3"/>
<line x1="391.90" y1="698.00" x2="391.90" y2="807.00" stroke="#111" stroke-width="1.4" stroke-dasharray="4.2 3"/>
<line x1="391.90" y1="828.00" x2="391.90" y2="936.20" stroke="#111" stroke-width="1.4" stroke-dasharray="4.2 3"/>
<polygon points="84.30,942.5 105.60,942.5 105.60,949.9" fill="#16202e"/>
<polygon points="110.30,942.5 131.60,942.5 131.60,949.9" fill="#16202e"/>
<polygon points="136.30,942.5 157.60,942.5 157.60,949.9" fill="#16202e"/>
<polygon points="162.30,942.5 183.60,942.5 183.60,949.9" fill="#16202e"/>
<polygon points="186.80,942.5 208.10,942.5 208.10,949.9" fill="#16202e"/>
<polygon points="212.80,942.5 234.10,942.5 234.10,949.9" fill="#16202e"/>
<polygon points="238.80,942.5 260.10,942.5 260.10,949.9" fill="#16202e"/>
<polygon points="264.80,942.5 286.10,942.5 286.10,949.9" fill="#16202e"/>
<polygon points="289.80,942.5 311.10,942.5 311.10,949.9" fill="#16202e"/>
<polygon points="315.80,942.5 337.10,942.5 337.10,949.9" fill="#16202e"/>
<polygon points="341.80,942.5 363.10,942.5 363.10,949.9" fill="#16202e"/>
<polygon points="367.80,942.5 389.10,942.5 389.10,949.9" fill="#16202e"/>
<polygon points="393.10,942.5 414.40,942.5 414.40,949.9" fill="#16202e"/>
<polygon points="419.10,942.5 440.40,942.5 440.40,949.9" fill="#16202e"/>
<polygon points="445.10,942.5 466.40,942.5 466.40,949.9" fill="#16202e"/>
<polygon points="471.10,942.5 492.40,942.5 492.40,949.9" fill="#16202e"/>
<line x1="94.90" y1="949.60" x2="94.90" y2="962.00" stroke="#231f20" stroke-width="1.3" />
<text x="85.40" y="973.80" font-size="12.2" fill="#231f20" textLength="114" lengthAdjust="spacingAndGlyphs" >CD19-CD28 titration</text>
<text x="85.40" y="989.40" font-size="12.2" fill="#231f20" >0, 0.0128, 0.064, 0.32, 1.6, 8, 40, 200 nM</text>
<rect x="0.5" y="0.5" width="519" height="1002" fill="none" stroke="#1a1a1a" stroke-width="1.2"/>
</svg>
</body></html>
